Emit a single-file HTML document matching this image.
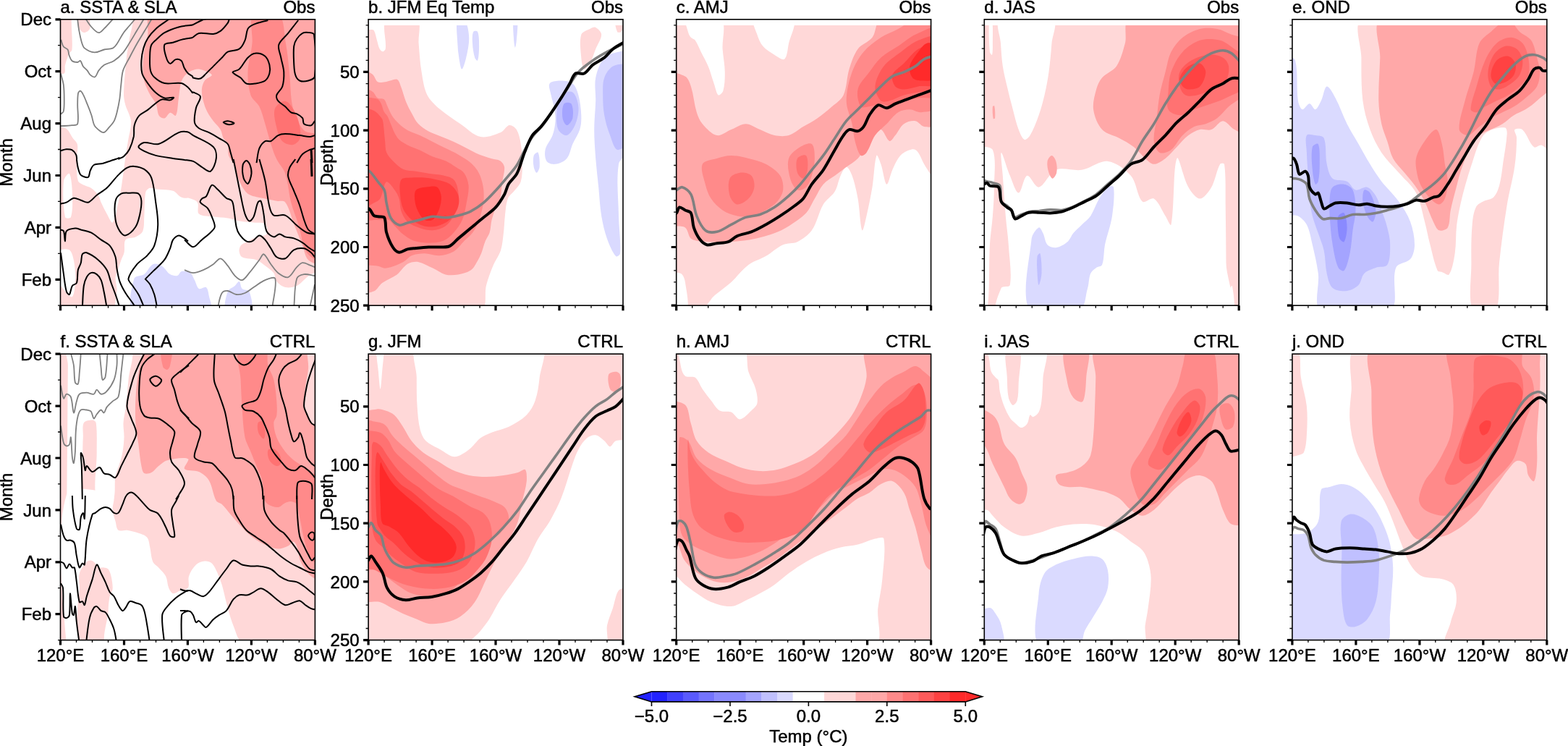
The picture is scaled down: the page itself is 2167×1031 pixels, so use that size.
<!DOCTYPE html>
<html><head><meta charset="utf-8"><style>html,body{margin:0;padding:0;background:#fff;overflow:hidden}svg{display:block}</style></head>
<body><svg width="2167" height="1031" viewBox="0 0 2167 1031">
<rect width="2167" height="1031" fill="#fff"/>
<defs>
<clipPath id="c00"><rect x="83.5" y="26.8" width="351.9" height="395.4"/></clipPath>
<clipPath id="c01"><rect x="509.1" y="26.8" width="351.9" height="395.4"/></clipPath>
<clipPath id="c02"><rect x="934.7" y="26.8" width="351.9" height="395.4"/></clipPath>
<clipPath id="c03"><rect x="1360.3" y="26.8" width="351.9" height="395.4"/></clipPath>
<clipPath id="c04"><rect x="1785.9" y="26.8" width="351.9" height="395.4"/></clipPath>
<clipPath id="c10"><rect x="83.5" y="489.2" width="351.9" height="395.4"/></clipPath>
<clipPath id="c11"><rect x="509.1" y="489.2" width="351.9" height="395.4"/></clipPath>
<clipPath id="c12"><rect x="934.7" y="489.2" width="351.9" height="395.4"/></clipPath>
<clipPath id="c13"><rect x="1360.3" y="489.2" width="351.9" height="395.4"/></clipPath>
<clipPath id="c14"><rect x="1785.9" y="489.2" width="351.9" height="395.4"/></clipPath>
</defs>
<g clip-path="url(#c00)"><rect x="82.5" y="25.8" width="353.9" height="397.4" fill="#ffd8d8"/><path d="M99.5,18.8 C99.8,16.6 106.1,17 107,18.8 C109.3,23.4 107,32.2 109,38 C110,41 113.4,44.7 116,45 C118.4,45.3 122.9,42.7 124,40 C126.4,33.9 121.2,20.8 126.5,18.8 C140.2,13.7 171.1,11.1 181,18.8 C188.3,24.5 179.4,45.6 178,59 C177.4,65.4 175.6,71.6 175,78 C173.3,94.8 171.5,111.8 171,128.6 C170.8,133.8 171.7,139 173,144 C175.1,152 180.4,159.6 181,167.6 C181.7,176.4 178.4,185.6 177,194.6 C175.7,203.1 174.2,211.5 173,220 C172.4,224 172,228 171.5,232 C170.2,241.3 169,250.7 167.5,260 C166.4,266.7 165.2,273.4 163.5,280 C161.2,289.2 159.1,304 155.6,307.5 C153.8,309.2 150,299.7 147.6,295.6 C144.7,290.5 142.2,285.1 139.7,279.7 C138.2,276.4 137.7,272.6 135.7,269.7 C133.1,265.9 129.5,262.4 125.7,259.8 C122.8,257.8 118.9,257.5 115.8,255.8 C112.9,254.2 108.6,252.8 107.8,249.8 C105.3,240.9 106.1,229.9 105.9,220 C105.8,213.3 108.2,206.2 107,200 C106.3,196.2 102.3,193.4 100,190 C97.3,186 95.6,180.8 92,178 C87.5,174.5 76.6,176.2 75.5,171 C71.1,150.8 71.8,121 75.5,101.6 C76.2,97.9 86.1,103.7 88.7,101.6 C91,99.8 89.1,93.8 90,90 C91.2,84.9 92.9,79.8 95,75 C96.1,72.6 99.3,71.1 99.5,68.5 C100.8,52.3 97.3,33.2 99.5,18.8 Z" fill="#ffffff"/><path d="M88,250 C88.4,245.9 94.8,238 96,240 C98.8,244.7 99.7,260 100,270 C100.3,280 100.6,292.1 98,300 C97.3,302.1 90.5,302.3 90,300 C87.1,285.6 86.4,265.9 88,250 Z" fill="#ffffff"/><path d="M75.5,350 C78.1,345.3 90.2,343.2 95,345 C99,346.5 100.9,354.7 102,360 C103.9,369.7 104.4,380.1 104,390 C103.7,396.7 102.7,406.6 100,410 C98.7,411.6 94,407.4 92,405 C85.8,397.4 78.2,389.2 75.5,380 C72.7,370.8 71.6,357 75.5,350 Z" fill="#ffffff"/><path d="M163.5,430.2 C154.1,429.2 162.4,409.4 161.5,399 C161.1,393.7 159.2,388.3 159.6,383.1 C159.9,379 162.2,375.2 163.5,371.2 C164.8,367.2 166.1,363.2 167.5,359.2 C168.7,355.9 170.8,352.7 171.5,349.3 C172.8,343.5 170.6,335.4 173.5,331.4 C175.9,328.1 183.2,329.5 187.4,327.4 C191.1,325.5 195.8,323 197.3,319.4 C199.7,313.7 198.8,306.2 199.3,299.6 C200.1,288.3 199.2,276.3 201.3,265.7 C201.8,263.1 204.8,260.3 207.3,259.8 C210.8,259 215.2,261.3 219.2,261.8 C225.8,262.6 233,261.8 239.1,263.8 C243,265.1 245.5,269.5 249,271.7 C250.8,272.8 252.9,273.4 255,273.7 C256.9,274 259.1,273.1 261,273.7 C265.1,275.1 270.8,276.4 272.9,279.7 C275.4,283.7 271.7,292.7 274.9,295.6 C279,299.3 288.1,298.6 294.8,299.6 C301.4,300.6 308.1,300.5 314.7,301.6 C320.1,302.5 325.2,304.6 330.6,305.5 C337.2,306.6 343.9,306.8 350.5,307.5 C355.8,308.1 363.2,306.7 366.4,309.5 C369.2,312 370.4,320.5 368.4,323.4 C366.4,326.4 359,325.6 354.5,327.4 C349,329.6 343.8,332.6 338.6,335.4 C336.5,336.6 333.9,337.5 332.6,339.4 C331.2,341.5 330.3,344.8 330.6,347.3 C330.9,350.1 332.2,354.1 334.6,355.3 C340.1,358.1 348.3,357 354.5,359.3 C358.9,360.9 362.6,364.3 366.4,367.2 C370.5,370.3 375.4,373.2 378.3,377.2 C380.7,380.5 379.8,386 382.3,389.1 C385.1,392.6 389.9,396.1 394.3,397 C399.2,398.1 405.5,397.1 410.2,395.1 C414.8,393.1 418.1,388.4 422.1,385.1 C424.7,383 427,380.2 430,379.1 C434.1,377.6 442.5,373.7 443.4,377.2 C447,390.8 458.3,427.4 443.4,430.2 C365,445.1 248,439.6 163.5,430.2 Z" fill="#ffffff"/><path d="M185.4,430.2 C174.9,425.7 181.9,397.9 185.4,385.1 C186.6,380.8 195.4,382.1 199.3,379.1 C204,375.5 206.5,367.6 211.3,365.2 C214.5,363.6 219.9,365.3 223.2,367.2 C227.8,369.9 230.6,376.2 235.1,379.1 C237.9,380.8 242.2,381.8 245.1,381.1 C247.5,380.5 248.6,375.6 251,375.1 C254.5,374.3 259.9,375.1 263,377.2 C265.9,379.1 267.1,383.7 268.9,387.1 C271,391 271.9,397.1 274.9,399 C277.2,400.4 282.7,395.5 284.8,397 C287.4,398.9 288.1,404.9 288.8,409 C290.1,415.9 296.6,429 290.8,430.2 C262.1,436.1 210,440.7 185.4,430.2 Z" fill="#dadaff"/><path d="M312.7,430.2 C308,426.2 312,411 314.7,403 C316,399.3 321.4,397.9 324.6,395.1 C326.7,393.2 329.1,388.5 330.6,389.1 C332.5,389.8 332.3,396.7 334.6,399 C336.9,401.3 343.4,400.1 344.5,403 C347.4,410.5 351.2,426.2 346.5,430.2 C340.6,435.2 318.6,435.2 312.7,430.2 Z" fill="#dadaff"/><path d="M209,18.8 C199.8,20 205.9,39 204.1,49.1 C202.3,58.8 199.3,68.4 198.3,78.2 C197.3,87.8 196.8,97.9 198.3,107.3 C199.4,114.7 202.9,121.8 206.1,128.6 C208.7,134.1 213.4,138.7 215.8,144.2 C217.9,149 217.2,155.5 219.7,159.7 C221.1,161.9 225.1,164.1 227.4,163.5 C230.3,162.8 232.3,156.5 235.2,155.8 C237.5,155.2 241.9,161.4 242.9,159.7 C245.7,155 245.6,144.2 246.8,136.4 C247.9,129.3 248.2,121.9 250,115 C250.9,111.4 252.6,107.7 255,105 C257.6,101.9 261.3,99.3 265,97.6 C268,96.2 271.7,94.9 274.9,95.6 C281,96.9 291.2,100.3 292.8,103.5 C293.8,105.6 285.1,108.1 282.8,111.5 C280.5,114.8 279.2,119.3 278.9,123.4 C278.5,128.6 279.6,134.2 280.9,139.4 C282.2,144.9 284.3,150.3 286.8,155.3 C288.9,159.5 291.9,163.4 294.8,167.2 C297.9,171.3 302.2,174.7 304.7,179.1 C306.8,182.7 306.8,187.4 308.7,191.1 C310.2,194 313.8,196 314.7,199 C316.2,203.9 314.5,210 316,215 C317.2,219 321,222.1 322.6,226 C325.8,233.7 327,242.3 330.6,249.8 C333.7,256.2 337.1,263.6 342.5,267.7 C347.7,271.6 355.7,272 362.4,273.7 C369,275.3 375.7,276.4 382.3,277.7 C386.3,278.4 392.1,276.8 394.3,279.7 C400.1,287.4 402.2,299.6 406.2,309.5 C410.2,319.5 414.1,329.4 418.1,339.4 C420.7,346 421.5,354.9 426.1,359.2 C429.9,362.8 443.1,368.8 443.4,363.2 C448.9,255.3 489.9,87.1 443.4,18.8 C411.8,-27.7 279.5,9.9 209,18.8 Z" fill="#ffa8a8"/><path d="M350,18.8 C355.6,12.5 378.2,12.6 385,18.8 C393.2,26.3 392.4,46.1 395,60 C397.4,73.2 398.5,86.6 400,100 C401.8,116.6 401,134 405,150 C407.7,160.7 412.7,172.4 420,180 C425.5,185.8 442.4,182.2 443.4,190 C450.2,241.9 449.1,312.1 443.4,359.2 C442.7,365.2 427.7,355 424.1,349.3 C417.3,338.4 416.4,322.7 412.2,309.5 C409.1,299.5 404.8,289.8 402.2,279.7 C398.8,266.6 398.5,252.6 394.3,239.9 C391.9,232.7 385.7,226.9 382.3,220 C379,213.3 376.7,206.1 374.4,199 C371.4,189.8 369.3,180.4 366.4,171.2 C363.9,163.2 362.1,154.7 358.4,147.3 C355.5,141.5 348.5,137.5 346.5,131.4 C343.2,121.6 342.2,110.2 342.5,99.6 C342.9,86.3 347.3,73.1 348.5,59.8 C349.8,46.2 343.4,26.2 350,18.8 Z" fill="#ff8a8a"/><path d="M380,150 C381.8,145.1 390.8,138.6 395,140 C400.8,141.9 407,152.5 410,160 C413.7,169.1 416.1,180.9 415,190 C414.5,194.2 408.9,199.2 405,200 C400.6,200.9 393.2,198.5 390,195 C385.6,190.2 383.5,181.9 382,175 C380.2,166.9 377.5,156.8 380,150 Z" fill="#ff7272"/><path d="M233.2,26.8 C227.4,31 221.1,34.6 215.8,39.4 C211.4,43.4 207.3,48 204.2,53 C201.5,57.1 199.7,61.8 198.3,66.6 C196.7,72.2 195.7,78.2 195.4,84 C195.1,89.8 194.9,96 196.4,101.5 C197.8,106.4 201.1,110.8 204.2,115.1 C207.6,119.9 211.4,124.8 215.8,128.6 C219.1,131.5 223.3,134.4 227.4,135.4 C231.3,136.4 238.3,134.2 240,134.8 C240.9,135.2 237,138 235.2,138.3 C231.6,138.9 227.2,136.6 223.5,137.4 C220.7,137.9 218.2,140.4 215.8,142.2 C211.8,145.2 208.2,148.9 204.2,151.9 C200.4,154.7 195.5,156.3 192.5,159.7 C189.3,163.4 187,168.5 185.7,173.2 C184.4,178.2 185.8,183.7 184.8,188.8 C183.5,194.7 181.6,200.8 178.9,206.2 C177.1,209.9 174.2,213.2 171.2,215.9 C169,217.8 166,218.6 163.4,220" fill="none" stroke="#000" stroke-width="2.0"/><path d="M266.2,34.5 C259.8,35.5 253.1,35.7 246.8,37.5 C240.2,39.3 233.4,41.8 227.4,45.2 C223.1,47.7 219.4,51.5 215.8,54.9 C213.3,57.3 210.2,59.6 209,62.7 C207.2,67.4 207.2,73 207.1,78.2 C206.9,84.6 206.6,91.5 208,97.6 C208.9,101.2 211.1,104.9 213.9,107.3 C217.6,110.7 222.5,114 227.4,115.1 C234.8,116.6 243.3,113.7 250.7,115.1 C254.2,115.7 257.3,118.5 260,120.9 C262.5,123 264.2,126 266.2,128.6" fill="none" stroke="#000" stroke-width="2.0"/><path d="M266.2,52 C261.1,53 255.8,53.6 250.7,54.9 C246.7,55.9 243,57.7 239.1,58.8 C235.2,59.9 228.8,59 227.4,61.7 C225.6,65.5 227.8,73 229.4,78.2 C230.4,81.7 232.8,87.2 235.2,87.9 C237.3,88.5 240.1,82.8 242.9,82.1 C245.3,81.5 249,82.3 250.7,84 C252.9,86.2 253,90.7 254.6,93.7 C256.1,96.5 257.8,99.3 260,101.5 C261.7,103.2 264.2,104.1 266.2,105.4" fill="none" stroke="#000" stroke-width="2.0"/><path d="M191.4,203 C191.4,201 196.2,197.4 199.3,197 C205.5,196.1 213.1,200.8 219.2,199 C229,196.1 237.4,187.1 247.1,183.1 C250.7,181.6 255.3,181.5 259,182.3 C261.9,182.9 264.3,185.5 267,187.1 C276.2,192.4 287.8,196 294.8,203 C298.4,206.6 299.4,213.8 298.8,218.9 C298.1,225 294.8,234.4 290.8,236.8 C288.1,238.4 282.7,233.1 278.9,230.8 C274.8,228.4 271.3,224.7 267,222.9 C263.3,221.3 259,221.4 255,220.9 C249.7,220.1 244.4,219.7 239.1,218.9 C231.1,217.7 223,216.9 215.2,214.9 C209.8,213.5 204.4,211.5 199.3,208.9 C196.4,207.5 191.4,205 191.4,203 Z" fill="none" stroke="#000" stroke-width="2.0"/><path d="M83.9,208.2 C86.5,207.5 89,206.4 91.6,206.2 C94.2,206.1 97.3,206 99.4,207.2 C101.8,208.6 103.9,211.4 105.2,214 C106.1,215.7 105.9,218 106.2,220" fill="none" stroke="#000" stroke-width="2.0"/><path d="M84.3,54.9 C85.4,58.2 85.9,61.9 87.8,64.6 C89,66.4 92.4,66.7 93.6,68.5 C95,70.6 94.6,73.8 95.5,76.3 C96.5,78.9 97.4,82.3 99.4,84 C101.3,85.6 104.6,86 107.2,86 C108.5,86 110.2,83.4 111,84 C112.8,85.3 113.3,89.5 114.9,91.8 C116.5,94 119,95.5 120.7,97.6 C122.2,99.4 122.9,102 124.6,103.4 C126.4,104.9 129.8,107.1 131.4,106.3 C133.6,105.2 134.3,100.2 136.3,97.6 C138.5,94.7 141,91.8 144,89.8 C148.1,87.2 153.5,86.7 157.6,84 C162.2,81 166.4,77 170,72.8 C173.6,68.6 176.3,63.5 179.3,58.8 C182.5,53.7 185.5,48.5 188.6,43.3 C191.7,38.1 194.9,33 197.9,27.8 C198.3,27.2 198.5,26.5 198.7,25.8" fill="none" stroke="#808080" stroke-width="1.8"/><path d="M107.2,26.8 C107.8,31.6 108.2,36.5 109.1,41.3 C110.2,47.2 111.2,53.1 113,58.8 C113.8,61.5 114.7,64.9 116.9,66.6 C120.5,69.4 125.8,72 130.4,72.4 C134.9,72.7 139.4,69.6 144,68.5 C147.8,67.6 152.2,68.1 155.7,66.6 C158,65.5 159.9,63 161.5,60.7 C164.7,56.2 166.9,51 170,46.4 C171.8,43.6 174.1,41.2 176.2,38.6 C179.3,35 182.6,31.5 185.5,27.8 C186,27.2 186,26.5 186.3,25.8" fill="none" stroke="#808080" stroke-width="1.8"/><path d="M118.8,26.8 C121.4,30.3 123.6,34.3 126.6,37.5 C129.4,40.4 133,44.9 136.3,45.2 C138.8,45.5 141.7,41.6 144,39.4 C148.1,35.5 151.8,31 155.7,26.8" fill="none" stroke="#808080" stroke-width="1.8"/><path d="M209.6,25.8 C209.3,26.5 209.2,27.2 208.8,27.8 C205.8,33 202.6,38.1 199.5,43.3 C196.4,48.5 193.2,53.5 190.2,58.8 C186.4,65.4 182.8,72.2 179.3,79 C176.1,85.1 172.1,91.1 170,97.6 C168.1,103.7 168.1,110.5 167.3,117 C166.5,123.4 166.3,130 165.4,136.4 C164.4,142.9 163.1,149.4 161.5,155.8 C160.5,159.8 159.5,163.9 157.6,167.4 C155.6,171 152.6,174 149.8,177.1 C148,179.2 146.2,182.2 144,182.9 C142.4,183.5 139.8,182.2 138.2,181 C135.3,178.9 132.1,176.4 130.4,173.2 C128.3,169.2 128,164.1 126.6,159.7 C124.8,154.4 122.8,149.3 120.7,144.2 C118.9,139.6 117.2,134.9 114.9,130.6 C114,128.8 112.4,126.1 111,125.7 C110.1,125.5 108.4,127.3 108.1,128.6 C107.1,133.5 107.3,139 107.2,144.2 C107,153.2 109.2,163.8 107.2,171.3 C106.6,173.5 102,172.9 99.4,173.2 C94.3,173.9 89.1,173.9 83.9,174.2" fill="none" stroke="#808080" stroke-width="1.8"/><path d="M83.9,101.5 C85.2,106.6 87,111.7 87.8,117 C88.6,123.4 88.7,129.9 88.7,136.4 C88.7,142.2 89,148.4 87.8,153.9 C87.4,155.5 85.2,156.4 83.9,157.7" fill="none" stroke="#808080" stroke-width="1.8"/><path d="M84,281.7 C86.6,281 89.5,280.8 91.9,279.7 C95.4,278.1 98.4,274.2 101.9,273.7 C105,273.2 108.5,275.7 111.8,276.7 C115.1,277.7 118.8,280.6 121.8,279.7 C126.1,278.3 129.6,272.9 133.7,269.7 C138.2,266.2 143.5,263.6 147.6,259.8 C153.4,254.4 157.9,247.5 163.5,241.9 C167.2,238.2 171.1,234.3 175.5,231.9 C178.3,230.4 182.1,229.7 185.4,229.9 C190.1,230.3 195.5,231.4 199.3,233.9 C203.4,236.7 207.6,241.1 209.3,245.9 C212.9,256.4 213.7,268.3 215.2,279.7 C216.7,290.2 218.6,300.9 218.2,311.5 C217.9,320.8 216.4,330.7 213.3,339.3 C211.4,344.6 207.1,349.1 203.3,353.3 C199.2,357.7 193.2,360.5 189.4,365.2 C184.6,371.1 178.8,378.4 177.5,385.1 C176.8,388.4 181.3,391.8 183.4,395 C186,399.1 189.1,402.7 191.4,407 C194.5,412.8 196.7,419 199.3,425.1" fill="none" stroke="#000" stroke-width="2.0"/><path d="M84,317.5 C85.3,318.1 87.5,318.2 88,319.4 C89.5,323.5 89.3,333.4 89.9,333.4 C90.6,333.4 89.5,322.6 91.9,319.4 C94.1,316.6 99.9,315.9 103.9,315.5 C106.5,315.2 109.2,316.7 111.8,317.5 C116.5,318.7 121.5,319.3 125.7,321.4 C130.8,323.9 135,328.1 139.7,331.4 C143.6,334.1 148.6,335.8 151.6,339.3 C155.3,343.7 157.8,349.7 159.6,355.2 C161.1,360.3 160.6,365.9 161.5,371.2 C162.6,377.2 163.5,383.3 165.5,389.1 C167.5,394.6 170.4,399.9 173.5,405 C176.4,409.8 180.2,414.2 183.4,418.9 C184.8,420.9 186.1,423 187.4,425.1" fill="none" stroke="#000" stroke-width="2.0"/><path d="M84,349.3 C85.3,359.2 86.5,369.2 88,379.1 C89.1,387.1 89.8,395.4 91.9,403 C92.4,404.7 95.1,407.8 95.9,407 C97.7,405.1 97.8,398.4 99.9,395 C101.1,393.1 105.1,393.1 105.9,391 C107.8,385.8 106.6,379 107.8,373.1 C108.6,369.7 110.9,366.6 111.8,363.2 C112.9,359.3 112.1,354.3 113.8,351.3 C114.7,349.7 117.9,348.6 119.8,349.3 C125.2,351.3 131,355.2 135.7,359.2 C140.3,363.2 144.7,367.9 147.6,373.1 C150.6,378.5 151.5,385.1 153.6,391 C155.5,396.4 157.7,401.6 159.6,407 C161.7,412.9 163.5,419 165.5,425.1" fill="none" stroke="#000" stroke-width="2.0"/><path d="M113.8,425.1 C114.5,415 114.4,404.9 115.8,395 C116.4,390.9 117.8,386.7 119.8,383.1 C121.1,380.7 123.4,377.8 125.7,377.1 C128,376.5 131.6,377.6 133.7,379.1 C136.2,380.9 138.4,384.1 139.7,387.1 C141.7,392 142.5,397.6 143.6,403 C145.2,410.3 146.3,417.7 147.6,425.1" fill="none" stroke="#000" stroke-width="2.0"/><path d="M159.6,277.7 C160.4,273.7 164.1,269.6 167.5,267.7 C170.7,266 175.5,266.7 179.4,266.7 C183.4,266.7 188.6,265.8 191.4,267.7 C193.9,269.5 195.1,274.2 195.4,277.7 C195.8,283.5 194.7,289.7 193.4,295.6 C192,301.7 190.8,308.4 187.4,313.5 C184.1,318.4 178.2,324.1 173.5,325.4 C170.9,326.1 167.2,322.1 165.5,319.4 C162.6,314.8 160.3,309.1 159.6,303.5 C158.4,295.1 157.8,285.7 159.6,277.7 Z" fill="none" stroke="#000" stroke-width="2.0"/><path d="M105.9,220 C106.5,224 106.8,228.1 107.8,231.9 C108.8,235.4 109.5,239.7 111.8,241.9 C114.1,244 119.5,245.9 121.8,244.9 C123.8,243.9 123.4,238.7 124.7,235.9 C126.1,233.1 127.3,229.4 129.7,228 C132.9,226.1 137.8,226.9 141.7,226 C145.7,225 149.6,223.3 153.6,222 C155.6,221.3 157.6,220.7 159.6,220 C161.5,219.3 163.5,218.7 165.5,218" fill="none" stroke="#000" stroke-width="2.0"/><path d="M201.3,385.1 C204.6,381.8 208,378.4 211.3,375.1 C216.6,369.8 222.7,365.1 227.2,359.2 C230.7,354.5 232.8,348.7 235.1,343.3 C236.8,339.5 236.9,334.7 239.1,331.4 C240.9,328.7 244.3,325.8 247.1,325.4 C249.6,325.1 252.5,327.8 255,329.4 C256.8,330.5 258.3,332 260,333.4" fill="none" stroke="#000" stroke-width="2.0"/><path d="M200.3,385.1 C202.6,387.7 205.5,390 207.3,393 C209.8,397.3 211.8,402.2 213.3,407 C215.1,412.8 215.9,419 217.2,425.1" fill="none" stroke="#000" stroke-width="2.0"/><path d="M322.6,220 C324,226.6 325.3,233.3 326.6,239.9 C328.6,249.8 330.5,259.8 332.6,269.7 C334.4,278.4 335.8,287.3 338.5,295.6 C339.8,299.2 342.2,304.8 344.5,305.5 C346.2,306.1 349.3,302.1 350.5,299.6 C353.3,293.4 353.7,285.7 356.5,279.7 C357,278.4 359.9,276.7 360.4,277.7 C362.6,282 363.3,289.6 364.4,295.6 C365.9,303.5 365.3,312.5 368.4,319.5 C370,323.1 374.8,326.6 378.3,327.4 C380.8,328 383.6,323.4 386.3,323.4 C388.9,323.4 391.4,326.6 394.2,327.4 C398.1,328.6 402.4,328.1 406.2,329.4 C410.4,330.8 414.4,333 418.1,335.4 C421.7,337.6 424.6,340.9 428.1,343.3 C430.2,344.9 432.7,346 435,347.3" fill="none" stroke="#000" stroke-width="2.0"/><path d="M255,331.4 C259,334.7 263,341.3 266.9,341.3 C270.9,341.3 274.9,334.7 278.9,331.4 C282.8,328.1 287.2,325.1 290.8,321.5 C293.1,319.1 296.5,316.5 296.8,313.5 C297.2,309.2 294.5,304.1 292.8,299.6 C291.2,295.4 289.5,291 286.8,287.6 C284.2,284.4 278.7,282.7 276.9,279.7 C276.1,278.4 277.7,275.9 278.9,274.7 C280.3,273.2 283.6,273.4 284.8,271.7 C288.2,267.1 289.4,257.9 292.8,255.8 C294.7,254.6 298.3,259.6 300.8,261.8 C304.9,265.5 308.3,270.2 312.7,273.7 C315,275.5 319.2,275.4 320.6,277.7 C322.9,281.4 322.8,286.9 323.6,291.6 C324.8,298.9 325.1,306.4 326.6,313.5 C327.4,317 328.6,320.6 330.6,323.4 C333.2,327.2 336.7,331.3 340.5,333.4 C342.7,334.6 346.2,334.4 348.5,333.4 C352.2,331.8 355.1,325.8 358.4,325.4 C361.1,325.1 364.2,329 366.4,331.4 C369.5,334.9 371.7,339.4 374.4,343.3 C377,347.3 378.7,352.8 382.3,355.3 C385.3,357.4 390.9,358.6 394.2,357.3 C398.9,355.3 401.5,347.9 406.2,345.3 C410.1,343.2 415.7,342.6 420.1,343.3 C423.7,343.9 427.1,346.9 430.1,349.3 C432,350.9 433.4,353.3 435,355.3" fill="none" stroke="#000" stroke-width="2.0"/><path d="M358.4,220 C361.1,229.9 364.3,239.8 366.4,249.8 C368.9,261.7 369.5,274 372.4,285.6 C373.4,289.9 375,295.8 378.3,297.6 C382.3,299.7 389.7,295.6 394.2,297.6 C400.3,300.2 404.7,307.1 410.2,311.5 C414.6,315.1 419.1,319 424.1,321.5 C427.4,323 431.4,322.8 435,323.4" fill="none" stroke="#000" stroke-width="2.0"/><path d="M408.2,220 C405.5,224 402,227.6 400.2,231.9 C398.7,235.6 397.5,240 398.2,243.9 C399.5,250.7 403.5,257.1 406.2,263.8 C408.8,270.4 411.8,276.9 414.1,283.7 C416.4,290.2 417.8,297 420.1,303.5 C421.8,308.3 423.2,313.6 426.1,317.5 C428.1,320.2 432,321.5 435,323.4" fill="none" stroke="#000" stroke-width="2.0"/><path d="M335.6,228 C336,225.6 338.9,222 340.5,222 C342.2,222 344.6,225.6 345.5,228 C346.9,231.6 347.9,236 347.5,239.9 C347,244.6 344.7,252.6 342.5,253.8 C341.1,254.6 337.4,248.9 336.6,245.9 C335.1,240.3 334.6,233.5 335.6,228 Z" fill="none" stroke="#000" stroke-width="2.0"/><path d="M430.1,220 L431,243.9" fill="none" stroke="#000" stroke-width="3"/><path d="M255,373.2 C259,374.5 262.9,377.2 266.9,377.2 C271.5,377.2 276.5,375.1 280.9,373.2 C285.7,371.1 290.4,368.2 294.8,365.2 C298.3,362.9 301.6,356.9 304.7,357.3 C308.2,357.6 311.7,363.6 314.7,367.2 C318.3,371.6 320.7,377.2 324.6,381.1 C327.3,383.8 331.6,387.7 334.6,387.1 C338.2,386.4 341.5,380.7 344.5,377.2 C349.4,371.4 353.8,365.2 358.4,359.2 C360.5,356.6 362.5,350.6 364.4,351.3 C367.8,352.5 370.9,360.7 374.4,365.2 C377.5,369.3 380.3,374.1 384.3,377.2 C388.2,380.1 394.3,384.3 398.2,383.1 C402.9,381.7 405.9,373.5 410.2,369.2 C412.5,366.9 415.2,363.5 418.1,363.2 C421.8,362.9 426.1,365.8 430.1,367.2 C431.7,367.8 433.4,368.5 435,369.2" fill="none" stroke="#808080" stroke-width="1.8"/><path d="M300.8,425.1 C302.7,418.4 303.4,410.5 306.7,405 C308.1,402.8 312,401.8 314.7,402 C318.7,402.4 322.5,406.5 326.6,407 C330.5,407.5 334.9,406.5 338.5,405 C342.9,403.2 346.5,399.6 350.5,397 C355.7,393.7 360.7,389.4 366.4,387.1 C370.7,385.4 379.5,381.8 380.3,385.1 C382.8,394.5 377.7,411.8 376.3,425.1" fill="none" stroke="#808080" stroke-width="1.8"/><path d="M406.2,425.1 C407.5,411.8 406.6,397 410.2,385.1 C411.2,381.7 416.5,379.7 420.1,379.1 C424.8,378.4 430.1,380.5 435,381.1" fill="none" stroke="#808080" stroke-width="1.8"/><path d="M428.1,425.1 L435,393.1" fill="none" stroke="#808080" stroke-width="1.8"/><path d="M266.1,34.5 C270.4,32.3 274.5,29.9 278.9,28 C280.8,27.1 282.8,26.6 284.8,26" fill="none" stroke="#000" stroke-width="2.0"/><path d="M266.1,52 C269.1,50 271.6,46.5 274.9,45.9 C281.1,44.7 288.3,47.5 294.8,46.9 C298.3,46.5 301.9,45 304.7,42.9 C308.6,40 311.8,35.8 314.7,31.9 C315.7,30.5 316,28.6 316.7,27" fill="none" stroke="#000" stroke-width="2.0"/><path d="M266.1,105.3 C266.4,106.1 266.3,107.3 266.9,107.5 C269.8,108.4 274,109.5 276.9,108.5 C279.9,107.5 282.3,104 284.8,101.6 C288.2,98.3 291.5,94.9 294.8,91.6 C298.8,87.6 302.7,83.7 306.7,79.7 C309.4,77 311.4,73.3 314.7,71.7 C319.4,69.4 326.3,70.6 330.6,67.7 C334.3,65.3 336.7,60.1 338.5,55.8 C340.7,50.9 340.1,44.4 342.5,39.9 C344,37.1 347.5,35.2 350.5,33.9 C356.8,31.2 363.7,29.9 370.4,28" fill="none" stroke="#000" stroke-width="2.0"/><path d="M266.1,128.6 C266.4,128.2 266.5,127.2 266.9,127.4 C270.1,128.8 276.3,130.4 276.9,133.4 C277.7,137.7 272.1,143.8 270.9,149.3 C269.5,155.8 268,163 268.9,169.2 C269.4,172.3 272.3,175.3 274.9,177.2 C278.9,180 284.3,180.9 288.8,183.1 C293.6,185.5 298.2,188.3 302.7,191.1 C306.8,193.6 311.9,195.5 314.7,199 C317.2,202.1 317.4,207 318.7,211 C320.1,215.6 321.3,220.4 322.6,225.1" fill="none" stroke="#000" stroke-width="2.0"/><path d="M321.6,99.6 C323,97.9 328.3,97.8 330.6,95.6 C335.3,91.1 337.9,84.3 342.5,79.7 C345.2,77 348.9,74 352.5,73.7 C356.9,73.3 362.9,74.9 366.4,77.7 C369.6,80.2 371.3,85.4 372.4,89.6 C373.3,93.4 373.4,97.9 372.4,101.6 C371.4,105.2 369.3,109.4 366.4,111.5 C362.7,114.1 357.2,114.8 352.5,115.5 C348.6,116.1 344,116.8 340.5,115.5 C337.3,114.2 335.5,109.9 332.6,107.5 C330.2,105.6 327.1,104.4 324.6,102.6 C323.5,101.7 321,100.3 321.6,99.6 Z" fill="none" stroke="#000" stroke-width="2.0"/><path d="M308.7,169.2 C308.4,168.5 312.7,167.1 314.7,167.2 C317.7,167.4 323.3,169.3 323.6,170.2 C323.9,170.9 319,172.3 316.7,172.2 C314,172 309.1,170.1 308.7,169.2 Z" fill="none" stroke="#000" stroke-width="2.0"/><path d="M412.2,28 C407.5,33.9 402.9,39.9 398.2,45.9 C394,51.2 387.1,55.8 385.3,61.8 C383.7,67.1 387.2,73.7 388.3,79.7 C389.5,86.3 391.9,92.9 392.3,99.6 C392.6,106.2 392.2,113.3 390.3,119.5 C388.9,123.9 383.6,127.2 382.3,131.4 C381.6,133.8 382.7,137.3 384.3,139.4 C386.7,142.6 391.1,144.5 394.2,147.3 C397,149.8 399.1,153.4 402.2,155.3 C404.4,156.7 407.8,156.1 410.2,157.3 C413.1,158.7 416.3,160.7 418.1,163.2 C419.6,165.3 418.3,169.7 420.1,171.2 C422.3,173 427.2,173.9 430.1,173.2 C432.2,172.6 433.4,169.2 435,167.2" fill="none" stroke="#000" stroke-width="2.0"/><path d="M406.2,63.8 C406.6,60.3 408.2,56.7 410.2,53.8 C412.2,50.8 415,47.6 418.1,45.9 C420.3,44.6 423.5,44.5 426.1,44.9 C428.8,45.2 433.7,45.3 434,47.8 C436.6,65.5 437.3,87.7 435,105.5 C434.6,108.9 429.4,110.6 426.1,111.5 C422.4,112.6 417.4,113 414.1,111.5 C411.4,110.3 409.2,106.6 408.2,103.5 C406.5,98.6 406.5,93 406.2,87.6 C405.8,79.7 405.3,71.5 406.2,63.8 Z" fill="none" stroke="#000" stroke-width="2.0"/><path d="M354.5,225.1 C355.8,218.4 356,211.2 358.4,205 C360,201.2 363.1,197.1 366.4,195.1 C368.4,193.8 372.1,196.1 374.4,195.1 C378,193.4 380.6,188.9 384.3,187.1 C387.2,185.6 390.9,185.1 394.2,185.1 C400.8,185.1 407.5,186.3 414.1,187.1 C418.8,187.6 423.5,189.1 428.1,189.1 C430.4,189.1 432.7,187.8 435,187.1" fill="none" stroke="#000" stroke-width="2.0"/><path d="M410.2,225.1 C412.8,221 414.8,216.3 418.1,213 C420.8,210.3 424.6,208.6 428.1,207 C430.2,206 432.7,205.7 435,205" fill="none" stroke="#000" stroke-width="2.0"/><path d="M430.1,207 L431,225.1" fill="none" stroke="#000" stroke-width="3"/></g>
<g clip-path="url(#c01)"><g clip-path="url(#db)"><clipPath id="db"><rect x="509.1" y="35.1" width="351.9" height="387.1"/></clipPath><path d="M501.1,42.3 C501.1,42.4 501,41.9 501.1,41.9 C505.1,41.5 509.3,41 513.4,41.1 C514.6,41.1 516.4,41.2 516.9,42.3 C518.9,46 519.6,51 520.9,55.4 C522.1,59.4 522.7,63.7 524.5,67.3 C525.3,69 527.4,71.3 528.9,71.3 C530.2,71.3 532.6,69.1 532.8,67.3 C534.4,54.4 526.9,33.6 534,27.1 C541.5,20.2 568.2,20.9 576.6,27.1 C583.1,31.8 577.7,48.9 578.6,59.8 C579.7,73.1 580.4,86.4 582.6,99.6 C584.4,110.3 585.8,121.9 590.5,131.4 C594.4,139.1 601.7,145.4 608.4,151.3 C617,158.7 626.8,164.8 636.3,171.2 C645.4,177.3 654.1,186.9 664.1,189.1 C672.7,190.9 683.4,186.5 692,183.1 C696.6,181.2 699.7,173.9 703.9,173.1 C707,172.6 711.9,176 713.8,179.1 C717.2,184.6 718.7,192.2 719.8,199 C721.3,208.1 721.8,217.6 721.8,226.8 C721.8,234.8 721.9,243.2 719.8,250.7 C718.6,255.2 714.7,258.8 711.8,262.6 C708.7,266.8 703.7,269.9 701.9,274.6 C699.1,281.8 698.9,290.4 697.9,298.4 C696.9,306.4 696.9,314.4 695.9,322.3 C694.9,330.3 694.4,338.6 692,346.2 C689.7,353.2 684.9,359.2 682,366.1 C678.2,375.1 674.7,384.4 672.1,393.9 C668.7,405.8 674.7,428 664.1,430.2 C617.7,440.1 516.7,468.9 501.1,430.2 C462.4,334.5 501.1,151.7 501.1,27.1 C501.1,22.4 501.1,37.5 501.1,42.3 Z" fill="#ffd8d8"/><path d="M803.3,47.8 C804.6,43.7 811,42 815.3,39.9 C817.7,38.7 821.1,36.9 823.2,37.9 C826.4,39.5 831.2,44.1 831.2,47.8 C831.2,54.1 825.9,61.1 823.2,67.7 C820.6,74.4 818.7,81.5 815.3,87.6 C813.4,90.8 808.9,96.7 807.3,95.6 C804.9,94 803.8,85.1 803.3,79.7 C802.5,69.2 800.6,57 803.3,47.8 Z" fill="#ffd8d8"/><path d="M851.1,27.1 C853.8,24.2 867.9,24.5 869,27.1 C870.3,30 862.4,39.4 858.2,43.9 C857.1,45 853.6,45.2 853.1,43.9 C851.2,39.6 848.5,29.8 851.1,27.1 Z" fill="#ffd8d8"/><path d="M501.1,94.2 C501.1,94 501,94.5 501.1,94.6 C505.7,97.5 511.2,99.5 515.2,103.1 C518.2,105.8 518.9,111.4 522,113.3 C524.5,114.8 528.8,113.6 532.2,113.3 C534.5,113.1 536.7,112 539,111.6 C542.3,110.9 546.7,108.5 549.1,109.9 C551.8,111.4 552.9,116.5 554.2,120.1 C556.8,126.7 558.3,133.8 561,140.4 C563.4,146.3 566.4,151.9 569.5,157.4 C572.1,162.1 574.4,167.2 578,171 C582,175.2 587.2,178.6 592.3,181.5 C597.8,184.5 603.9,186.3 609.8,188.8 C615.6,191.2 621.5,193.4 627.2,196 C633.1,198.7 638.9,201.9 644.7,204.8 C650.5,207.7 656.1,211 662.1,213.5 C667.8,215.8 673.7,217.5 679.6,219.3 C683.4,220.5 688.1,220.2 691.2,222.2 C694,224 696.7,227.7 697.1,231 C697.7,237.4 695.1,244.5 694.2,251.3 C693.1,259.1 693.1,267.1 691.2,274.6 C690.2,278.8 687,282.2 685.4,286.2 C683.1,291.9 681.1,297.8 679.6,303.7 C678.2,309.4 678.4,315.6 676.7,321.2 C675.5,325.3 672.5,328.8 670.9,332.8 C668.6,338.5 667.3,344.6 665.1,350.3 C663.4,354.3 661.5,358.2 659.2,361.9 C656.7,366 654.4,371 650.5,373.5 C645.6,376.8 639,378.4 633,379.4 C627.4,380.3 621.1,380.7 615.6,379.4 C609.4,377.8 604,373.4 598.1,370.6 C591.4,367.5 584.7,363.1 577.8,361.9 C573.1,361.1 567.3,362.4 563.2,364.8 C557.6,368.2 554.1,375.3 548.7,379.4 C542.4,384 534.6,386.4 528.3,391 C523.9,394.2 521.3,400.6 516.6,402.6 C512.2,404.5 501.3,407.6 501.1,402.6 C496.2,304.8 501.1,196.7 501.1,94.2 Z" fill="#ffa8a8"/><path d="M501.1,118.9 C501.1,118.5 500.8,119.9 501.1,120.1 C505.5,122.5 511.1,123.9 515.2,126.9 C518,128.9 519.1,133.5 522,135.4 C524.2,136.9 528.5,135.4 530.5,137.1 C533,139.3 533.9,143.8 535.6,147.2 C537.8,151.8 539.6,156.6 542.3,160.8 C544.9,164.7 548.2,168.2 551.6,171.3 C555.1,174.6 559,177.7 563.2,180 C568.7,183 574.9,184.7 580.7,187.3 C586.6,190 592.3,193.1 598.1,196 C603.9,198.9 609.8,201.9 615.6,204.8 C621.4,207.7 627.4,210.2 633,213.5 C639.1,217 645.4,220.5 650.5,225.1 C655.1,229.2 659.4,234.2 662.1,239.7 C665.2,245.9 667,253.1 668,260.1 C668.9,266.7 668.9,273.7 668,280.4 C666.9,288.3 664.8,296.2 662.1,303.7 C660,309.8 657.1,315.9 653.4,321.2 C650.3,325.6 645.7,328.9 641.8,332.8 C636.9,337.7 633,344 627.2,347.4 C621.3,350.8 613.7,352.7 606.9,353.2 C600.2,353.6 593.3,350.3 586.5,350.3 C580.6,350.3 574.3,351 569,353.2 C564.6,354.9 561.7,359.8 557.4,361.9 C550,365.6 542,369.3 534.1,370.6 C530.3,371.3 526.3,368.7 522.5,367.7 C515.3,365.8 501.7,368.8 501.1,361.9 C494.6,285.9 501.1,199.1 501.1,118.9 Z" fill="#ff8a8a"/><path d="M501.1,132.6 C501.1,132.2 500.8,133.6 501.1,133.7 C505.5,134.5 510.5,134.6 515.2,135.4 C517.5,135.7 520.2,135.8 522,137.1 C524.1,138.6 525.8,141.4 527.1,143.9 C528.6,147 528.9,150.9 530.5,154 C531.7,156.5 534.2,158.4 535.6,160.8 C537.6,164.6 538.9,168.8 540.6,172.7 C542.3,176.7 543.7,180.8 545.7,184.6 C547.4,187.6 549.1,190.9 551.6,193.1 C554.9,196.1 559.1,198.4 563.2,200.4 C568.8,203.2 574.9,205 580.7,207.7 C586.6,210.4 592.1,213.9 598.1,216.4 C603.8,218.8 610,219.7 615.6,222.2 C620.7,224.5 625.4,227.8 630.1,231 C634.2,233.6 639.2,235.8 641.8,239.7 C645,244.6 647.2,251.2 647.6,257.1 C648.1,264.8 646.1,272.7 644.7,280.4 C643.2,288.3 642,296.5 638.9,303.7 C636.1,310 631.8,316 627.2,321.2 C623.1,325.7 618.2,330.5 612.7,332.8 C606.6,335.3 599.1,335.7 592.3,335.7 C585.5,335.7 578.3,334.9 571.9,332.8 C566.7,331 561.8,327.5 557.4,324.1 C553.1,320.7 549.6,316.3 545.7,312.4 C542.8,309.5 540.6,305 537,303.7 C532.8,302.1 527.3,304.1 522.5,303.7 C515.3,303.1 501.9,307.3 501.1,300.8 C494.8,250.2 501.1,187.9 501.1,132.6 Z" fill="#ff7272"/><path d="M501.1,146.6 C501.1,146.3 500.9,147.1 501.1,147.2 C506.7,149.6 513.2,151 518.6,154 C521.3,155.6 523.3,158.4 525.4,160.8 C526.7,162.4 528.2,164 528.8,165.9 C529.9,169.7 530,173.8 530.5,177.8 C531.1,183.9 531.5,190 532.2,196 C532.7,200.9 532.3,206.2 534.1,210.6 C535.9,214.9 539.4,218.8 542.8,222.2 C547.2,226.6 551.9,231.4 557.4,233.9 C562.6,236.2 569,235.8 574.8,236.8 C580.7,237.7 586.5,238.8 592.3,239.7 C599.1,240.7 606.1,240.9 612.7,242.6 C617.7,243.8 623.8,245 627.2,248.4 C630.6,251.8 632.1,257.9 633,263 C634.1,268.6 634,274.8 633,280.4 C632,286.4 630.1,292.6 627.2,297.9 C624.3,303.2 620.5,309 615.6,312.4 C610.8,315.8 604.1,317.8 598.1,318.3 C592.4,318.7 586.2,317.2 580.7,315.3 C574.6,313.3 567.9,310.8 563.2,306.6 C559.1,303 556.4,297.3 554.5,292.1 C552.5,286.6 553.2,280.2 551.6,274.6 C550.3,270.5 548.3,266.4 545.7,263 C542.5,258.6 536.8,249.8 534.1,251.3 C530,253.7 529.5,267.8 525.4,274.6 C523.6,277.5 519.8,278.9 516.6,280.4 C511.7,282.8 501.7,291 501.1,286.2 C496.5,246.4 501.1,192.7 501.1,146.6 Z" fill="#ff5a5a"/><path d="M554.5,248.4 C556.7,245.1 564.1,245.9 569,245.5 C574.8,245 580.7,245 586.5,245.5 C592.3,246 598.2,247 603.9,248.4 C609.9,249.9 616.6,250.9 621.4,254.2 C626.3,257.6 631,263.3 633,268.8 C634.9,273.9 634.8,281 633,286.2 C630.9,292.6 626.4,299.2 621.4,303.7 C616.7,307.9 610.1,310.9 603.9,312.4 C598.4,313.8 592,313.8 586.5,312.4 C580.3,310.9 574,307.7 569,303.7 C564.3,299.9 559.9,294.6 557.4,289.2 C554.6,283 553.5,275.6 553,268.8 C552.5,262.1 551.4,252.9 554.5,248.4 Z" fill="#ff4242"/><path d="M574.8,263 C577.6,259.7 584.4,259.3 589.4,258.6 C594.1,257.9 600.5,256.4 603.9,258.6 C607.3,260.8 609.3,267.1 609.8,271.7 C610.3,277.3 608.8,283.7 606.9,289.2 C605,294.4 602.1,300.8 598.1,303.7 C595.4,305.7 589.5,305.4 586.5,303.7 C582.7,301.5 579.9,296.3 577.8,292.1 C575.5,287.6 573.9,282.5 573.4,277.5 C572.9,272.8 572.2,266.1 574.8,263 Z" fill="#ff2a2a"/><path d="M759.6,115.5 C761.9,112.1 770.2,111.5 775.5,111.5 C780.8,111.5 787.6,112.3 791.4,115.5 C795.5,118.9 797.8,125.7 799.4,131.4 C801.8,140.3 802.9,149.9 803.3,159.2 C803.6,165.8 803.2,172.8 801.3,179.1 C799.2,186.1 794.4,192.2 791.4,199 C788.5,205.5 787.8,213.8 783.4,218.9 C779.8,223.1 773,226.1 767.5,226.8 C763.7,227.4 757.6,225.8 755.6,222.9 C753,219.1 752.5,212 753.6,207 C755.1,200 761.1,194 763.6,187.1 C765.8,180.7 767.2,173.9 767.5,167.2 C767.9,160.6 766.6,153.8 765.5,147.3 C764.6,141.9 762.6,136.7 761.6,131.4 C760.6,126.1 757.3,118.7 759.6,115.5 Z" fill="#dadaff"/><path d="M775.5,131.4 C778.4,127.7 787.9,125.1 791.4,127.4 C795.9,130.4 798.7,140.4 799.4,147.3 C800.1,155 798.3,163.9 795.4,171.2 C793,177.1 788.1,185.5 783.4,187.1 C780.1,188.2 773.2,183.1 771.5,179.1 C768.6,172.5 768.9,163.1 769.5,155.2 C770.2,147.2 771.1,136.9 775.5,131.4 Z" fill="#c0c0ff"/><path d="M779.5,143.3 C780.8,141.1 788.1,141.1 789.4,143.3 C792.1,147.7 792.6,157.1 791.4,163.2 C790.6,167.1 785.9,173.1 783.4,173.1 C781.2,173.1 778,166.8 777.5,163.2 C776.6,156.9 776.8,147.7 779.5,143.3 Z" fill="#a4a4ff"/><path d="M823.2,107.5 C825.2,97.8 828.9,86.7 835.2,79.7 C839.5,74.7 848.2,73.3 855,71.7 C859.5,70.7 868.6,67.5 869,71.7 C873.2,112.6 872.9,163.1 869,207 C868.3,214.8 856.2,219.1 855,226.8 C851.6,249.6 854.7,274.6 855,298.4 C855.3,315.7 858.2,333.8 857,350.2 C856.9,352.4 852.3,355.5 851.1,354.1 C846.4,348.9 842.1,338.6 839.1,330.3 C835.5,320 833,309.2 831.2,298.4 C829,285.3 828.5,271.9 827.2,258.7 C825.9,245.4 824.2,232.2 823.2,218.9 C822.2,205.7 821.2,192.4 821.2,179.1 C821.2,165.8 822.8,152.6 823.2,139.3 C823.5,128.7 821.2,117.7 823.2,107.5 Z" fill="#dadaff"/><path d="M835.2,107.5 C837.3,101.5 841.8,94.7 847.1,91.6 C853,88.1 861.7,88.9 869,87.6 C869,87.6 869,87.6 869,87.6 C869,123.4 873.5,161.5 869,195 C868.2,201.2 857.1,208.2 853.1,207 C848.5,205.6 845.7,194 843.1,187.1 C839.7,178.1 836.8,168.7 835.2,159.2 C833.5,150.1 833.2,140.7 833.2,131.4 C833.2,123.4 832.6,114.8 835.2,107.5 Z" fill="#c0c0ff"/><path d="M737.7,214.9 C738.3,212.8 743,209.5 743.7,210.9 C745.6,214.8 746.1,224.4 745.7,230.8 C745.4,233.7 743,238.8 741.7,238.8 C740.3,238.8 738.2,233.7 737.7,230.8 C736.8,225.7 736.3,219.5 737.7,214.9 Z" fill="#dadaff"/><path d="M632.3,27.1 C633.1,24.6 640.7,24.8 642.2,27.1 C646,33 647.9,43.5 648.2,51.8 C648.5,61 646.3,70.6 644.2,79.7 C643,85.2 639.9,95.6 638.3,95.6 C636.6,95.6 635.2,85 634.3,79.7 C633.2,73.1 632.5,66.4 632.3,59.8 C631.9,48.9 629.7,35.5 632.3,27.1 Z" fill="#dadaff"/><path d="M654.2,43.9 C654.8,42.4 659.5,42.3 660.1,43.9 C662.2,49 662.1,57.1 662.1,63.8 C662.1,70.4 661.7,79.5 660.1,83.6 C659.7,84.8 656.7,81.4 656.2,79.7 C654.3,73.4 653.3,66.4 653,59.8 C652.7,54.5 652.4,47.7 654.2,43.9 Z" fill="#dadaff"/><path d="M709.9,27.1 C710.2,25.7 714.8,25.6 715,27.1 C716.1,35.2 714.6,46.3 713.8,55.8 C713.6,59.2 712.4,66.3 711.8,65.7 C711.1,65 710.1,56.5 709.9,51.8 C709.4,43.6 708.4,33.9 709.9,27.1 Z" fill="#dadaff"/><path d="M505,235.3 C506.9,235.8 509.4,235.5 510.8,236.8 C515.2,240.8 518.6,246.4 522.5,251.3 C525.4,255.1 529.4,258.6 531.2,263 C533.3,268.3 532.8,274.7 534.1,280.4 C535.7,287.3 536.6,294.9 539.9,300.8 C542.4,305.1 547.2,309.6 551.6,311 C555,312 559.3,309 563.2,308.1 C569,306.6 574.8,305.2 580.7,303.7 C586.5,302.2 592.2,299.8 598.1,299.3 C603.9,298.9 609.8,301 615.6,300.8 C621.4,300.5 627.3,299.3 633,297.9 C639,296.4 645.1,294.8 650.5,292.1 C656.7,289 662.6,284.9 668,280.4 C674.3,275.2 679.8,269 685.4,263 C691.5,256.4 697.2,249.5 702.9,242.6 C706.9,237.8 711.2,233.3 714.5,228 C718.6,221.6 721.4,214.4 725,207.7 C728.4,201.4 731.5,194.8 735.7,189.1 C740.4,182.6 746.8,177.5 751.6,171.2 C757.4,163.6 762.2,155.2 767.5,147.3 C772.8,139.3 778.1,131.4 783.4,123.4 C788.7,115.5 793,106.6 799.4,99.6 C805,93.3 812.3,88.5 819.2,83.6 C825.6,79.2 832.3,75.4 839.1,71.7 C846.9,67.5 855,63.8 863,59.8" fill="none" stroke="#808080" stroke-width="3.6"/><path d="M505,286.2 C506.9,287.2 509.3,287.7 510.8,289.2 C513.2,291.5 514.2,295.7 516.6,297.9 C518.1,299.1 520.5,298.9 522.5,299.3 C525.4,299.9 530,298.6 531.2,300.8 C533.9,305.9 532.2,314.6 534.1,321.2 C536.1,328.2 539,335.4 542.8,341.5 C544.8,344.7 548.3,348.3 551.6,348.8 C555.1,349.3 559.2,345.4 563.2,344.4 C567,343.5 571,343.4 574.8,343 C580.7,342.4 586.5,341.8 592.3,341.5 C598.1,341.3 604,341.8 609.8,341.5 C613.7,341.3 618.1,341.8 621.4,340.1 C625.8,337.9 629.1,333.2 633,329.9 C638.8,325 644.7,320.2 650.5,315.3 C656.3,310.5 662.1,305.6 668,300.8 C673.8,295.9 680.4,291.8 685.4,286.2 C690.1,281.1 693.7,274.9 697.1,268.8 C699.5,264.2 700.2,258.7 702.9,254.2 C706,249 711.7,245.2 714.5,239.7 C719.1,230.6 721.2,220.1 725,210.6 C728.2,202.6 731.1,194.2 735.7,187.1 C738.7,182.4 744,179.4 747.6,175.1 C751.9,170.1 755.8,164.6 759.6,159.2 C765.1,151.4 770.4,143.4 775.5,135.4 C779.6,128.8 783.5,122.1 787.4,115.5 C790.1,110.9 791.6,104.2 795.4,101.5 C798.2,99.6 804,103.2 807.3,101.5 C812,99.2 814.8,93.1 819.2,89.6 C824.1,85.8 830.3,83.5 835.2,79.7 C839.5,76.2 842.7,71.2 847.1,67.7 C852,63.9 857.7,61.1 863,57.8" fill="none" stroke="#000" stroke-width="4.0"/></g></g>
<g clip-path="url(#c02)"><g clip-path="url(#dc)"><clipPath id="dc"><rect x="934.7" y="35.1" width="351.9" height="387.1"/></clipPath><path d="M926.7,27.1 C985.2,-37 1236.1,-37 1294.6,27.1 C1358.7,97.4 1358.7,359.9 1294.6,430.2 C1236.1,494.3 985.2,494.3 926.7,430.2 C862.6,359.9 862.6,97.4 926.7,27.1 Z" fill="#ffd8d8"/><path d="M948.9,27.1 C960.2,23 987.7,19.8 996.6,27.1 C1004.3,33.3 997.7,54.2 998.6,67.7 C999.4,78.4 1001.7,88.9 1001.8,99.6 C1001.9,108.2 1001.7,117.5 999.4,125.4 C998.6,128.1 994.1,132.5 992.7,131.4 C989.9,129.2 988.6,120.8 986.7,115.5 C983.9,107.6 981.9,99.3 978.7,91.6 C975.9,84.8 972.1,78.3 968.8,71.7 C966.1,66.4 964.1,60.5 960.8,55.8 C959.5,53.9 956.3,53.6 954.9,51.8 C953,49.6 951.6,46.7 950.9,43.9 C949.6,38.5 944.9,28.6 948.9,27.1 Z" fill="#ffffff"/><path d="M1042.4,27.1 C1054.3,22.1 1086.2,20.4 1096.1,27.1 C1102.2,31.3 1092.5,49 1090.1,59.8 C1088.5,67.2 1088.1,78.5 1084.1,81.7 C1081.5,83.8 1074.5,78.3 1070.2,75.7 C1064.6,72.3 1058.5,68.7 1054.3,63.8 C1050.6,59.4 1048.2,53.4 1046.4,47.8 C1044.2,41.2 1037.7,29.1 1042.4,27.1 Z" fill="#ffffff"/><path d="M974.8,430.2 C969.1,429.9 979.4,418.8 982.7,413.8 C984.7,410.7 987.8,408.3 990.7,405.8 C997.1,400.3 1004.3,395.6 1010.6,389.9 C1018.9,382.4 1025.5,372.7 1034.4,366.1 C1041.4,360.8 1050.6,358.6 1058.3,354.1 C1066.5,349.3 1073.6,342.1 1082.2,338.2 C1088.2,335.5 1096.2,337.2 1102,334.2 C1109.4,330.5 1117.2,325.1 1121.9,318.3 C1129.2,307.9 1131.3,293.6 1137.8,282.5 C1141.9,275.7 1149.7,271.4 1153.8,264.6 C1157.7,258.1 1158.4,249.7 1161.7,242.8 C1163.7,238.5 1167,230.8 1169.7,230.8 C1172.3,230.8 1176,238.3 1177.6,242.8 C1181.3,252.9 1183.6,263.8 1185.6,274.6 C1188.2,289 1188.8,312.9 1191.5,318.3 C1192.8,320.9 1195.9,305.2 1197.5,298.4 C1200.6,285.3 1203.2,272 1205.5,258.7 C1207.9,244.2 1208.4,223.1 1211.4,214.9 C1212.4,212.4 1215.9,222.7 1217.4,226.8 C1220.6,235.9 1222.3,253.2 1225.4,254.7 C1227.6,255.8 1230.4,241.3 1233.3,234.8 C1235.7,229.4 1238,223.8 1241.3,218.9 C1243.3,215.8 1246,212.5 1249.2,210.9 C1253.9,208.6 1261.3,204.8 1265.1,207 C1270.6,210.1 1273.2,220.1 1277.1,226.8 C1283.1,237.4 1291.8,247.3 1294.6,258.7 C1297.7,271.1 1294.6,285.2 1294.6,298.4 C1294.6,342.4 1325.7,417.4 1294.6,430.2 C1219.1,461.3 1073.1,435.4 974.8,430.2 Z" fill="#ffffff"/><path d="M926.7,380 C927.8,376.1 937.4,376.3 940.9,378 C944.2,379.6 946.3,385.6 946.9,389.9 C948.9,403 953.2,421.5 948.9,430.2 C946.5,435 929,435.3 926.7,430.2 C921.6,418.6 923,393.5 926.7,380 Z" fill="#ffffff"/><path d="M926.7,103.5 C927.3,97.4 941.7,102.6 946.9,105.5 C951.1,107.9 953.3,114.4 954.9,119.4 C958.6,131 959.3,143.6 962.8,155.2 C964.6,160.9 967,166.8 970.8,171.2 C976.2,177.4 983.5,185.6 990.7,187.1 C996.7,188.3 1003.9,181.8 1010.6,179.1 C1017.2,176.5 1023.8,171.2 1030.4,171.2 C1037.1,171.2 1043.7,176.5 1050.3,179.1 C1057,181.8 1063.3,185.7 1070.2,187.1 C1076.6,188.3 1084,188.9 1090.1,187.1 C1097.2,184.9 1103.4,179.1 1110,175.1 C1116.6,171.2 1123.6,167.6 1129.9,163.2 C1136.8,158.3 1143.4,152.9 1149.8,147.3 C1155.4,142.3 1162.7,137.9 1165.7,131.4 C1170.6,120.7 1170,107.2 1173.6,95.6 C1176.6,86 1179.8,75.7 1185.6,67.7 C1190.4,61.1 1200.4,58.3 1205.5,51.8 C1211,44.8 1209.6,29.3 1217.4,27.1 C1239.3,21 1285.6,10.3 1294.6,27.1 C1311.4,58.4 1299.8,127.3 1294.6,171.2 C1294,176.6 1282.5,175.9 1277.1,175.1 C1272.7,174.5 1269.5,167.8 1265.1,167.2 C1260.2,166.5 1253.4,168.2 1249.2,171.2 C1244.1,174.8 1241.5,182 1237.3,187.1 C1234.9,189.9 1231.7,196 1229.3,195 C1225.1,193.3 1222,180.6 1217.4,179.1 C1214.1,178 1208.5,183.5 1205.5,187.1 C1200.5,192.8 1197.6,200.4 1193.5,207 C1191,211 1188.9,215.6 1185.6,218.9 C1181,223.5 1175,226.8 1169.7,230.8 C1164.4,234.8 1159.1,238.8 1153.8,242.8 C1148.4,246.7 1142.1,249.8 1137.8,254.7 C1132.8,260.4 1129.9,267.9 1125.9,274.6 C1121.9,281.2 1119.2,289 1114,294.5 C1107.3,301.5 1098.5,307 1090.1,312.4 C1083.9,316.3 1077.1,319.6 1070.2,322.3 C1063.8,324.9 1057,326.6 1050.3,328.3 C1043.8,329.9 1037.1,331.4 1030.4,332.3 C1022.3,333.3 1014,333.9 1005.8,334.2 C996.8,334.6 987.7,335 978.7,334.2 C971,333.6 961.6,334 955.7,330.3 C951,327.4 951.4,317.7 946.9,314.4 C941.7,310.5 927.3,315.3 926.7,308.8 C920.6,245 920.6,165.2 926.7,103.5 Z" fill="#ffa8a8"/><path d="M970.8,226.8 C973.1,221.7 983.9,220.9 990.7,218.9 C997.1,217 1003.9,214.9 1010.6,214.9 C1018.5,214.9 1026.6,216.9 1034.4,218.9 C1042.5,220.9 1051,222.9 1058.3,226.8 C1065.6,230.8 1073.7,236.1 1078.2,242.8 C1081.7,248 1082.9,256.3 1082.2,262.6 C1081.5,268.2 1078,274.2 1074.2,278.6 C1070,283.5 1064,287.3 1058.3,290.5 C1052.1,293.9 1045.3,297.1 1038.4,298.4 C1032,299.7 1024.9,299.7 1018.5,298.4 C1011.6,297.1 1004.4,294.4 998.6,290.5 C992.5,286.4 986.8,280.7 982.7,274.6 C978.8,268.8 976.5,261.6 974.8,254.7 C972.5,245.7 967.8,233.6 970.8,226.8 Z" fill="#ff8a8a"/><path d="M1008.6,246.7 C1010.4,242.5 1017.6,239.4 1022.5,238.8 C1027.5,238.1 1035.1,239.4 1038.4,242.8 C1041.7,246.1 1043,253.6 1042.4,258.7 C1041.7,264.2 1038.4,270.6 1034.4,274.6 C1030.4,278.6 1023.1,283.2 1018.5,282.5 C1014.5,281.9 1009.9,275.3 1008.6,270.6 C1006.6,263.4 1005.8,253.1 1008.6,246.7 Z" fill="#ff7272"/><path d="M1090.1,218.9 C1092.2,212.4 1099.9,206.8 1106,203 C1110.5,200.2 1119,196.6 1121.9,199 C1125.6,201.9 1125.9,212.2 1125.9,218.9 C1125.9,226.8 1124.2,235.1 1121.9,242.8 C1120.2,248.4 1117.9,254.8 1114,258.7 C1111.2,261.4 1105,264.2 1102,262.6 C1097.7,260.3 1093.7,252.6 1092.1,246.7 C1089.7,238 1087.5,227 1090.1,218.9 Z" fill="#ff8a8a"/><path d="M1102,218.9 C1103.6,215.8 1112.2,212.9 1114,214.9 C1116.8,218.2 1116.8,228.4 1116,234.8 C1115.4,239 1112.5,246 1110,246.7 C1107.9,247.3 1103,242.1 1102,238.8 C1100.3,232.8 1099.6,223.8 1102,218.9 Z" fill="#ff7272"/><path d="M1169.7,139.3 C1169.7,126.1 1173.2,112.1 1177.6,99.6 C1181.1,89.6 1186.8,79.8 1193.5,71.7 C1200.1,63.9 1208.8,57.5 1217.4,51.8 C1224.7,46.9 1233.4,44 1241.3,39.9 C1249.3,35.7 1256.6,29.1 1265.1,27.1 C1274.4,24.9 1292.7,19.2 1294.6,27.1 C1302.5,59.3 1300.6,111.4 1294.6,147.3 C1293.5,154.1 1280.4,154.5 1273.1,155.2 C1267.9,155.8 1262.5,151.3 1257.2,151.3 C1251.9,151.3 1245.7,152.4 1241.3,155.2 C1235.1,159.1 1230.7,165.8 1225.4,171.2 C1220,176.5 1213.7,181 1209.4,187.1 C1204.4,194.3 1202.5,204 1197.5,210.9 C1195.9,213.3 1191.1,216.5 1189.6,214.9 C1185.8,211.2 1183.5,201.9 1181.6,195 C1179.5,187.3 1179.3,179 1177.6,171.2 C1175.3,160.5 1169.7,150 1169.7,139.3 Z" fill="#ff8a8a"/><path d="M1185.6,123.4 C1187.7,114.8 1195.9,107.3 1201.5,99.6 C1206.5,92.7 1211.2,85.3 1217.4,79.7 C1224.4,73.3 1233.3,69.1 1241.3,63.8 C1249.2,58.5 1256.5,51.7 1265.1,47.8 C1274.3,43.7 1292.1,32.9 1294.6,39.9 C1302,60.8 1301.2,106.6 1294.6,131.4 C1292.7,138.4 1277.6,133.9 1269.1,135.4 C1262.4,136.5 1255.6,137.2 1249.2,139.3 C1243.6,141.2 1238.8,146.6 1233.3,147.3 C1228.2,147.9 1222.7,143.3 1217.4,143.3 C1212.1,143.3 1206.9,146.5 1201.5,147.3 C1197.6,147.8 1191.3,149.9 1189.6,147.3 C1186,142 1183.8,130.7 1185.6,123.4 Z" fill="#ff7272"/><path d="M1209.4,119.4 C1210.2,110.1 1215.5,99.5 1221.4,91.6 C1227.4,83.5 1237,77.9 1245.2,71.7 C1252.9,66 1260.4,59.3 1269.1,55.8 C1276.9,52.7 1292.3,45.9 1294.6,51.8 C1300.8,68.4 1300.8,104.9 1294.6,123.4 C1292.3,130.1 1277.6,125.9 1269.1,127.4 C1262.4,128.6 1255.7,129.4 1249.2,131.4 C1242.4,133.4 1236.1,137.6 1229.3,139.3 C1225.5,140.3 1219.8,141.7 1217.4,139.3 C1213.1,135.1 1208.9,126 1209.4,119.4 Z" fill="#ff5a5a"/><path d="M1233.3,103.5 C1235.6,97.4 1243.9,92.9 1249.2,87.6 C1255.8,81 1261.3,72.5 1269.1,67.7 C1276.5,63.2 1286.1,62.4 1294.6,59.8 C1294.6,59.8 1294.6,59.8 1294.6,59.8 C1294.6,78.3 1300.4,101.9 1294.6,115.5 C1291.9,121.8 1277.6,118 1269.1,119.4 C1262.4,120.6 1255.8,123.4 1249.2,123.4 C1245.2,123.4 1239.6,122.3 1237.3,119.4 C1234.3,115.7 1231.6,108 1233.3,103.5 Z" fill="#ff4242"/><path d="M1257.2,91.6 C1258.7,84.6 1264.5,77.9 1269.1,71.7 C1272.5,67.2 1276.4,61.2 1281,59.8 C1284.9,58.6 1293.5,59.9 1294.6,63.8 C1298,75.8 1299.4,96.9 1294.6,107.5 C1292.2,112.8 1280.2,111.5 1273.1,111.5 C1269,111.5 1263.5,110.4 1261.2,107.5 C1258.1,103.8 1256.1,96.5 1257.2,91.6 Z" fill="#ff2a2a"/><path d="M933,263.4 C933.7,263.2 934.3,263 935,262.6 C937.6,261.4 940.5,257.9 942.9,258.7 C947.1,259.9 952.6,264.2 954.9,268.6 C959.3,277.4 959,289 962.8,298.4 C965.7,305.6 969.3,314 974.8,318.3 C978.5,321.3 985.7,321.4 990.7,320.3 C997.6,318.8 1003.9,313.7 1010.6,310.4 C1017.2,307.1 1023.5,302.9 1030.4,300.4 C1036.8,298.2 1044,298.7 1050.3,296.5 C1057.3,294 1064,290.5 1070.2,286.5 C1077.3,281.9 1083.8,276.2 1090.1,270.6 C1095.7,265.6 1101,260.3 1106,254.7 C1111.7,248.3 1116.6,241.4 1121.9,234.8 C1127.2,228.2 1132.9,221.8 1137.8,214.9 C1143.5,207.2 1148.4,199 1153.8,191 C1159.1,183.1 1163.7,174.6 1169.7,167.2 C1174.3,161.3 1180.3,156.6 1185.6,151.3 C1190.9,146 1196.2,140.7 1201.5,135.4 C1206.8,130.1 1211.9,124.6 1217.4,119.4 C1222.5,114.6 1227.4,109.2 1233.3,105.5 C1238,102.6 1244,101.8 1249.2,99.6 C1254.6,97.2 1260.2,94.8 1265.1,91.6 C1269.5,88.8 1272.7,84.2 1277.1,81.7 C1280.6,79.6 1285,79 1289,77.7" fill="none" stroke="#808080" stroke-width="3.6"/><path d="M933,295.3 C933.7,295 934.6,295 935,294.5 C936.6,292.1 937,287.2 939,286.5 C940.9,285.8 944.3,289.2 946.9,290.5 C949.6,291.8 953.7,292 954.9,294.5 C957.6,300 956.7,308 958.8,314.4 C960.7,319.9 963.3,325.6 966.8,330.3 C969.3,333.6 973,337.3 976.7,338.2 C980.9,339.3 986,336.8 990.7,336.2 C996,335.5 1001.7,336 1006.6,334.2 C1011,332.7 1014.2,328.2 1018.5,326.3 C1024.8,323.5 1032,322.9 1038.4,320.3 C1045.3,317.6 1051.8,313.9 1058.3,310.4 C1065.1,306.7 1071.7,302.7 1078.2,298.4 C1085,294 1091.6,289.4 1098.1,284.5 C1102.2,281.4 1106.8,278.6 1110,274.6 C1114.8,268.6 1117.5,261 1121.9,254.7 C1126.8,247.7 1133.1,241.8 1137.8,234.8 C1143.8,225.9 1148.4,216.2 1153.8,207 C1157.6,200.3 1161.2,193.3 1165.7,187.1 C1167.9,184 1170.4,180.1 1173.6,179.1 C1177.1,178.1 1181.9,181.8 1185.6,181.1 C1188.6,180.5 1191.6,177.7 1193.5,175.1 C1196.9,170.5 1198.2,164.1 1201.5,159.2 C1204.9,154.2 1208.7,147.3 1213.4,145.3 C1216.7,143.9 1221.5,149.6 1225.4,149.3 C1229.4,148.9 1233.2,145.1 1237.3,143.3 C1242.5,141.1 1247.9,139.3 1253.2,137.3 C1258.5,135.4 1263.8,133.3 1269.1,131.4 C1275.7,129 1282.4,126.6 1289,124.2" fill="none" stroke="#000" stroke-width="4.0"/></g></g>
<g clip-path="url(#c03)"><g clip-path="url(#dd)"><clipPath id="dd"><rect x="1360.3" y="35.1" width="351.9" height="387.1"/></clipPath><path d="M1352.3,27.1 C1410.8,-37 1661.7,-37 1720.2,27.1 C1784.3,97.4 1784.3,359.9 1720.2,430.2 C1661.7,494.3 1410.8,494.3 1352.3,430.2 C1288.2,359.9 1288.2,97.4 1352.3,27.1 Z" fill="#ffd8d8"/><path d="M1381.9,27.1 C1398.6,19.6 1438.9,19.6 1455.4,27.1 C1462.8,30.5 1454.3,48.9 1453.5,59.8 C1452.4,73.1 1451.3,86.4 1449.5,99.6 C1448,110.2 1446,120.9 1443.5,131.4 C1441.3,140.8 1438.8,150.1 1435.6,159.2 C1432.2,168.7 1428.6,178.6 1423.6,187.1 C1422,189.8 1417.7,194 1415.7,193 C1412.4,191.4 1409.6,184.1 1407.7,179.1 C1404.3,170.1 1402.2,160.6 1399.8,151.3 C1396.9,140.7 1394.3,130.1 1391.8,119.4 C1389.6,110.2 1387.2,101 1385.8,91.6 C1384.3,81.1 1383.7,70.4 1383,59.8 C1382.4,48.9 1374.4,30.5 1381.9,27.1 Z" fill="#ffffff"/><path d="M1367.1,27.1 C1367.2,25.9 1370.9,25.9 1371.1,27.1 C1372.5,36.8 1371.9,48.9 1371.9,59.8 C1371.9,65.1 1372.1,72.7 1371.1,75.7 C1370.8,76.7 1368.1,73.4 1367.9,71.7 C1366.7,57.2 1366.2,40.8 1367.1,27.1 Z" fill="#ffffff"/><path d="M1379.9,430.2 C1370.2,429.2 1380,406.6 1383.8,397.9 C1385.3,394.5 1395.2,397.6 1395.8,393.9 C1398.5,377.7 1394.9,356.7 1393.8,338.2 C1393,324.9 1390.9,311.7 1389.8,298.4 C1388.3,279.9 1387.1,261.3 1385.8,242.8 C1385.1,232.1 1382.2,210.9 1383.8,210.9 C1385.6,210.9 1391.3,232.4 1395.8,242.8 C1399.3,250.9 1403.7,266.6 1407.7,266.6 C1411.7,266.6 1414.6,244.2 1419.6,242.8 C1423.9,241.5 1430.3,259.7 1435.6,258.7 C1443.5,257.1 1449.8,238.7 1459.4,234.8 C1469.7,230.7 1483.6,236.7 1495.2,234.8 C1507.5,232.8 1519.7,221.5 1531,222.9 C1542.3,224.2 1555.1,233.7 1562.8,242.8 C1571,252.2 1571.3,271.1 1578.8,278.6 C1581.9,281.7 1590.8,272.2 1594.7,274.6 C1601.4,278.8 1605.3,290.5 1610.6,298.4 C1613.2,302.4 1617.8,314 1618.5,310.4 C1623.1,287.4 1621.1,230.6 1626.5,218.9 C1629,213.4 1635.4,246.5 1642.4,258.7 C1646,265.1 1653,274.6 1658.3,274.6 C1663.6,274.6 1670.5,265 1674.2,258.7 C1679.8,249.1 1681.1,235.7 1686.2,226.8 C1687,225.3 1691.9,225.4 1692.1,227.2 C1694.4,244.3 1693.4,264.6 1693.7,283.3 C1694.2,310 1694.3,336.6 1694.5,363.3 C1694.7,385.6 1713.3,426.3 1694.9,430.2 C1608.4,448.6 1473.8,440 1379.9,430.2 Z" fill="#ffffff"/><path d="M1697.7,430.2 C1696.3,421.6 1698.7,408.4 1700.3,398 C1700.5,396.8 1702.8,394.3 1703,395.3 C1704.6,405 1707.1,420.7 1705.6,430.2 C1705.3,432.4 1698,432.3 1697.7,430.2 Z" fill="#ffffff"/><path d="M1352.3,207 C1352.8,200.9 1369.9,202.2 1371.9,207 C1377.1,219.5 1373.9,241.4 1373.9,258.7 C1373.9,271.9 1372.9,285.2 1371.9,298.4 C1370.9,311.7 1368.7,324.9 1367.9,338.2 C1366.1,368.8 1368.6,403 1364,430.2 C1363.4,433.6 1352.5,433.9 1352.3,430.2 C1348.6,359.5 1346.3,275.4 1352.3,207 Z" fill="#ffffff"/><path d="M1560.9,27.1 C1551.3,29 1557.8,49.2 1554.9,59.8 C1551.9,70.6 1549,82.5 1543,91.6 C1538.4,98.4 1528.5,101.3 1523.1,107.5 C1519.2,111.9 1516.7,117.8 1515.1,123.4 C1512.7,132.4 1509.9,142.3 1511.1,151.3 C1512.5,160.9 1516.7,172.1 1523.1,179.1 C1528.7,185.3 1539.1,186.8 1546.9,191 C1553.7,194.7 1560.8,198.3 1566.8,203 C1572.7,207.5 1577.1,214 1582.7,218.9 C1586.3,222 1590.5,226.8 1594.7,226.8 C1599.8,226.8 1605.9,222.4 1610.6,218.9 C1616.5,214.4 1621.2,208.3 1626.5,203 C1631.8,197.7 1636.5,191.5 1642.4,187.1 C1647.1,183.6 1652.7,180.5 1658.3,179.1 C1663.3,177.9 1669.5,180.9 1674.2,179.1 C1680.1,176.9 1684.8,167.2 1690.1,167.2 C1695.4,167.2 1700.3,176.1 1706,179.1 C1710.3,181.4 1719.8,187.5 1720.2,183.1 C1724.5,136.8 1746.5,52.8 1720.2,27.1 C1693.4,0.8 1606.5,18.1 1560.9,27.1 Z" fill="#ffa8a8"/><path d="M1447.5,222.9 C1448,219.8 1451.5,214.9 1453.5,214.9 C1455.4,214.9 1458.6,219.8 1459.4,222.9 C1460.8,227.8 1461.2,233.8 1460.2,238.8 C1459.6,241.8 1456.5,246.7 1454.6,246.7 C1452.9,246.7 1450.4,241.7 1449.5,238.8 C1448,233.8 1446.7,227.8 1447.5,222.9 Z" fill="#ffa8a8"/><path d="M1371.9,147.3 C1372,146.5 1374.2,145.8 1374.3,146.5 C1375.2,151.1 1375.6,158.1 1375.1,163.2 C1375,164 1372.8,164.7 1372.7,164 C1371.8,159.4 1371.4,152.4 1371.9,147.3 Z" fill="#ffa8a8"/><path d="M1610.6,99.6 C1613.1,90.2 1614.3,80.2 1618.5,71.7 C1622.3,64.3 1628,57 1634.4,51.8 C1641.2,46.4 1649.9,42 1658.3,39.9 C1665.8,38 1674.5,38.5 1682.2,39.9 C1689.1,41.1 1695.5,45.1 1702.1,47.8 C1708.2,50.4 1718.9,50.1 1720.2,55.8 C1724.9,76.6 1725.4,105.9 1720.2,127.4 C1718,136.3 1705.3,140.5 1698.1,147.3 C1692.6,152.4 1688.1,158.8 1682.2,163.2 C1677.5,166.7 1671.8,169.1 1666.3,171.2 C1661.2,173.1 1655.1,172.7 1650.4,175.1 C1644.5,178 1639.1,182.4 1634.4,187.1 C1628.5,193 1625,202.1 1618.5,207 C1614.4,210.1 1606.4,212.8 1602.6,210.9 C1598.5,208.9 1595.1,200.7 1594.7,195 C1593.8,184.8 1597.3,173.8 1598.6,163.2 C1600,152.6 1600.7,141.9 1602.6,131.4 C1604.6,120.6 1607.8,110.1 1610.6,99.6 Z" fill="#ff8a8a"/><path d="M1618.5,99.6 C1622.1,89.7 1627.4,79.4 1634.4,71.7 C1640.7,64.8 1649.6,58.5 1658.3,55.8 C1666.8,53.2 1677.5,53.6 1686.2,55.8 C1693.4,57.6 1699.7,63.3 1706,67.7 C1711.1,71.3 1718.7,74.2 1720.2,79.7 C1723.4,91.4 1725.1,108.9 1720.2,119.4 C1716.4,127.5 1703.1,130.7 1694.1,135.4 C1687.8,138.6 1680.9,140.9 1674.2,143.3 C1666.3,146.2 1658.2,148.4 1650.4,151.3 C1643.6,153.7 1637,159.2 1630.5,159.2 C1625,159.2 1616.8,155.8 1614.6,151.3 C1611.5,145.2 1613.9,135.3 1614.6,127.4 C1615.3,118.1 1615.4,108.2 1618.5,99.6 Z" fill="#ff7272"/><path d="M1630.5,99.6 C1633.3,93.2 1640.1,87.4 1646.4,83.6 C1653.4,79.4 1662.2,76.4 1670.2,75.7 C1676.8,75.1 1684.7,76.6 1690.1,79.7 C1694,81.9 1697.5,87.2 1698.1,91.6 C1698.9,97.8 1697.8,106.5 1694.1,111.5 C1689.9,117.1 1681.1,120 1674.2,123.4 C1667.9,126.6 1661.2,129.9 1654.3,131.4 C1649.2,132.5 1642.6,133.5 1638.4,131.4 C1634.6,129.5 1631.6,123.9 1630.5,119.4 C1628.9,113.3 1628,105.2 1630.5,99.6 Z" fill="#ff5a5a"/><path d="M1630.5,107.5 C1632.1,101.8 1637.3,95.2 1642.4,91.6 C1646.6,88.6 1654.1,86.2 1658.3,87.6 C1662,88.9 1666.3,95.3 1666.3,99.6 C1666.3,105.9 1662.8,114.9 1658.3,119.4 C1654.9,122.9 1647.6,123.4 1642.4,123.4 C1639.6,123.4 1636.1,121.6 1634.4,119.4 C1632.1,116.3 1629.4,111.1 1630.5,107.5 Z" fill="#ff4242"/><path d="M1423.6,430.2 C1410.6,410.3 1422.3,362.8 1425.6,330.3 C1426.2,324.2 1432.1,316.1 1435.6,314.4 C1437.4,313.4 1440.1,319.4 1441.5,322.3 C1444,327.3 1444.1,334.4 1447.5,338.2 C1450,341 1455.6,342.7 1459.4,342.2 C1464.9,341.4 1470.9,337.9 1475.3,334.2 C1478.9,331.3 1480.2,326 1483.3,322.3 C1486.9,318 1491.2,314.4 1495.2,310.4 C1499.2,306.4 1504.1,303.1 1507.2,298.4 C1512,291.1 1514.5,282.2 1519.1,274.6 C1522.5,268.9 1526.3,262.5 1531,258.7 C1532.9,257.1 1538.6,256.5 1539,258.7 C1540.6,269.7 1538.9,285.4 1537,298.4 C1535,311.9 1529.8,324.8 1527,338.2 C1525.2,347.4 1526.1,358 1523.1,366.1 C1522.1,368.6 1517.5,368.3 1515.1,370 C1512.1,372.3 1508.6,374.7 1507.2,378 C1504.6,384 1505.1,391.4 1503.2,397.9 C1499.8,408.8 1500.2,426.6 1491.2,430.2 C1473.7,437.3 1432.4,443.6 1423.6,430.2 Z" fill="#dadaff"/><path d="M1433.6,354.1 C1433.8,352.4 1437.2,348.8 1437.5,350.2 C1439.2,356.8 1439.9,368.8 1439.5,378 C1439.3,383.4 1436.6,393.9 1435.6,393.9 C1434.6,393.9 1433.8,383.3 1433.6,378 C1433.2,370.1 1432.5,361.6 1433.6,354.1 Z" fill="#c0c0ff"/><path d="M1358,248.7 C1360,249.4 1361.9,250.1 1364,250.7 C1366.6,251.5 1369.3,251.8 1371.9,252.7 C1375.3,253.8 1380.6,253.8 1381.9,256.7 C1384.5,262.5 1381.6,272.2 1383.8,278.6 C1384.9,281.4 1389.3,282.4 1391.8,284.5 C1393.9,286.3 1396.3,288.1 1397.8,290.5 C1399.6,293.5 1399.4,299.4 1401.7,300.4 C1404.1,301.4 1408.3,297.7 1411.7,296.5 C1415.6,295 1419.5,293.3 1423.6,292.5 C1427.5,291.7 1431.6,292.1 1435.6,291.7 C1440.9,291.1 1446.1,289.9 1451.5,289.7 C1456.8,289.5 1462.2,291.1 1467.4,290.5 C1472.8,289.8 1478.2,287.8 1483.3,285.7 C1488.8,283.5 1494,280.6 1499.2,277.8 C1504.6,274.9 1510.2,272.2 1515.1,268.6 C1520.8,264.5 1525.7,259.3 1531,254.7 C1536.3,250 1542,245.7 1546.9,240.8 C1552.6,235.1 1558.3,229.4 1562.8,222.9 C1568.9,214.1 1573.2,204.1 1578.8,195 C1583.8,186.9 1589.7,179.3 1594.7,171.2 C1600.3,162.1 1605,152.4 1610.6,143.3 C1615.6,135.2 1620.9,127.2 1626.5,119.4 C1631.5,112.6 1636.8,105.9 1642.4,99.6 C1647.4,94 1652.5,88.3 1658.3,83.6 C1663.1,79.7 1668.6,76.2 1674.2,73.7 C1679.2,71.5 1684.9,69.7 1690.1,69.7 C1694.2,69.7 1698.7,71.4 1702.1,73.7 C1706.6,76.7 1710,81.7 1714,85.6" fill="none" stroke="#808080" stroke-width="3.6"/><path d="M1358,254.7 C1358.7,254.7 1359.4,254.9 1360,254.7 C1361.4,254.2 1362.8,252.4 1364,252.7 C1365.4,253.1 1366.2,256 1367.9,256.7 C1371.6,258 1377.9,255.9 1379.9,258.7 C1383.2,263.2 1381.3,272.6 1383.8,278.6 C1385.3,281.9 1389,284.1 1391.8,286.5 C1393.6,288.1 1396.4,288.6 1397.8,290.5 C1400.2,293.9 1400.3,300.9 1402.9,302.4 C1404.9,303.5 1408.8,299.8 1411.7,298.4 C1415,296.9 1418.1,294.4 1421.6,293.7 C1426.1,292.8 1430.9,293.5 1435.6,293.7 C1440.9,293.8 1446.2,294.7 1451.5,294.5 C1456.8,294.3 1462.2,293.8 1467.4,292.5 C1472.8,291.1 1478.1,288.8 1483.3,286.5 C1488.7,284.1 1493.9,281.2 1499.2,278.6 C1504.5,275.9 1510.3,273.9 1515.1,270.6 C1520.9,266.6 1525.7,261.3 1531,256.7 C1536.3,252 1541.8,247.6 1546.9,242.8 C1552.4,237.6 1556.8,231 1562.8,226.8 C1567.4,223.7 1574.4,224.2 1578.8,220.9 C1585,216.2 1589.2,208.8 1594.7,203 C1599.8,197.5 1605.4,192.5 1610.6,187.1 C1616,181.3 1620.9,174.8 1626.5,169.2 C1631.5,164.2 1637.3,160.1 1642.4,155.2 C1647.9,150.1 1653,144.6 1658.3,139.3 C1663.6,134 1668.3,127.9 1674.2,123.4 C1678.9,119.9 1684.9,118.3 1690.1,115.5 C1694.2,113.3 1697.8,109.6 1702.1,108.3 C1705.7,107.2 1710,108.3 1714,108.3" fill="none" stroke="#000" stroke-width="4.0"/></g></g>
<g clip-path="url(#c04)"><g clip-path="url(#de)"><clipPath id="de"><rect x="1785.9" y="35.1" width="351.9" height="387.1"/></clipPath><path d="M1883.4,27.1 C1956.8,12.5 2094.7,-9.3 2145.8,27.1 C2182.2,53 2145.8,151.9 2145.8,214.1 C2145.8,214.2 2145.8,214 2145.8,214 C2140.8,209.5 2136.2,203 2130.7,200.7 C2127.6,199.4 2122.4,205.3 2120,203.3 C2113.5,198.2 2110.5,185.2 2104,179.3 C2101.6,177.1 2094.6,177.6 2093.3,179.3 C2092,181.1 2096,186.4 2096,190 C2096,203.3 2095.2,216.8 2093.3,230 C2090.8,247.9 2085.5,265.4 2082.7,283.3 C2078.4,309.9 2074.9,336.6 2072,363.3 C2069.6,385.5 2074.9,414.9 2066.7,430.2 C2062.9,437.2 2039.5,437.2 2036,430.2 C2028.4,414.9 2033.6,385.6 2033.4,363.3 C2033.2,345.5 2033.1,327.6 2034.7,310 C2035.4,301.8 2036.5,292.9 2040,286 C2041.9,282.2 2046.8,280.1 2050.7,278 C2054.8,275.7 2060.8,275.8 2064,272.7 C2068,268.7 2070.4,262.4 2072,256.7 C2074.9,246.4 2075.8,235.4 2077.3,224.7 C2079.3,211.4 2081.9,197.9 2082.7,184.7 C2082.8,181.9 2082.2,177.2 2080,176.6 C2075.1,175.4 2066.9,177 2061.4,179.3 C2056.3,181.4 2050.8,185.2 2048,190 C2041.9,200.4 2038.6,212.9 2034.7,224.7 C2029.7,239.6 2025.2,254.7 2021.3,270 C2018,283.2 2015.1,296.5 2013.3,310 C2011.6,323.2 2012.7,336.8 2010.7,350 C2009.1,360 2007.1,372.8 2002.7,379.3 C2001.2,381.5 1996.1,377.1 1992.8,376 C1990.8,375.3 1987.5,375.9 1986.7,374 C1981.8,362.7 1979.3,349.1 1976,336.6 C1973.4,326.6 1971.7,316.4 1969,306.4 C1965.3,293 1963.4,278.6 1957,266.6 C1951.4,256 1941.1,248.1 1933.2,238.8 C1925.2,229.5 1916,221 1909.3,210.9 C1902.8,201.1 1897.4,190.2 1893.4,179.1 C1888.8,166.3 1885.1,152.8 1883.4,139.3 C1881.1,119.7 1881.4,99.6 1881.4,79.7 C1881.4,62.1 1868.7,30 1883.4,27.1 Z" fill="#ffd8d8"/><path d="M1909.3,27.1 C1974.3,12.8 2088.4,5.7 2145.8,27.1 C2167.2,35.1 2151.1,88.1 2145.8,115.5 C2143.9,125.5 2131.8,131.9 2124.1,139.3 C2119.3,143.9 2113.8,147.8 2108.2,151.3 C2103.2,154.4 2097.3,156.1 2092.3,159.2 C2086.7,162.7 2082,167.7 2076.4,171.2 C2071.3,174.3 2065.7,176.5 2060.4,179.1 C2055.1,181.8 2048.9,183.3 2044.5,187.1 C2039.6,191.3 2035.7,197.2 2032.6,203 C2027.8,211.8 2024.1,221.3 2020.7,230.8 C2017.4,239.9 2015.2,249.3 2012.7,258.7 C2009.9,269.2 2007,279.8 2004.8,290.5 C2003.1,298.4 2004.3,308.2 2000.8,314.4 C1999,317.5 1991.9,319.6 1988.8,318.3 C1985.3,316.9 1983,310.7 1980.9,306.4 C1976.4,297.4 1973.5,287.6 1969,278.6 C1965.5,271.7 1961.4,265 1957,258.7 C1952.2,251.7 1946.4,245.4 1941.1,238.8 C1935.8,232.1 1929.2,226.2 1925.2,218.9 C1921.2,211.6 1919.9,203 1917.2,195 C1914.6,187.1 1911,179.3 1909.3,171.2 C1907.1,160.8 1905.5,150 1905.3,139.3 C1904.9,119.5 1906.6,99.6 1907.3,79.7 C1907.9,62.1 1894.8,30.3 1909.3,27.1 Z" fill="#ffa8a8"/><path d="M1957,218.9 C1958.8,210.5 1963.9,202.2 1969,195 C1973.2,189 1980.8,178.4 1984.9,179.1 C1988.7,179.8 1991.1,192.1 1992.8,199 C1995.1,208 1995.4,217.6 1996.8,226.8 C1998,234.8 2000.8,242.8 2000.8,250.7 C2000.8,258.7 1999.5,267.3 1996.8,274.6 C1995.5,277.9 1991.8,282.5 1988.8,282.5 C1985.1,282.5 1980.2,277.9 1976.9,274.6 C1972.3,270 1968.2,264.4 1965,258.7 C1962.2,253.8 1960.1,248.3 1959,242.8 C1957.5,235 1955.5,226.4 1957,218.9 Z" fill="#ff8a8a"/><path d="M2016.7,179.1 C2015.7,167.4 2021.4,152.4 2024.6,139.3 C2028,125.9 2033.2,113 2036.6,99.6 C2039.9,86.5 2039.4,71.7 2044.5,59.8 C2047.4,53.2 2054.7,48.6 2060.4,43.9 C2067.9,37.7 2076.9,27.1 2084.3,27.1 C2090.2,27.1 2094.5,38.7 2100.2,43.9 C2105.1,48.3 2112.6,50.5 2116.1,55.8 C2120.6,62.5 2121.9,71.6 2124.1,79.7 C2125.9,86.2 2128.1,92.9 2128.1,99.6 C2128.1,106.2 2127.2,113.8 2124.1,119.4 C2120.6,125.7 2113.8,130.4 2108.2,135.4 C2103.2,139.7 2097.9,143.8 2092.3,147.3 C2087.3,150.4 2081.7,152.6 2076.4,155.2 C2071,157.9 2065.4,160.1 2060.4,163.2 C2054.8,166.7 2049.8,171.2 2044.5,175.1 C2039.2,179.1 2034,186.3 2028.6,187.1 C2024.7,187.6 2017,183.3 2016.7,179.1 Z" fill="#ff8a8a"/><path d="M2032.6,151.3 C2032.6,141.9 2037.5,129.9 2040.6,119.4 C2044.1,107.4 2047.2,94.9 2052.5,83.6 C2056.5,75.1 2061.6,65.8 2068.4,59.8 C2073.5,55.2 2081.8,51.8 2088.3,51.8 C2093.7,51.8 2100.6,55.6 2104.2,59.8 C2108.5,64.8 2110.9,72.8 2112.2,79.7 C2113.5,87.4 2114.3,96.3 2112.2,103.5 C2110.3,109.6 2104.9,114.8 2100.2,119.4 C2095.6,124.1 2089.9,127.9 2084.3,131.4 C2079.3,134.5 2073.7,136.7 2068.4,139.3 C2063.1,142 2057.6,144.4 2052.5,147.3 C2048.3,149.7 2044.6,154.4 2040.6,155.2 C2038,155.8 2032.6,153.8 2032.6,151.3 Z" fill="#ff7272"/><path d="M2056.5,99.6 C2057.2,91.5 2060,82.4 2064.4,75.7 C2067.9,70.4 2074.5,65.2 2080.3,63.8 C2085.1,62.6 2092.4,64.6 2096.2,67.7 C2100.4,71.2 2103.6,78.1 2104.2,83.6 C2104.9,90 2103.1,97.7 2100.2,103.5 C2097.8,108.3 2092.8,112.2 2088.3,115.5 C2083.5,118.9 2077.8,122.6 2072.4,123.4 C2068.5,124 2062.5,122.5 2060.4,119.4 C2057.2,114.5 2055.9,106.1 2056.5,99.6 Z" fill="#ff5a5a"/><path d="M2060.4,103.5 C2060.8,97 2064,88.4 2068.4,83.6 C2071.9,79.8 2079.6,77 2084.3,77.7 C2088.2,78.3 2093,83.6 2094.3,87.6 C2095.7,92.2 2094.6,99.2 2092.3,103.5 C2090,107.8 2084.9,111.4 2080.3,113.5 C2076.2,115.4 2069.8,117.2 2066.4,115.5 C2063.2,113.9 2060.2,107.6 2060.4,103.5 Z" fill="#ff4242"/><path d="M1777.9,79.7 C1778.1,75.7 1789,80 1790,83.6 C1794.3,99.8 1791.3,121.1 1793.9,139.3 C1794.6,143.7 1797.2,150.6 1799.9,151.3 C1802.5,151.9 1806.7,143.3 1809.8,143.3 C1812.6,143.3 1815.5,151.8 1817.8,151.3 C1820.8,150.5 1823.6,143.6 1825.8,139.3 C1828.9,133 1830.3,120.1 1833.7,119.4 C1836.9,118.8 1842.5,129.5 1845.6,135.4 C1851.8,146.8 1855.7,159.5 1861.6,171.2 C1866.3,180.7 1872.2,189.7 1877.5,199 C1882.8,208.3 1887.8,217.7 1893.4,226.8 C1898.4,235 1903.5,243.1 1909.3,250.7 C1916.7,260.4 1926.1,268.6 1933.2,278.6 C1939.3,287.2 1945.4,296.5 1949.1,306.4 C1952.7,316.4 1955,327.7 1955,338.2 C1955,345 1953.1,353.1 1949.1,358.1 C1944.5,363.7 1931.7,363.4 1929.2,370 C1922.5,387.4 1934.6,422.4 1921.2,430.2 C1900.1,442.5 1847.2,441.4 1825.8,430.2 C1814,424 1824,395.3 1821.8,378 C1820,364.6 1816.9,351.4 1813.8,338.2 C1811.6,328.8 1810.1,318.8 1805.9,310.4 C1803.4,305.5 1798.6,301.1 1793.9,298.4 C1789.3,295.8 1778.3,299.7 1777.9,294.5 C1772.9,226.7 1774.1,146 1777.9,79.7 Z" fill="#dadaff"/><path d="M1805.9,187.1 C1807.2,184.4 1813.9,186.4 1817.8,187.1 C1821.9,187.7 1828.4,187.6 1829.7,191 C1833.7,200.9 1831.2,215.2 1833.7,226.8 C1835.2,233.8 1836.9,242.6 1841.7,246.7 C1846.2,250.6 1855.8,247.8 1861.6,250.7 C1866.4,253.1 1868.8,261.3 1873.5,262.6 C1878.1,263.9 1884.8,257.4 1889.4,258.7 C1894.1,260 1898.4,265.9 1901.3,270.6 C1905,276.5 1906.8,283.8 1909.3,290.5 C1912.2,298.4 1915.2,306.2 1917.2,314.4 C1919.2,322.2 1921.2,330.2 1921.2,338.2 C1921.2,347.5 1921.4,359.4 1917.2,366.1 C1914.8,370 1906.4,368.1 1901.3,370 C1895.8,372.1 1889.4,374 1885.4,378 C1881.4,382 1881.4,389.9 1877.5,393.9 C1873.5,397.9 1867.1,401.2 1861.6,401.9 C1855.2,402.6 1846.2,401.8 1841.7,397.9 C1836.9,393.8 1835.3,384.9 1833.7,378 C1831.3,367.7 1832,356.6 1829.7,346.2 C1828,338 1824.4,330.3 1821.8,322.3 C1819.1,314.4 1815.8,306.6 1813.8,298.4 C1811.9,290.6 1810.7,282.6 1809.8,274.6 C1808.7,264 1808.5,253.4 1807.9,242.8 C1807.2,232.1 1806.2,221.5 1805.9,210.9 C1805.6,203 1803.2,192.4 1805.9,187.1 Z" fill="#c0c0ff"/><path d="M1813.8,203 C1814.4,200.4 1821,197.1 1821.8,199 C1824.3,205 1823.8,217.6 1823.8,226.8 C1823.8,234.8 1823.4,243.2 1821.8,250.7 C1821.4,252.5 1818.4,255.8 1817.8,254.7 C1815.7,250.5 1814.3,241.5 1813.8,234.8 C1813,224.3 1811.7,212.3 1813.8,203 Z" fill="#a4a4ff"/><path d="M1841.7,258.7 C1845,255.3 1852.6,254 1857.6,254.7 C1861.9,255.3 1867.7,258.6 1869.5,262.6 C1873,270.5 1873.5,281.2 1873.5,290.5 C1873.5,299.8 1870.7,309 1869.5,318.3 C1868.1,328.9 1867.8,339.7 1865.5,350.2 C1863.8,358.3 1861.5,369.1 1857.6,374 C1856.2,375.7 1850.8,372.6 1849.6,370 C1845.4,360.7 1843.5,349 1841.7,338.2 C1839.5,325.1 1838.5,311.7 1837.7,298.4 C1837.2,290.5 1836.9,282.4 1837.7,274.6 C1838.2,269.2 1838.4,262 1841.7,258.7 Z" fill="#a4a4ff"/><path d="M1885.4,262.6 C1886.6,261.2 1892,264.2 1893.4,266.6 C1897.3,273.5 1900.5,282.5 1901.3,290.5 C1901.9,295.7 1899.7,304.8 1897.4,306.4 C1895.7,307.5 1891,301.7 1889.4,298.4 C1886.4,292.4 1884.2,285.3 1883.4,278.6 C1882.9,273.4 1883.3,265.2 1885.4,262.6 Z" fill="#a4a4ff"/><path d="M1849.6,298.4 C1850.7,296.1 1856.4,292.8 1857.6,294.5 C1860.3,298.1 1861.6,307.7 1861.6,314.4 C1861.6,321 1860,330.3 1857.6,334.2 C1856.7,335.6 1852.5,332.3 1851.6,330.3 C1849.6,325.7 1849.2,319.7 1848.8,314.4 C1848.5,309.1 1847.7,302.7 1849.6,298.4 Z" fill="#8a8aff"/><path d="M1784,246.7 C1786,246.7 1788,246.5 1790,246.7 C1792.6,247.1 1795.5,247.5 1797.9,248.7 C1800.8,250.2 1804.6,251.9 1805.9,254.7 C1808.5,260.5 1807.7,268.2 1809.8,274.6 C1811.7,280.2 1814.6,285.5 1817.8,290.5 C1820.6,294.8 1823.7,300.2 1827.7,302.4 C1830.3,303.9 1834.4,301.7 1837.7,301.6 C1843,301.5 1848.4,302.5 1853.6,301.6 C1859,300.7 1864.1,297.3 1869.5,296.5 C1874.7,295.6 1880.1,296.8 1885.4,296.5 C1890.7,296.1 1896.1,295.4 1901.3,294.5 C1906.7,293.5 1912,291.9 1917.2,290.5 C1922.6,289 1928,287.7 1933.2,285.7 C1938.6,283.7 1944.1,281.5 1949.1,278.6 C1954.7,275.2 1959.7,270.6 1965,266.6 C1970.3,262.6 1975.9,259 1980.9,254.7 C1986.5,249.8 1992.1,244.6 1996.8,238.8 C2002.7,231.3 2007.7,223 2012.7,214.9 C2018.3,205.8 2023.6,196.5 2028.6,187.1 C2034.2,176.6 2039,165.7 2044.5,155.2 C2049.6,145.8 2054.5,136.3 2060.4,127.4 C2065.1,120.4 2070.9,114 2076.4,107.5 C2081.5,101.4 2086.5,95 2092.3,89.6 C2097.1,85.1 2102.4,80.6 2108.2,77.7 C2111.7,75.9 2116.2,75.4 2120.1,75.7 C2124.2,76 2128.3,77.8 2132,79.7 C2135,81.1 2137.3,83.6 2140,85.6" fill="none" stroke="#808080" stroke-width="3.6"/><path d="M1784,218.9 C1785.3,218.9 1787.1,218.1 1788,218.9 C1789.8,220.7 1790.9,224.1 1791.9,226.8 C1793.6,231.4 1793.5,238.7 1795.9,240.8 C1797.4,242 1801.7,236.4 1803.9,236.8 C1805.7,237.1 1807.2,240.5 1807.9,242.8 C1809.2,247.8 1808,253.9 1809.8,258.7 C1811.3,262.5 1814.9,266.6 1817.8,268.6 C1818.8,269.3 1821.1,265.8 1821.8,266.6 C1823.7,269.1 1824.3,274.6 1825.8,278.6 C1827,281.9 1827.6,287.4 1829.7,288.5 C1831.5,289.4 1835,285.8 1837.7,284.5 C1840.3,283.2 1842.8,281 1845.6,280.5 C1850.7,279.7 1856.3,280.1 1861.6,280.5 C1866.9,281 1872.1,283.1 1877.5,283.3 C1881.4,283.5 1885.5,281.5 1889.4,281.7 C1893.4,281.9 1897.3,283.9 1901.3,284.5 C1906.6,285.3 1911.9,285.7 1917.2,285.7 C1922.5,285.7 1927.9,285.3 1933.2,284.5 C1937.2,283.9 1941.2,283 1945.1,281.7 C1949.2,280.4 1952.9,277.3 1957,276.6 C1960.8,275.9 1965.1,278.4 1969,277.8 C1973.1,277.1 1976.8,274 1980.9,272.6 C1983.4,271.7 1986.9,272.3 1988.8,270.6 C1993.5,266.4 1997.1,260.2 2000.8,254.7 C2005.1,248.3 2008.7,241.4 2012.7,234.8 C2016.7,228.2 2020.7,221.5 2024.6,214.9 C2028.6,208.3 2032.2,201.3 2036.6,195 C2041.4,188.1 2047.5,182 2052.5,175.1 C2058.1,167.4 2062.3,158.5 2068.4,151.3 C2072.9,145.9 2078.8,141.8 2084.3,137.3 C2089.4,133.2 2095.6,130.1 2100.2,125.4 C2104.9,120.8 2108.5,115 2112.2,109.5 C2115.1,105.1 2116.6,99.1 2120.1,95.6 C2121.9,93.8 2125.7,93.2 2128.1,93.6 C2129.7,93.9 2130.4,97 2132,97.6 C2134.4,98.3 2137.3,97.6 2140,97.6" fill="none" stroke="#000" stroke-width="4.0"/></g></g>
<g clip-path="url(#c10)"><rect x="82.5" y="488.2" width="353.9" height="397.4" fill="#ffd8d8"/><path d="M93.9,481.2 C116.2,475 161,471.6 179.4,481.2 C188.8,486.1 178.5,510.3 177.5,524.8 C176.5,538.1 175,551.3 173.5,564.6 C172.7,571.2 170.8,577.8 170.5,584.4 C170.2,591 171.7,597.7 171.5,604.3 C171.3,611 170.6,617.7 169.5,624.2 C168.6,629.6 167.1,634.9 165.5,640.1 C163.7,646.2 160.7,651.9 159.6,658 C157.4,669.1 160.8,685 155.6,691.8 C152.2,696.3 135.5,697.4 133.7,691.8 C128.2,674.8 133.9,646.8 133.7,624.2 C133.6,611 134.4,597 132.7,584.4 C132.4,582.4 129.6,580.5 127.7,580.5 C124,580.5 117.5,581.4 115.8,584.4 C113.2,589.3 115.2,597.7 114.8,604.3 C113.2,633.5 116.1,667.5 109.8,691.8 C108.6,696.7 97.6,692.4 92.3,691.8 C91.7,691.8 92.3,690.5 92.3,689.9 C92.5,674.6 92.6,659.4 92.7,644.1 C92.9,630.8 93,617.6 93.1,604.3 C93.3,584.4 93.4,564.6 93.5,544.7 C93.6,531.4 93.8,518.1 93.9,504.9 C94,497 87.7,482.9 93.9,481.2 Z" fill="#ffffff"/><path d="M91.9,684 C96.9,667.8 139.6,678.8 155.6,684 C160.8,685.7 154.8,698 155.6,704.9 C156.2,710.3 158.1,715.5 159.6,720.8 C160.7,724.8 160.8,730.7 163.5,732.7 C166.1,734.7 171.6,732.2 175.5,732.7 C180.8,733.5 186.3,734.9 191.4,736.7 C195.5,738.2 200.8,739.5 203.3,742.7 C206.1,746.1 206.2,751.9 207.3,756.6 C208.8,763.2 208.7,770.5 211.3,776.5 C212.7,779.8 216.7,781.7 219.2,784.4 C222.7,788.3 226.9,791.9 229.2,796.4 C231.5,801.1 231.1,807.3 233.1,812.3 C234.4,815.3 236.6,819.6 239.1,820.2 C241.9,820.9 245.7,817.5 249.1,816.3 C252.7,814.9 258.3,815.1 260,812.3 C262.3,808.5 259.3,801.3 261,796.4 C262.9,790.7 266.6,784.6 270.9,780.5 C273.9,777.6 278.8,775.9 282.8,775.5 C286.1,775.2 290.5,776.3 292.8,778.5 C296.4,781.9 298.5,787.6 300.8,792.4 C303.1,797.5 305.1,802.9 306.7,808.3 C309.1,816.2 310.6,824.3 312.7,832.2 C314.6,839.5 316.4,846.9 318.7,854.1 C321,861.5 324.3,868.6 326.6,876 C328.3,881.4 335.7,892.1 330.6,892.6 C276.7,897.7 197.2,905.3 149.6,892.6 C136.9,889.2 149.1,860.2 149.6,844.1 C149.8,837.5 150.3,830.7 151.6,824.2 C152.3,820.8 155.3,817.7 155.6,814.3 C156,808.5 154.8,802.2 153.6,796.4 C152.8,792.9 151.7,788.9 149.6,786.4 C148.4,785 145.7,784.7 143.6,784.4 C141.1,784.1 137.8,785.5 135.7,784.4 C133.8,783.5 133.4,780.1 131.7,778.5 C130.1,776.8 127.9,774.9 125.7,774.5 C123.9,774.2 121.1,775 119.8,776.5 C115.8,781 111.4,786.6 109.8,792.4 C108.1,798.5 110.2,805.7 109.8,812.3 C109.5,818.9 108.4,825.5 107.8,832.2 C107.1,841.4 105.9,850.7 105.9,860 C105.9,870.9 111,885.3 107.8,892.6 C106.3,896.2 92.3,897.5 91.9,892.6 C87,828 75.7,737.3 91.9,684 Z" fill="#ffffff"/><path d="M199.3,481.2 C196.8,492.3 193.3,503.5 191.4,514.8 C189.3,526.6 188.1,538.7 187.4,550.6 C186.8,561.9 186.7,573.2 187.4,584.4 C188,594.4 190.1,604.3 191.4,614.3 C192.7,624.2 193.4,634.3 195.4,644.1 C196.1,647.6 196.9,652.5 199.3,654.1 C201.6,655.5 206.4,654.5 209.3,653.1 C213.1,651.2 215.7,646.8 219.2,644.1 C223,641.2 226.6,637.3 231.2,636.2 C240.2,633.9 254.7,631.5 260,634.2 C262.7,635.5 252.9,645.6 255,648.1 C257.9,651.6 269,649.3 274.9,652.1 C280.2,654.6 285.8,659 288.8,664 C293.7,672.2 294.2,683.6 298.8,691.9 C300.2,694.5 304.5,694.8 306.7,696.9 C311.1,701.1 314.7,706.2 318.7,710.9 C322.6,715.5 326.4,720.3 330.6,724.8 C335.1,729.6 339.5,734.5 344.5,738.7 C348.8,742.4 353.6,745.7 358.4,748.7 C362.2,751 366.2,753 370.4,754.6 C374.9,756.3 379.7,758.6 384.3,758.6 C388.9,758.6 393.9,756.6 398.2,754.6 C401.2,753.3 404.2,747.8 406.2,748.7 C408.8,749.8 410.8,756.4 412.2,760.6 C413.4,764.4 412.9,768.7 414.1,772.5 C415.5,776.7 417.7,780.8 420.1,784.5 C423,788.7 426,793.6 430.1,796.4 C433.7,798.9 443.2,804.8 443.4,800.4 C447.7,699.7 489.5,541.5 443.4,481.2 C408.1,435.1 280.2,481.2 199,481.2 C198.9,481.2 199.4,481.1 199.3,481.2 Z" fill="#ffa8a8"/><path d="M426.1,481.2 C428.3,477.6 442.6,476.2 443.4,481.2 C448.4,512 447.3,558 443.4,588.4 C442.9,592.4 433.3,587.2 430.1,584.5 C426.9,581.9 425.8,576.6 424.1,572.5 C422.5,568.7 420.3,564.7 420.1,560.6 C419.7,552.1 421.1,543.3 422.1,534.7 C423.1,526.1 425.4,517.5 426.1,508.9 C426.8,499.7 422.5,486.9 426.1,481.2 Z" fill="#ffd8d8"/><path d="M330.6,481.2 C324.4,489.2 331.9,510.3 332.6,524.8 C333.2,538 333.6,551.3 334.6,564.6 C335.6,577.9 336,591.4 338.5,604.4 C339.9,611.3 343.9,617.6 346.5,624.2 C349.2,630.9 351.8,637.5 354.5,644.1 C357.1,650.8 360.8,657.1 362.4,664 C364.4,672.5 363.4,681.8 365.4,690.1 C366.1,692.8 368.1,695.6 370.4,696.9 C374.4,699.2 379.9,701.3 384.3,700.9 C387.8,700.6 390.8,696.5 394.2,694.9 C396.7,693.8 399.7,692.6 402.2,693 C405,693.3 408.9,694.6 410.2,696.9 C412.8,701.8 412.9,708.9 414.1,714.8 C416.2,724.8 417.7,734.8 420.1,744.7 C421.7,751.4 423.9,758 426.1,764.6 C427.2,768 427.5,772.8 430.1,774.5 C433.3,776.7 442.9,780.5 443.4,776.5 C447.4,741.7 447.4,694.6 443.4,658.1 C442.9,653.8 434,656.3 430.1,654.1 C425.6,651.6 422.3,647.2 418.1,644.1 C414.3,641.3 409.8,639.2 406.2,636.2 C401.9,632.6 397.6,628.7 394.2,624.2 C389.6,618.1 385.1,611.4 382.3,604.4 C379.8,598.2 378.3,591 378.3,584.5 C378.3,581 381.8,578 382.3,574.5 C383.2,568.1 382.8,561.2 382.3,554.6 C381.5,544.6 380.7,534.5 378.3,524.8 C376.7,517.9 372.3,511.7 370.4,504.9 C368.3,497.2 371.7,484.4 366.4,481.2 C358.5,476.5 335.7,474.7 330.6,481.2 Z" fill="#ff8a8a"/><path d="M223.2,481.2 C224.6,478.2 235.7,478.3 237.1,481.2 C239.6,486.2 236.7,497.3 235.1,504.9 C234.7,507.2 232.8,510.5 231.2,510.9 C229.5,511.2 225.8,509 225.2,506.9 C223.1,499.1 220.6,486.8 223.2,481.2 Z" fill="#ff8a8a"/><path d="M356.5,584.5 C357,582.8 361.4,581.3 362.4,582.5 C364.7,585.2 366,591.7 366.4,596.4 C366.7,599.7 365.9,606 364.4,606.3 C362.9,606.7 358.6,601.5 357.4,598.4 C355.9,594.2 355.3,588.1 356.5,584.5 Z" fill="#ff7272"/><path d="M370.4,622.3 C371.1,620.3 376.1,619.4 378.3,620.3 C381.4,621.4 384.7,625 386.3,628.2 C388,631.7 389.1,636.8 388.3,640.2 C387.8,642.1 384.2,644.6 382.3,644.1 C378.9,643.3 374.3,639.6 372.4,636.2 C370.3,632.4 369.1,625.6 370.4,622.3 Z" fill="#ff7272"/><path d="M199.3,489 C196.7,494.3 193.8,499.5 191.4,504.9 C188.5,511.4 185.4,517.9 183.4,524.8 C180.1,536.5 175.9,548.8 175.5,560.6 C175.2,566.7 179.4,572.5 181.4,578.5 C183.7,585.1 188,591.7 188.4,598.4 C188.7,603 185.4,607.8 183.4,612.3 C181.1,617.7 178.1,622.9 175.5,628.2 C172.8,633.5 170.2,638.8 167.5,644.1 C164.9,649.4 163.1,657.4 159.6,660 C157.8,661.3 154.4,657.1 151.6,656 C149.1,655.1 145.7,655.6 143.6,654.1 C141.1,652.2 140.1,646.4 137.7,646.1 C134.8,645.7 130.8,652.4 127.7,652.1 C124.8,651.7 121.9,644.5 119.8,644.1 C118.6,643.9 118.2,651.1 117.8,650.1 C116.6,647.1 116.3,638 114.8,632.2 C114.3,630 112,625.1 111.8,626.2 C111.3,629.1 112.6,638.1 112.8,644.1 C113.3,659.4 113.5,674.7 113.8,690.1" fill="none" stroke="#000" stroke-width="2.0"/><path d="M215.2,488 C211.3,491 206.7,493.4 203.3,496.9 C200.1,500.3 196.6,504.4 195.4,508.9 C193,517 192.7,526.1 192.4,534.7 C192,543.3 191.9,552.2 193.4,560.6 C194.2,565.5 196.4,570.9 199.3,574.5 C201,576.5 204.5,576.9 207.3,577.5 C211.2,578.3 215.6,577.1 219.2,578.5 C223.6,580.1 227.5,583.4 231.2,586.4 C234.8,589.4 239.7,592.5 241.1,596.4 C242.3,599.7 240,604.4 239.1,608.3 C238,613.7 235.5,618.9 235.1,624.2 C234.8,628.8 235.2,634 237.1,638.1 C239.2,642.7 244.4,645.7 247.1,650.1 C250.4,655.6 255,662.1 255,668 C255,673.3 249.9,678.7 247.1,683.9 C245.9,686 244.4,688 243.1,690.1" fill="none" stroke="#000" stroke-width="2.0"/><path d="M207.3,524.8 C207.3,522.7 212.7,519.6 215.2,519.8 C218,520 223.2,523.6 223.2,525.8 C223.2,528.2 217.8,533.9 215.2,533.7 C212.5,533.6 207.3,527.4 207.3,524.8 Z" fill="none" stroke="#000" stroke-width="2.0"/><path d="M261,504.9 C256.3,508.2 251.4,511.2 247.1,514.8 C243.5,517.8 238.1,520.9 237.1,524.8 C236.1,528.8 239.9,534 241.1,538.7 C242.5,544 243.4,549.4 245.1,554.6 C246.7,559.4 248.3,564.4 251,568.5 C253.6,572.4 257.7,575.2 261,578.5" fill="none" stroke="#000" stroke-width="2.0"/><path d="M97.9,488 C99.2,493.6 101,499.2 101.9,504.9 C103,512.8 102.2,521.5 103.9,528.8 C104.2,530.1 107.4,531.8 107.8,530.7 C109.4,527.1 109.3,520.2 109.8,514.8 C110.7,505.9 111.2,496.9 111.8,488" fill="none" stroke="#808080" stroke-width="1.8"/><path d="M137.7,488 C138.3,494.9 138.9,501.9 139.7,508.9 C140.2,514.2 140.2,521.8 141.7,524.8 C142.2,525.8 145.3,522.6 145.6,520.8 C147.6,510.3 147.6,498.9 148.6,488" fill="none" stroke="#808080" stroke-width="1.8"/><path d="M84,532.7 C85.3,538.7 86,547.8 88,550.6 C88.7,551.8 90.3,545 91.9,544.7 C93.6,544.3 97.1,546.5 97.9,548.6 C100.4,555.2 100.4,569.4 101.9,570.5 C103,571.4 104.3,559.8 105.9,554.6 C106.9,551.2 107.4,546.7 109.8,544.7 C112.1,542.7 116.5,542.7 119.8,542.7 C123.1,542.7 127,545.4 129.7,544.7 C131.6,544.1 132.2,538.7 133.7,538.7 C135.5,538.7 137.4,544.3 139.7,544.7 C142,545 145.7,542.8 147.6,540.7 C151.7,536.2 155.3,530.5 157.6,524.8 C160,518.6 160.8,511.6 161.5,504.9 C162.1,499.3 161.5,493.6 161.5,488" fill="none" stroke="#808080" stroke-width="1.8"/><path d="M170.5,488 C169.5,496.9 168.5,505.9 167.5,514.8 C166.2,526.1 166.6,538.4 163.5,548.6 C162.6,551.6 158.1,552.4 155.6,554.6 C152.8,557.1 149.8,559.6 147.6,562.6 C145.9,564.9 145.3,569.7 143.6,570.5 C142.6,571 141,566.3 139.7,566.5 C137.7,566.9 135.5,570.4 133.7,572.5 C132.2,574.3 130.8,579 129.7,578.5 C128.1,577.7 127.8,571 125.7,568.5 C124.5,567.1 121.8,566.8 119.8,566.5 C117.2,566.2 113.7,565.3 111.8,566.5 C109.7,567.9 108.6,571.7 107.8,574.5 C106.2,580.9 105.4,587.7 104.9,594.4 C104.1,604.3 104.5,614.3 103.9,624.2 C103.5,629.5 102.8,638.4 101.9,640.1 C101.4,641 100.2,634.9 99.9,632.2 C98.9,623 98.9,608.7 97.9,604.3 C97.5,602.7 97.3,611.5 95.9,614.3 C95.3,615.5 93.1,616.6 91.9,616.3 C90.5,615.9 88.5,614 88,612.3 C85.8,604.8 85.3,596.4 84,588.4" fill="none" stroke="#808080" stroke-width="1.8"/><path d="M84,724.8 C85.3,730.1 86.1,735.6 88,740.7 C88.8,742.9 90.1,745.6 91.9,746.7 C93.4,747.6 96.1,746 97.9,746.7 C99.8,747.3 102.2,748.7 102.9,750.6 C104.8,756 104.6,762.6 105.9,768.5 C107,773.9 108,782.1 109.8,784.4 C110.6,785.5 112.3,779.4 113.8,778.5 C114.6,778 116.6,781.5 116.8,780.5 C118.6,770.2 117.9,756.5 119.8,744.7 C121.6,733.3 124.2,721.4 127.7,710.9 C128.2,709.5 130.5,709.7 131.7,708.9 C134.5,707 136.8,704.5 139.7,702.9 C141.5,701.9 143.6,700.9 145.6,700.9 C147.6,700.9 149.9,701.8 151.6,702.9 C153.9,704.4 155.2,707.7 157.6,708.9 C159.2,709.7 162.3,710.1 163.5,708.9 C166.3,706.1 167.6,701 169.5,696.9 C171.3,693 172,688.3 174.5,685 C176,682.9 179.1,680.6 181.4,680.6 C183.8,680.6 186.4,683.2 188.4,685 C192.3,688.6 195.6,693 199.3,696.9 C201.9,699.7 204.2,702.9 207.3,704.9 C210.2,706.8 214.5,706.8 217.2,708.9 C219.8,710.8 221.5,714 223.2,716.8 C225.5,720.6 227.2,724.8 229.2,728.8 C231.2,732.7 232.4,737.7 235.1,740.7 C236.4,742 240.8,743.1 241.1,741.7 C242.1,737.8 239.7,730.4 239.1,724.8 C238.4,718.2 236.3,711.2 237.1,704.9 C237.7,700.6 241.1,696.9 243.1,693 C244.4,690.3 245.7,687.7 247.1,685" fill="none" stroke="#000" stroke-width="2.0"/><path d="M84,776.5 C85.3,777.2 87,777.4 88,778.5 C89.7,780.4 90.5,785.3 91.9,785.4 C93.2,785.6 94.5,779.6 95.9,779.5 C97.2,779.3 98.3,783.3 99.9,784.4 C100.6,785 102.6,783.6 102.9,784.4 C104.6,790.2 104.9,797.7 105.9,804.3 C107.2,813.6 107.5,824.4 109.8,832.2 C110.2,833.3 112.8,830.6 113.8,831.2 C115.2,832 116.2,836.9 116.8,836.2 C118.1,834.6 118.6,828.1 119.8,824.2 C122.2,816.2 125.2,808.3 127.7,800.4 C129.8,793.8 131.3,782.1 133.7,780.5 C135.3,779.4 137.7,788.4 139.7,792.4 C141.7,796.4 143.8,800.3 145.6,804.3 C147.7,808.9 149,814 151.6,818.3 C153,820.6 156,821.9 157.6,824.2 C160,827.9 161.3,832.4 163.5,836.2 C165.2,839 167.4,843.3 169.5,844.1 C170.7,844.6 172.3,841.6 173.5,840.1 C175.7,837.3 176.8,832.5 179.4,831.2 C181.5,830.2 184.8,832.4 187.4,833.2 C190.1,834 193.4,834.4 195.4,836.2 C197.4,838 198.5,841.3 199.3,844.1 C201.2,850.6 202.2,857.3 203.3,864 C204.8,872.7 206,881.4 207.3,890.1" fill="none" stroke="#000" stroke-width="2.0"/><path d="M84,806.3 C85,808.3 86.8,810.1 87,812.3 C88.1,825.3 86.5,839.5 88,852.1 C88.1,853.5 90.8,854.3 91.9,854.1 C93.4,853.7 95.6,851.9 95.9,850.1 C97.3,840.6 96.2,820.6 96.9,820.2 C97.5,819.9 98.4,839.1 99.9,848.1 C100,849 101.6,850.7 101.9,850.1 C103,847.4 103.4,837 103.9,838.1 C104.7,840.3 105,852.7 105.9,860 C107,870 108.5,880 109.8,890.1" fill="none" stroke="#000" stroke-width="2.0"/><path d="M118.8,890.1 C120.4,878.1 121.2,865.8 123.8,854.1 C124.8,849.2 127.2,844.2 129.7,840.1 C130.5,838.9 132.6,837.7 133.7,838.1 C135.9,839 137.4,842.6 139.7,844.1 C141.4,845.2 144.2,844.7 145.6,846.1 C148.2,848.7 149.9,852.6 151.6,856 C153.9,860.5 156.2,865.1 157.6,870 C159.5,876.5 160.2,883.4 161.5,890.1" fill="none" stroke="#000" stroke-width="2.0"/><path d="M227.2,890.1 C226.2,876.7 223.2,862.9 224.2,850.1 C224.5,845.6 228.3,841.7 231.2,838.1 C234.6,833.8 238.8,829.8 243.1,826.2 C246.7,823.2 250.9,820.7 255,818.3 C256.6,817.4 258.3,816.9 260,816.3" fill="none" stroke="#000" stroke-width="2.0"/><path d="M251,890.1 C251,876.7 249.9,862.9 251,850.1 C251.2,848.3 253.5,847.1 255,846.1 C256.5,845.1 258.3,844.8 260,844.1" fill="none" stroke="#000" stroke-width="2.0"/><path d="M99.9,685 C100.2,691.6 100,698.3 100.9,704.9 C102,713.6 103.3,723 105.9,730.7 C106.3,731.9 109.4,732.8 109.8,731.7 C111.4,727.5 110.6,720.3 111.8,714.8 C112.3,712.7 114.1,708.6 114.8,708.9 C115.7,709.2 116.6,718.5 116.8,716.8 C117.6,710.5 117.5,695.6 117.8,685" fill="none" stroke="#000" stroke-width="2.0"/><path d="M249,514.8 C251,512.8 253,510.9 255,508.9 C257.7,506.2 260.3,503.6 263,500.9 C266.3,497.6 269.7,494.4 272.9,491 C273.7,490.1 274.2,489 274.9,488" fill="none" stroke="#000" stroke-width="2.0"/><path d="M296.8,488 C296.4,500.3 294.5,512.8 295.8,524.8 C296.5,531.7 300.5,538 302.7,544.7 C305.4,552.6 308.5,560.5 310.7,568.5 C312.5,575.1 313.4,581.8 314.7,588.4 C316,595.1 317.2,601.7 318.7,608.3 C320.5,616.3 320.9,626.3 324.6,632.2 C326.2,634.6 331.4,632.4 334.6,633.2 C336.7,633.7 338.7,634.9 340.5,636.2 C344,638.6 348,640.8 350.5,644.1 C354,648.8 356.2,654.6 358.4,660.1 C360.2,664.5 361.6,669.2 362.4,674 C363.3,679.3 363.1,684.7 363.4,690.1" fill="none" stroke="#000" stroke-width="2.0"/><path d="M322.6,488 C324,491 324.7,494.4 326.6,496.9 C328.7,499.7 331.6,502.8 334.6,503.9 C336.9,504.8 340.3,504.1 342.5,502.9 C345.6,501.2 348.2,497.9 350.5,494.9 C352.1,492.9 353.1,490.3 354.5,488" fill="none" stroke="#000" stroke-width="2.0"/><path d="M382.3,488 C381,491 379.9,494.1 378.3,496.9 C376,501.1 372.5,504.6 370.4,508.9 C367.9,513.9 366.1,519.4 364.4,524.8 C362.8,530 362.3,535.6 360.4,540.7 C358.9,544.9 357.5,549.9 354.5,552.6 C351.6,555.2 346.4,555.1 342.5,556.6 C339.8,557.7 335.3,558.8 334.6,560.6 C334,562.1 336.6,565.6 338.5,566.6 C341.9,568.2 346.9,566.9 350.5,568.5 C354.2,570.2 357.8,573.3 360.4,576.5 C363.1,579.9 364.6,584.4 366.4,588.4 C368.6,593.6 370.9,598.9 372.4,604.4 C373.6,608.9 372.9,613.9 374.4,618.3 C375.6,621.9 378.1,625.1 380.3,628.2 C383.4,632.4 386.8,636.3 390.3,640.2 C392.8,642.9 395.1,646.4 398.2,648.1 C401.1,649.7 405.2,650.8 408.2,650.1 C411.1,649.5 413.4,644.1 416.1,644.1 C419.3,644.1 423,647.8 426.1,650.1 C428.3,651.8 430.2,654 432,656.1 C433.2,657.3 434,658.7 435,660.1" fill="none" stroke="#000" stroke-width="2.0"/><path d="M418.1,488 C415.5,491 413.3,494.6 410.2,496.9 C406.7,499.6 401.8,500.4 398.2,502.9 C395.2,505 392.1,507.7 390.3,510.9 C387.8,515 385.6,520 385.3,524.8 C384.9,531.3 386.8,538.2 388.3,544.7 C389.8,551.4 392.6,557.9 394.2,564.6 C395.9,571.1 396.8,577.9 398.2,584.5 C399.4,589.8 400.6,595.2 402.2,600.4 C403.3,603.8 404.3,609.6 406.2,610.3 C407.6,610.9 410.6,606.6 412.2,604.4 C413.3,602.7 413.2,599.3 414.1,598.4 C414.6,598 415.8,599.5 416.1,600.4 C417.8,604.8 418.9,609.6 420.1,614.3 C421.6,620.2 421.9,626.6 424.1,632.2 C425.3,635.2 427.8,637.7 430.1,640.2 C431.5,641.7 433.4,642.8 435,644.1" fill="none" stroke="#000" stroke-width="2.0"/><path d="M436,496.9 C434,502.2 431.8,507.5 430.1,512.8 C427.9,519.4 425.5,526 424.1,532.7 C422.2,541.9 420.1,551.4 420.1,560.6 C420.1,564.7 422.5,568.7 424.1,572.5 C425.8,576.6 427.5,581 430.1,584.5 C431.4,586.3 434,587.1 436,588.4" fill="none" stroke="#000" stroke-width="2.0"/><path d="M249,566.6 C251,568.5 253.1,570.4 255,572.5 C258.4,576.4 261.5,580.6 264.9,584.5 C268.7,588.6 275.6,591.6 276.9,596.4 C278.3,601.6 274.2,608.3 272.9,614.3 C271.6,620.3 267.4,627.6 268.9,632.2 C270,635.6 276.7,636.8 280.9,638.2 C284.6,639.4 289.4,638.3 292.8,640.2 C296.7,642.3 299.6,646.7 302.7,650.1 C306.9,654.6 311.2,659 314.7,664 C317.2,667.7 319.4,671.8 320.6,676 C322,680.5 322,685.4 322.6,690.1" fill="none" stroke="#000" stroke-width="2.0"/><path d="M410.2,690.1 C410.5,682.7 409.6,674.6 411.2,668 C411.6,666.3 414.3,665.3 416.1,665 C419.3,664.6 423,665 426.1,666 C428,666.7 430.7,668.1 431,670 C432.3,676.1 431,683.4 431,690.1" fill="none" stroke="#000" stroke-width="2.0"/><path d="M322.6,685 C323,691.6 322.1,698.6 323.6,704.9 C324.8,709.8 327.9,714.4 330.6,718.8 C333.5,723.7 336.6,728.8 340.5,732.7 C344.5,736.7 349.8,739.4 354.5,742.7 C358.4,745.4 362.6,747.8 366.4,750.6 C370.5,753.7 374.4,757.3 378.3,760.6 C382.3,763.9 386.1,767.4 390.3,770.5 C394.1,773.4 398.1,776.1 402.2,778.5 C406,780.7 410.2,782.5 414.1,784.5 C418.1,786.5 421.9,788.9 426.1,790.4 C428.9,791.5 432,791.8 435,792.4" fill="none" stroke="#000" stroke-width="2.0"/><path d="M364.4,685 C364.7,691.6 363.7,698.7 365.4,704.9 C367,710.6 370.7,716 374.4,720.8 C377.7,725.3 382.1,729 386.3,732.7 C388.1,734.3 390.6,735 392.3,736.7 C395.9,740.3 399,744.6 402.2,748.7 C405.7,753.2 409.1,757.8 412.2,762.6 C415,767.1 417.2,772.1 420.1,776.5 C422.5,780 424.9,783.9 428.1,786.5 C429.9,787.9 432.7,787.8 435,788.4" fill="none" stroke="#000" stroke-width="2.0"/><path d="M410.2,685 C410.5,694.9 410.4,704.9 411.2,714.8 C411.8,723.5 412.3,732.3 414.1,740.7 C415.2,745.6 418,750 420.1,754.6 C422,758.7 423.9,762.7 426.1,766.6 C427.6,769.3 429.2,773.7 431,774.5 C432.2,775 433.7,771.9 435,770.5" fill="none" stroke="#000" stroke-width="2.0"/><path d="M426.1,740.7 C425.9,739.1 428.4,736.5 430.1,735.7 C431.1,735.2 433.6,735.7 434,736.7 C434.9,738.7 434.7,742.4 434,744.7 C433.7,745.7 431.9,747.1 431,746.7 C429.2,745.8 426.3,742.7 426.1,740.7 Z" fill="none" stroke="#000" stroke-width="2.0"/><path d="M249,814.3 C251,815 253,816 255,816.3 C257.6,816.7 260.5,815.7 263,816.3 C265.8,817 268.2,819.1 270.9,820.3 C274.2,821.7 277.8,824.6 280.9,824.2 C283.7,823.9 286.6,820.7 288.8,818.3 C293.2,813.4 296.8,807.7 300.8,802.4 C304.7,797.1 308.6,791.7 312.7,786.5 C315.9,782.4 318.7,775.6 322.6,774.5 C326,773.6 330.4,779.1 334.6,780.5 C338.4,781.7 342.5,782.1 346.5,782.5 C350.5,782.8 354.5,781.9 358.4,782.5 C363.8,783.2 369.6,784.1 374.4,786.5 C378.9,788.7 382,793.5 386.3,796.4 C390,798.8 394.1,801 398.2,802.4 C402,803.6 406.4,803 410.2,804.4 C413.7,805.7 416.9,808.1 420.1,810.3 C423.6,812.8 426.7,815.6 430.1,818.3 C431.7,819.6 433.4,820.9 435,822.3" fill="none" stroke="#000" stroke-width="2.0"/><path d="M249,844.1 C251,844.1 253,844 255,844.1 C257.7,844.3 260.7,844 263,845.1 C264.7,846 265.9,848.3 266.9,850.1 C268.6,853.2 269,858.2 270.9,860.1 C271.7,860.8 273.7,857.6 274.9,858.1 C277.1,858.9 278.8,862.2 280.9,864 C282.1,865.1 283.7,867.7 284.8,867 C288.3,865 291.2,859.4 294.8,856.1 C297.2,853.8 300,851.9 302.7,850.1 C306,848 310.2,846.9 312.7,844.1 C316.8,839.6 318.7,833 322.6,828.2 C324.7,825.7 327.6,823.2 330.6,822.3 C334.2,821.2 338.7,823 342.5,822.3 C345.4,821.7 347.8,819.6 350.5,818.3 C353.8,816.6 357.1,813.3 360.4,813.3 C363.7,813.3 367.3,816.2 370.4,818.3 C374.6,821.2 378.2,825.1 382.3,828.2 C386.1,831.1 390,835.2 394.2,836.2 C397.3,836.9 400.9,834.2 404.2,833.2 C407.5,832.2 411.1,829.7 414.1,830.2 C417.1,830.7 419.4,834.3 422.1,836.2 C424.7,838 427.3,839.9 430.1,841.2 C431.6,841.9 433.4,841.8 435,842.2" fill="none" stroke="#000" stroke-width="2.0"/></g>
<g clip-path="url(#c11)"><g clip-path="url(#dg)"><clipPath id="dg"><rect x="509.1" y="489.2" width="351.9" height="395.4"/></clipPath><path d="M501.1,481.2 C559,416.5 811.1,416.5 869,481.2 C933.7,553.6 933.7,820.2 869,892.6 C811.1,957.3 559,957.3 501.1,892.6 C436.4,820.2 436.4,553.6 501.1,481.2 Z" fill="#ffd8d8"/><path d="M576.6,481.2 C622.9,470.3 702.1,470.3 747.6,481.2 C758.5,483.8 747.1,508.3 745.7,521.8 C744.5,532.5 743.2,543.6 739.7,553.6 C737.2,560.8 733.1,568.2 727.8,573.5 C721.2,580.1 712.4,585.2 703.9,589.4 C696.5,593.1 687.8,594.2 680,597.4 C674.5,599.6 668.8,601.8 664.1,605.3 C658.2,609.8 654.2,616.9 648.2,621.2 C642.3,625.5 634.9,631.2 628.3,631.2 C621.7,631.2 614.9,624.8 608.4,621.2 C601.7,617.5 593.8,614.5 588.5,609.3 C584.5,605.3 582,599.1 580.6,593.4 C578,583.1 577.3,572.2 576.6,561.6 C575.7,548.3 575.8,535 575.8,521.8 C575.8,508.3 565.6,483.8 576.6,481.2 Z" fill="#ffffff"/><path d="M520.9,481.2 C521.4,478.9 529.2,478.9 529.7,481.2 C531.5,489.8 528.8,503 528.1,513.8 C527.5,521.8 526.5,537.7 525.7,537.7 C524.8,537.7 523.6,521.8 522.9,513.8 C522,503 519.1,489.8 520.9,481.2 Z" fill="#ffffff"/><path d="M648.2,892.6 C641.2,891.7 658.8,878.8 664.1,871.8 C668.1,866.5 672.5,861.5 676,855.9 C681.8,846.9 686.2,837 692,828.1 C698.1,818.5 705.4,809.6 711.8,800.2 C717.3,792.4 723,784.6 727.8,776.4 C733.6,766.1 737.8,754.8 743.7,744.5 C748.4,736.2 754.8,728.9 759.6,720.7 C765.4,710.4 771.1,699.8 775.5,688.8 C781.7,673.3 785.8,656.9 791.4,641.1 C793.8,634.4 795.9,627.4 799.4,621.2 C802.5,615.5 806.4,609.4 811.3,605.3 C814.4,602.7 819.5,600.7 823.2,601.3 C827.5,602 831.4,606.3 835.2,609.3 C838.1,611.6 840.5,617.2 843.1,617.2 C845.8,617.2 847.7,610.3 851.1,609.3 C856.4,607.7 864.1,608.2 869,609.3 C870.1,609.5 869,611.9 869,613.3 C869,678.2 873.3,745.7 869,808.2 C868.6,813.3 857.9,812 855,816.1 C850.6,822.6 849.7,832 847.1,840 C844.4,848 841,855.7 839.1,863.9 C837,873.3 843.7,891.3 835.2,892.6 C780.1,900.9 698.2,898.7 648.2,892.6 Z" fill="#ffffff"/><path d="M501.1,573.5 C501.6,566.7 514.2,566.8 520.9,565.5 C524.7,564.8 529.1,566.3 532.8,567.5 C537,568.9 541.6,570.6 544.8,573.5 C549.5,577.9 553,583.9 556.7,589.4 C561,595.8 563.9,603.2 568.6,609.3 C573.2,615.2 578.7,620.6 584.6,625.2 C590.6,629.9 597.8,633.2 604.4,637.1 C611.1,641.1 617.3,645.9 624.3,649.1 C631.9,652.5 640,655.3 648.2,657 C656,658.6 664.1,659 672.1,659 C680,659 688,658.1 695.9,657 C702.6,656.1 709.3,654.8 715.8,653 C719.3,652.1 724.2,647.5 725.8,649.1 C728.1,651.4 728.2,659.7 727.8,665 C726.9,674.3 723.8,683.5 721.8,692.8 C719.8,702.1 718.9,711.8 715.8,720.7 C712.9,729 708.4,736.9 703.9,744.5 C699.1,752.8 692.7,760.1 688,768.4 C682.1,778.7 677.4,789.6 672.1,800.2 C666.8,810.8 662.8,822.4 656.2,832 C650.9,839.7 643.8,846.7 636.3,851.9 C630.5,855.9 623.3,858.3 616.4,859.9 C608.7,861.6 600.3,862.6 592.5,861.9 C587,861.3 581.9,858 576.6,855.9 C569.9,853.3 563.2,850.8 556.7,848 C551.3,845.5 546.1,842.6 540.8,840 C535.5,837.3 530.5,833.7 524.9,832 C517.3,829.8 501.8,835.5 501.1,828.1 C493.9,749.3 495,654.2 501.1,573.5 Z" fill="#ffa8a8"/><path d="M841.1,517.8 C842,515 847.9,513.8 851.1,513.8 C853.2,513.8 856.4,515.7 857,517.8 C858.4,522.4 858.3,528.8 857,533.7 C856.3,536.8 853.5,541 851.1,541.7 C848.9,542.3 844.1,540.1 843.1,537.7 C840.8,532.2 839.4,523 841.1,517.8 Z" fill="#ffa8a8"/><path d="M501.1,583.3 C501.7,577.2 514.7,582.3 521.3,583.3 C525.4,583.9 530,585.3 532.9,587.9 C536.9,591.5 538.7,597.6 542.3,601.9 C546.4,606.9 551.4,611.4 556.2,615.9 C561.5,620.7 567.1,625.2 572.5,629.8 C578,634.5 583.4,639.2 588.8,643.8 C594.3,648.5 599.5,653.4 605.1,657.8 C610.4,661.9 615.6,666.3 621.4,669.4 C627.3,672.6 634,674.4 640.3,676.9 C646.9,679.5 653.4,682.3 660.1,684.8 C667.3,687.6 674.9,689.5 681.9,692.7 C687.6,695.3 694.6,697.5 698.2,702 C701.6,706.1 703.9,713.3 702.9,718.3 C701.6,724.9 696.2,731.8 691.3,736.9 C687.3,741.1 680.6,742.4 676.1,746.3 C671.5,750.3 667.3,755.2 664,760.5 C659.3,767.9 656.9,776.8 652.1,784.2 C647.6,791.4 642.3,798.3 636.3,804.2 C630.3,810.2 623.8,816.7 616.3,820.1 C609.2,823.3 600.5,824 592.5,824 C584.6,824 576,822.8 568.6,820.1 C561.5,817.5 555.2,812.5 548.8,808.2 C543.3,804.5 538.3,800.2 532.9,796.3 C529,793.5 525.3,789.9 520.8,788.2 C514.7,785.8 501.7,790.4 501.1,784.2 C495.1,722.1 495,644.1 501.1,583.3 Z" fill="#ff8a8a"/><path d="M501.1,599.6 C501.9,592.8 516.8,595.8 523.6,597.3 C528.1,598.2 532.2,602.8 535.3,606.6 C539.2,611.3 540.8,617.9 544.6,622.9 C548.6,628 553.7,632.4 558.6,636.8 C563.8,641.7 569.4,646.1 574.8,650.8 C580.3,655.5 585.5,660.4 591.1,664.8 C596.4,668.9 601.7,673 607.4,676.4 C613.4,680 620,682.4 626.1,685.7 C634,690.1 641.4,695.3 649.4,699.7 C655.4,703.1 662.8,704.7 668,709 C672.1,712.5 675.7,717.8 677.3,723 C679.6,730.2 680.4,738.7 679.6,746.3 C678.8,754.2 675.9,762.2 672.6,769.5 C670.4,774.6 666.9,779.3 663.3,783.5 C657.6,790.2 651.9,797.4 644.7,802.1 C637.9,806.7 629.5,809.6 621.4,811.5 C612.4,813.5 602.7,814.2 593.5,813.8 C583.3,813.4 573,811.7 563.2,809.1 C555.2,807 547.5,803.4 539.9,799.8 C532.7,796.4 526.2,791.6 519,788.2 C513.2,785.4 501.7,787.2 501.1,781.2 C495.7,724.3 494.4,654.1 501.1,599.6 Z" fill="#ff7272"/><path d="M515.5,611.2 C517,609.5 523.3,613.4 526,615.9 C529.9,619.6 532,625.3 535.3,629.8 C539.8,636.2 544.2,642.6 549.2,648.5 C553.5,653.5 558.2,658.2 563.2,662.4 C568.3,666.7 574.3,670 579.5,674.1 C585.1,678.5 590.2,683.6 595.8,688.1 C601,692.2 606.5,696 612.1,699.7 C618.2,703.8 624.9,707 630.7,711.3 C637.3,716.3 644.6,721.2 649.4,727.6 C653.2,732.8 655.5,739.9 656.3,746.3 C657.1,752.3 656,759.1 654,764.9 C652.1,770.7 649.1,777.1 644.7,781.2 C639.8,785.7 632.7,788.8 626.1,790.5 C617.2,792.7 607.4,792.8 598.1,792.8 C590.4,792.8 582.2,792.7 574.8,790.5 C569,788.8 563.8,784.6 558.6,781.2 C552.9,777.6 547.4,773.8 542.3,769.5 C538.1,766 534.5,761.8 530.6,757.9 C526.7,754 521.5,750.9 519,746.3 C516,740.8 514.8,734 514.3,727.6 C512.9,710.7 513.2,693.5 513.1,676.4 C513.1,660.9 513.3,645.4 513.8,629.8 C514.1,623.6 513,614.1 515.5,611.2 Z" fill="#ff5a5a"/><path d="M521.3,625.2 C522.6,624.2 526.1,631.3 528.3,634.5 C532.3,640.6 535.6,647.2 539.9,653.1 C544.1,658.9 548.7,664.6 553.9,669.4 C558,673.2 563.4,675.4 567.9,678.7 C572.7,682.4 577.2,686.5 581.8,690.4 C587.3,695 592.7,699.7 598.1,704.4 C602.8,708.3 607.3,712.3 612.1,716 C617.4,720.1 623.5,723.2 628.4,727.6 C632.8,731.7 637.7,736.3 640,741.6 C642.4,747.1 643.2,754.2 642.4,760.2 C641.6,765.9 639.4,772.9 635.4,776.5 C630.9,780.6 623.2,782.4 616.8,783.5 C609.2,784.8 601,784.8 593.5,783.5 C587,782.4 580.6,779.6 574.8,776.5 C569,773.4 563.6,769.2 558.6,764.9 C553.5,760.7 549.4,755.3 544.6,750.9 C540.9,747.6 536.4,745.1 532.9,741.6 C530.2,738.9 528,735.6 526,732.3 C524.1,729.4 521.7,726.4 521.3,723 C519.4,707.8 519.4,691.9 519,676.4 C518.6,664.8 518.4,653.1 519,641.5 C519.2,636 519.5,626.6 521.3,625.2 Z" fill="#ff4242"/><path d="M526,639.2 C526.5,637.6 528.9,645.5 530.6,648.5 C534.3,654.8 537.8,661.4 542.3,667.1 C546.3,672.2 551.4,676.6 556.2,681.1 C560.7,685.2 565.5,688.8 570.2,692.7 C574.8,696.6 579.7,700.3 584.2,704.4 C589,708.8 593.3,713.9 598.1,718.3 C601.8,721.7 606.1,724.3 609.8,727.6 C614.6,732.1 619.8,736.4 623.7,741.6 C626.8,745.7 630.3,750.8 630.7,755.6 C631.1,760.1 629.1,766.2 626.1,769.5 C622.9,773.1 617.1,775.5 612.1,776.5 C606.2,777.8 599.4,777.8 593.5,776.5 C588.5,775.5 583.6,772.6 579.5,769.5 C574.3,765.6 569.8,760.6 565.5,755.6 C560.5,749.7 557,742.4 551.6,736.9 C547.7,733 542.4,730.5 537.6,727.6 C534.6,725.9 529.5,725.8 528.3,723 C525.6,716.5 526.4,707.5 526,699.7 C525.3,688.1 524.8,676.4 524.8,664.8 C524.8,656.2 524.6,643 526,639.2 Z" fill="#ff2a2a"/><path d="M507,730.6 C507.7,729.9 508.4,729.4 509,728.6 C510.4,726.7 511.7,722.1 513,722.7 C515,723.5 516.6,729.6 518.9,732.6 C521.2,735.5 525.3,737.3 526.9,740.6 C529.2,745.3 529,751.3 530.9,756.5 C532.3,760.6 534.4,764.7 536.8,768.4 C539.1,772 541.4,776.1 544.8,778.3 C549.3,781.4 555.2,783.6 560.7,784.3 C565.8,785 571.3,782.8 576.6,782.3 C583.2,781.7 589.9,781.6 596.5,781.1 C603.1,780.7 609.8,780.6 616.4,779.5 C623.1,778.4 629.9,776.8 636.3,774.4 C643.2,771.7 650,768.4 656.2,764.4 C663.2,759.8 669.7,754.2 676,748.5 C683,742.2 689.6,735.5 695.9,728.6 C702.9,721 709.6,713 715.8,704.8 C721.5,697.1 726.3,688.7 731.7,680.9 C738.2,671.5 745,662.3 751.6,653 C758.2,643.8 764.9,634.5 771.5,625.2 C778.1,615.9 784.6,606.5 791.4,597.4 C796.5,590.6 801.7,583.8 807.3,577.5 C812.3,571.9 817.4,566.3 823.2,561.6 C828,557.6 834.1,555.2 839.1,551.6 C843.3,548.6 846.9,544.8 851.1,541.7 C854.9,538.8 859,536.4 863,533.7" fill="none" stroke="#808080" stroke-width="3.6"/><path d="M507,776.4 C507.7,775.7 508.4,775.1 509,774.4 C510.4,772.5 511.6,768.1 513,768.4 C514.9,768.8 517.1,773.6 518.9,776.4 C522.4,781.6 526.3,786.6 528.9,792.3 C531.7,798.5 531.8,806.1 534.8,812.2 C537.1,816.7 540.6,821.3 544.8,824.1 C549.2,827 555.3,828.9 560.7,829.3 C565.9,829.6 571.3,827.1 576.6,826.5 C583.2,825.7 589.9,825.9 596.5,824.9 C603.2,823.8 609.9,822.1 616.4,820.1 C621.8,818.5 627.2,816.7 632.3,814.1 C637.9,811.4 643,807.7 648.2,804.2 C653.7,800.4 659.1,796.6 664.1,792.3 C669.7,787.3 675,781.9 680,776.4 C685.7,770 690.6,763.1 695.9,756.5 C701.2,749.8 706.9,743.4 711.8,736.6 C717.5,728.8 722.4,720.7 727.8,712.7 C733.1,704.8 738.4,696.8 743.7,688.8 C749,680.9 754.3,672.9 759.6,665 C764.9,657 770.2,649.1 775.5,641.1 C780.8,633.2 786.1,625.2 791.4,617.2 C796.7,609.3 801.5,601 807.3,593.4 C812.1,587 817.1,580.4 823.2,575.5 C827.7,571.8 833.8,570.2 839.1,567.5 C843.1,565.5 847.5,564.2 851.1,561.6 C855.5,558.2 859,553.6 863,549.6" fill="none" stroke="#000" stroke-width="4.0"/></g></g>
<g clip-path="url(#c12)"><g clip-path="url(#dh)"><clipPath id="dh"><rect x="934.7" y="489.2" width="351.9" height="395.4"/></clipPath><path d="M926.7,481.2 C984.6,416.5 1236.7,416.5 1294.6,481.2 C1359.3,553.6 1359.3,820.2 1294.6,892.6 C1236.7,957.3 984.6,957.3 926.7,892.6 C862,820.2 862,553.6 926.7,481.2 Z" fill="#ffd8d8"/><path d="M940.9,481.2 C963.1,474.8 1004.1,473.4 1026.5,481.2 C1035.3,484.3 1031,503.2 1034.4,513.8 C1037,522 1042.1,529.5 1044.4,537.7 C1046.1,544 1047.6,551.5 1046.4,557.6 C1045.6,561.4 1041.5,564.7 1038.4,567.5 C1033.5,572 1027.7,579.1 1022.5,579.5 C1018.4,579.7 1015.1,571.5 1010.6,569.5 C1005.8,567.5 999,570 994.6,567.5 C989.7,564.7 986.5,558.4 982.7,553.6 C978.6,548.4 974.5,543.1 970.8,537.7 C967.2,532.5 965.4,525.2 960.8,521.8 C957.4,519.2 950.1,522.3 946.9,519.8 C943.5,517 941.7,510.8 940.9,505.9 C939.7,497.9 934.6,483 940.9,481.2 Z" fill="#ffffff"/><path d="M926.7,792.3 C928.1,786.5 940.1,802.9 946.9,808.2 C952.2,812.2 957.3,816.4 962.8,820.1 C969.2,824.4 975.6,829.4 982.7,832 C991.5,835.3 1001.5,838.7 1010.6,838 C1018.8,837.4 1026.6,831.6 1034.4,828.1 C1039.8,825.6 1045.2,823 1050.3,820.1 C1057.1,816.4 1063.9,812.6 1070.2,808.2 C1077.2,803.3 1083.2,797.3 1090.1,792.3 C1097.8,786.6 1105.7,781.2 1114,776.4 C1121.6,771.9 1129.7,767.8 1137.8,764.4 C1145.6,761.2 1153.6,758.5 1161.7,756.5 C1169.5,754.5 1177.8,754.4 1185.6,752.5 C1193.7,750.5 1201.3,746.3 1209.4,744.5 C1213.3,743.7 1220.8,741.3 1221.4,744.5 C1224.1,759.8 1220.9,781.7 1219.4,800.2 C1218.3,813.6 1215.1,826.7 1213.4,840 C1211.2,857.5 1222.6,889.8 1207.5,892.6 C1127,907.4 995.6,917.2 926.7,892.6 C902.1,883.8 921.3,814.7 926.7,792.3 Z" fill="#ffffff"/><path d="M926.7,557.6 C927.5,551.7 942.9,555.6 946.9,559.6 C952.3,564.9 952.1,576.8 954.9,585.4 C957.4,593.4 958.6,602.3 962.8,609.3 C966.6,615.5 972.7,621 978.7,625.2 C985.9,630.2 994.5,633.4 1002.6,637.1 C1010.4,640.7 1018.2,644.7 1026.5,647.1 C1034.2,649.3 1042.3,650.7 1050.3,651.1 C1058.2,651.4 1066.4,650.7 1074.2,649.1 C1082.3,647.4 1090.3,644.3 1098.1,641.1 C1106.3,637.7 1114.5,633.9 1121.9,629.2 C1129.1,624.6 1135.5,618.9 1141.8,613.3 C1148.8,607 1155.4,600.3 1161.7,593.4 C1167.4,587.1 1173.1,580.6 1177.6,573.5 C1182.4,566 1186.4,557.9 1189.6,549.6 C1193,540.7 1196.4,531.3 1197.5,521.8 C1199.1,508.5 1188,485.2 1197.5,481.2 C1220.3,471.7 1286.8,456.6 1294.6,481.2 C1319.2,559 1298.9,691.7 1294.6,788.3 C1294.4,792.7 1283.6,787.6 1281,784.3 C1276.4,778.4 1275.4,768.5 1273.1,760.4 C1270.1,749.9 1268.1,739.1 1265.1,728.6 C1262.8,720.6 1259.8,712.7 1257.2,704.8 C1254.5,696.8 1253.4,687.9 1249.2,680.9 C1245.5,674.6 1239.4,667.3 1233.3,665 C1228.8,663.3 1222.2,666.6 1217.4,669 C1211.6,671.9 1207.1,677.4 1201.5,680.9 C1196.5,684 1190.6,685.7 1185.6,688.8 C1180,692.3 1175,696.8 1169.7,700.8 C1164.4,704.8 1159.1,708.7 1153.8,712.7 C1148.4,716.7 1143.1,720.7 1137.8,724.6 C1132.5,728.6 1127.2,732.6 1121.9,736.6 C1116.6,740.6 1111.3,744.5 1106,748.5 C1100.7,752.5 1095.4,756.5 1090.1,760.4 C1084.8,764.4 1079.7,768.7 1074.2,772.4 C1067.8,776.7 1060.9,780.3 1054.3,784.3 C1047.7,788.3 1041.4,793.1 1034.4,796.2 C1026.8,799.7 1018.7,802.7 1010.6,804.2 C1004.1,805.4 997,805.5 990.7,804.2 C983.8,802.8 977,799.7 970.8,796.2 C965,793 959.5,788.9 954.9,784.3 C950.2,779.7 945.1,774.6 942.9,768.4 C935.7,748 928.4,726.4 926.7,704.8 C923,656.2 920.8,600.1 926.7,557.6 Z" fill="#ffa8a8"/><path d="M939,605.3 C939.3,601.7 948.3,606.3 950.9,609.3 C956.3,615.6 957.4,626.4 962.8,633.2 C968,639.6 975.4,644.8 982.7,649.1 C991.4,654.1 1001.1,657.4 1010.6,661 C1018.4,664 1026.3,667.6 1034.4,669 C1042.2,670.2 1050.4,669.6 1058.3,669 C1066.3,668.3 1074.4,666.9 1082.2,665 C1090.3,662.9 1098.6,660.7 1106,657 C1114.5,652.8 1122.5,647.1 1129.9,641.1 C1137.1,635.2 1143.1,627.8 1149.8,621.2 C1156.4,614.6 1163.8,608.6 1169.7,601.3 C1175.7,594 1180.3,585.4 1185.6,577.5 C1190.9,569.5 1195.9,561.3 1201.5,553.6 C1206.5,546.7 1211.4,539.7 1217.4,533.7 C1222,529.1 1227.7,525.3 1233.3,521.8 C1238.3,518.6 1243.9,516.5 1249.2,513.8 C1254.5,511.2 1260,505.9 1265.1,505.9 C1269.3,505.9 1273.4,510.8 1277.1,513.8 C1283.2,518.8 1289.6,524.1 1294.6,529.7 C1295.4,530.7 1294.6,532.4 1294.6,533.7 C1294.6,606.6 1298.6,694.8 1294.6,752.5 C1294.1,759.7 1284.3,737.1 1281,728.6 C1277.1,718.5 1276.1,707.3 1273.1,696.8 C1270.8,688.7 1269.3,679.9 1265.1,672.9 C1261.4,666.7 1255.1,661.5 1249.2,657 C1244.5,653.5 1238.9,650.5 1233.3,649.1 C1228.3,647.8 1222.4,647.8 1217.4,649.1 C1211.8,650.5 1206.8,654.4 1201.5,657 C1196.2,659.7 1190.9,662.3 1185.6,665 C1180.3,667.6 1175,670.3 1169.7,672.9 C1164.4,675.6 1158.4,677.4 1153.8,680.9 C1147.8,685.3 1143.1,691.5 1137.8,696.8 C1132.5,702.1 1127.6,707.8 1121.9,712.7 C1117,717.1 1111.3,720.7 1106,724.6 C1100.7,728.6 1095.4,732.6 1090.1,736.6 C1084.8,740.6 1079.7,744.8 1074.2,748.5 C1067.8,752.8 1061.2,757 1054.3,760.4 C1047.9,763.6 1041.3,766.5 1034.4,768.4 C1026.7,770.5 1018.5,772.4 1010.6,772.4 C1003.9,772.4 997.1,770.3 990.7,768.4 C983.9,766.4 977.3,763.3 970.8,760.4 C965.4,758 959.6,755.9 954.9,752.5 C950.3,749.3 945.3,745.4 942.9,740.6 C940,734.8 939.2,727.4 939,720.7 C937.8,682.3 935.4,638.8 939,605.3 Z" fill="#ff8a8a"/><path d="M950.8,607.5 C951.2,605.4 952.5,618.6 954.3,623.8 C956,628.7 958.4,633.5 961.3,637.8 C964.6,642.8 968.8,647.3 972.9,651.8 C977.4,656.6 981.7,661.7 986.9,665.7 C992.6,670.2 998.9,674.5 1005.5,677.4 C1011.3,679.9 1017.9,680.8 1024.1,682 C1030.3,683.2 1036.5,683.8 1042.8,684.4 C1048.9,684.9 1055.2,685.5 1061.4,685.5 C1067.6,685.5 1073.9,685.3 1080,684.4 C1086.3,683.4 1092.7,681.9 1098.6,679.7 C1105.1,677.3 1111.2,673.7 1117.3,670.4 C1120.3,668.8 1123.2,667 1125.9,665 C1132.7,659.9 1139.5,654.7 1145.8,649.1 C1152.8,642.8 1159.4,636.1 1165.7,629.2 C1172.6,621.5 1178.9,613.3 1185.6,605.3 C1192.2,597.4 1198.5,589.1 1205.5,581.4 C1211.8,574.5 1218.4,567.8 1225.4,561.6 C1231.7,555.9 1238.5,550.7 1245.2,545.6 C1251.7,540.8 1258.7,532.5 1265.1,531.7 C1269.3,531.2 1275.2,537.2 1277.1,541.7 C1280.5,549.8 1281,560.2 1281,569.5 C1281,577.5 1280.7,586.8 1277.1,593.4 C1274.1,598.8 1266.7,601.6 1261.2,605.3 C1254.7,609.6 1247.6,612.8 1241.3,617.2 C1234.3,622.1 1228,627.8 1221.4,633.2 C1214.7,638.5 1208.4,644.2 1201.5,649.1 C1195.2,653.5 1188.2,657 1181.6,661 C1175,665 1168,668.5 1161.7,672.9 C1154.8,677.8 1147.5,682.6 1141.8,688.8 C1134.2,697.3 1128.5,707.5 1121.9,716.9 C1118.7,721.5 1116.8,727.5 1112.6,730.9 C1107.5,735.2 1100.4,737.7 1094,740.2 C1086.5,743.2 1078.6,745.6 1070.7,747.2 C1063.1,748.7 1055.2,749.2 1047.4,749.5 C1039.7,749.9 1031.8,750.3 1024.1,749.5 C1016.3,748.8 1008.4,747 1000.8,744.9 C994.5,743.1 988,741 982.2,737.9 C976.4,734.8 970.1,731.2 965.9,726.3 C961.6,721.1 958.4,714.2 956.6,707.6 C954.2,698.7 954,689 953.1,679.7 C952,668.1 951.2,656.4 950.8,644.8 C950.4,632.4 950,612.3 950.8,607.5 Z" fill="#ff7272"/><path d="M1000.8,712.3 C1001.1,710 1005.3,707.6 1007.8,707.6 C1011.6,707.6 1016.4,709.7 1019.5,712.3 C1023,715.2 1026.2,719.7 1027.6,723.9 C1028.6,726.7 1028.3,731.5 1026.5,733.2 C1024.1,735.4 1018.1,736.7 1014.8,735.6 C1011.1,734.4 1007.7,729.9 1005.5,726.3 C1003,722.2 1000.4,716.2 1000.8,712.3 Z" fill="#ff5a5a"/><path d="M1209.4,589.4 C1214.4,582.5 1219.1,575.1 1225.4,569.5 C1232.4,563.2 1242.2,560 1249.2,553.6 C1256.8,546.7 1262.8,532.5 1269.1,529.7 C1272,528.5 1276.1,537.1 1277.1,541.7 C1279.4,553 1280,565.8 1279.1,577.5 C1278.6,583 1276.6,589.5 1273.1,593.4 C1269.4,597.4 1262.5,598.7 1257.2,601.3 C1251.9,604 1246.6,606.6 1241.3,609.3 C1233.3,613.3 1225.6,617.9 1217.4,621.2 C1212.3,623.2 1205.7,626.6 1201.5,625.2 C1197.8,624 1192.6,617.2 1193.5,613.3 C1195.3,605.3 1203.8,597.1 1209.4,589.4 Z" fill="#ff5a5a"/><path d="M933,740.6 C934.3,733.9 934.4,725.8 937,720.7 C937.7,719.2 941.4,719.7 942.9,720.7 C945.4,722.3 947.8,725.6 948.9,728.6 C951.7,736.2 953,744.5 954.9,752.5 C957,761.7 957.4,771.8 960.8,780.3 C962.7,785 966.7,789.4 970.8,792.3 C975.3,795.4 981.2,797.5 986.7,798.2 C991.8,798.9 997.4,797.2 1002.6,796.2 C1008,795.2 1013.5,794.3 1018.5,792.3 C1026.7,789 1034.6,784.6 1042.4,780.3 C1050.5,775.9 1058.4,771.3 1066.2,766.4 C1074.3,761.3 1082.6,756.4 1090.1,750.5 C1098.5,743.8 1106.2,736.1 1114,728.6 C1122.1,720.8 1130.2,713 1137.8,704.8 C1146.1,695.8 1153.8,686.2 1161.7,676.9 C1169.7,667.6 1177.6,658.3 1185.6,649.1 C1193.5,639.8 1200.8,629.8 1209.4,621.2 C1216.7,613.9 1225,607.5 1233.3,601.3 C1240.9,595.6 1249.2,590.6 1257.2,585.4 C1262.4,582 1268.1,579.2 1273.1,575.5 C1276.1,573.2 1277.9,569.1 1281,567.5 C1283.2,566.4 1286.3,567.5 1289,567.5" fill="none" stroke="#808080" stroke-width="3.6"/><path d="M933,760.4 C934.3,755.8 934.7,749.3 937,746.5 C938,745.3 941.7,747 942.9,748.5 C945.6,751.7 946.9,756.5 948.9,760.4 C950.2,763.1 952,765.6 952.9,768.4 C956,778.2 956.7,789.1 960.8,798.2 C962.7,802.4 966.9,805.8 970.8,808.2 C975.5,811.1 981.2,813.7 986.7,814.1 C993.2,814.7 1000.2,813.1 1006.6,811.4 C1012.1,809.8 1017.1,806.5 1022.5,804.2 C1029.1,801.4 1036,799.4 1042.4,796.2 C1049.3,792.8 1055.8,788.5 1062.3,784.3 C1069,779.9 1075.6,775.1 1082.2,770.4 C1090.2,764.5 1098.6,759 1106,752.5 C1114.5,745.1 1121.9,736.6 1129.9,728.6 C1137.8,720.7 1145.6,712.5 1153.8,704.8 C1161.5,697.3 1169.3,689.8 1177.6,682.9 C1185.2,676.5 1194,671.5 1201.5,665 C1208.6,658.9 1214.4,651.3 1221.4,645.1 C1226.3,640.7 1231.5,635.6 1237.3,633.2 C1240.8,631.7 1245.5,632.2 1249.2,633.2 C1253.4,634.2 1257.8,636.4 1261.2,639.1 C1264.4,641.7 1267.8,645.1 1269.1,649.1 C1273.1,661.7 1273.3,676 1277.1,688.8 C1278.6,693.9 1281.8,699 1285,702.8 C1285.8,703.7 1287.7,702.8 1289,702.8" fill="none" stroke="#000" stroke-width="4.0"/></g></g>
<g clip-path="url(#c13)"><g clip-path="url(#di)"><clipPath id="di"><rect x="1360.3" y="489.2" width="351.9" height="395.4"/></clipPath><path d="M1352.3,481.2 C1410.2,416.5 1662.3,416.5 1720.2,481.2 C1784.9,553.6 1784.9,820.2 1720.2,892.6 C1662.3,957.3 1410.2,957.3 1352.3,892.6 C1287.6,820.2 1287.6,553.6 1352.3,481.2 Z" fill="#ffd8d8"/><path d="M1367.9,481.2 C1387.7,475.8 1427.6,472.4 1443.5,481.2 C1452.1,485.9 1442.3,508.3 1441.5,521.8 C1440.9,532.4 1440.8,543.1 1439.5,553.6 C1438.9,559 1438,564.9 1435.6,569.5 C1434,572.4 1430.3,575.4 1427.6,576.3 C1426.3,576.7 1424.4,572.6 1423.6,573.5 C1421.7,575.7 1421.9,582.1 1419.6,585.4 C1417.9,588 1414.3,591 1411.7,591 C1409,591 1406.2,587.5 1403.7,585.4 C1400.9,583 1397.8,580.5 1395.8,577.5 C1392.5,572.6 1390,567.1 1387.8,561.6 C1385.3,555.1 1383.4,548.4 1381.9,541.7 C1380.7,536.5 1381.3,530.7 1379.9,525.8 C1379.3,524 1377.1,523.2 1375.9,521.8 C1373.8,519.2 1371.1,516.8 1369.9,513.8 C1368.5,510.2 1368.2,505.9 1367.9,501.9 C1367.5,495 1362.5,482.7 1367.9,481.2 Z" fill="#ffffff"/><path d="M1391,481.2 C1392.8,477 1407.8,476.8 1409.3,481.2 C1413.3,493 1408.5,513.6 1407.7,529.7 C1407.3,537.7 1407.7,546.2 1405.7,553.6 C1405,556.3 1401.4,560.5 1399.8,560 C1397.5,559.2 1394.6,553.4 1393.8,549.6 C1391.9,540.7 1392.2,531.1 1391.8,521.8 C1391.2,508.3 1387,490.5 1391,481.2 Z" fill="#ffd8d8"/><path d="M1352.3,708.7 C1352.5,704.8 1360.5,704.1 1364,704.8 C1367.1,705.4 1369.3,710.1 1371.9,712.7 C1377.2,718 1381.8,724.4 1387.8,728.6 C1395,733.7 1403.3,739.2 1411.7,740.6 C1419.3,741.8 1427.8,738.5 1435.6,736.6 C1443.7,734.5 1451.3,730.6 1459.4,728.6 C1467.2,726.7 1475.3,725.3 1483.3,724.6 C1491.2,724 1499.3,723.9 1507.2,724.6 C1513.9,725.3 1520.6,726.7 1527,728.6 C1533.9,730.7 1540.7,733.1 1546.9,736.6 C1552.7,739.8 1557.5,744.5 1562.8,748.5 C1568.1,752.5 1574.6,755.5 1578.8,760.4 C1582.5,764.8 1585,770.7 1586.7,776.4 C1589,784 1590.7,792.2 1590.7,800.2 C1590.7,813.4 1588.4,826.8 1586.7,840 C1585.7,848 1583.9,855.9 1582.7,863.9 C1581.3,873.4 1587.5,891.5 1578.8,892.6 C1510.7,901.1 1394,926.4 1352.3,892.6 C1318.5,865.1 1348.7,767.4 1352.3,708.7 Z" fill="#ffffff"/><path d="M1515.1,481.2 C1572.4,469.9 1688.7,444.4 1720.2,481.2 C1757,524.2 1725.8,645.4 1720.2,720.7 C1719.8,726.5 1706.5,727 1702.1,724.6 C1696.5,721.7 1693.3,711.7 1690.1,704.8 C1686.7,697.2 1685.3,688.7 1682.2,680.9 C1680,675.4 1678.2,669 1674.2,665 C1670.2,661 1663.8,657.7 1658.3,657 C1653.2,656.4 1647.2,658.6 1642.4,661 C1636.6,663.9 1631.5,668.6 1626.5,672.9 C1620.9,677.9 1615.9,683.5 1610.6,688.8 C1605.3,694.1 1600.6,700.3 1594.7,704.8 C1590,708.3 1584.1,712.7 1578.8,712.7 C1573.4,712.7 1567.5,708.3 1562.8,704.8 C1556.9,700.3 1552.9,693.3 1546.9,688.8 C1542.2,685.3 1536.5,683 1531,680.9 C1525.9,679 1520.4,678.1 1515.1,676.9 C1508.5,675.4 1501.9,673.6 1495.2,672.9 C1488.7,672.3 1481.8,673.7 1475.3,672.9 C1471.2,672.4 1466.1,671.6 1463.4,669 C1460.7,666.3 1457.7,659.3 1459.4,657 C1461.7,654 1470.1,654.5 1475.3,653 C1479.4,651.9 1483.5,650.9 1487.3,649.1 C1491.5,646.9 1495.9,644.4 1499.2,641.1 C1502.5,637.8 1505.8,633.7 1507.2,629.2 C1509.8,620.4 1510.3,610.7 1511.1,601.3 C1512.3,588.1 1512.6,574.8 1513.1,561.6 C1513.7,548.3 1514,535 1514.3,521.8 C1514.6,508.3 1503.8,483.4 1515.1,481.2 Z" fill="#ffa8a8"/><path d="M1471.4,481.2 C1475,474.8 1498.8,475.3 1503.2,481.2 C1508.8,488.8 1502,508.3 1501.2,521.8 C1500.7,529.7 1500.6,537.9 1499.2,545.6 C1498.6,549.1 1497.6,555 1495.2,555.6 C1492.3,556.3 1485.8,552.9 1483.3,549.6 C1479.2,544.3 1476.5,536.7 1475.3,529.7 C1472.6,513.9 1465.7,491 1471.4,481.2 Z" fill="#ffa8a8"/><path d="M1352.3,565.5 C1354.7,562.1 1366.4,569.5 1371.9,573.5 C1375.6,576.2 1378.1,581 1379.9,585.4 C1383.4,594.3 1383.6,604.8 1387.8,613.3 C1391.5,620.7 1399.4,626 1403.7,633.2 C1407.4,639.2 1409,646.4 1411.7,653 C1414.3,659.7 1419,666.1 1419.6,672.9 C1420.3,679.4 1418.4,687.3 1415.7,692.8 C1414.5,695.2 1410.2,697.3 1407.7,696.8 C1403.6,696 1398.7,692.4 1395.8,688.8 C1392.1,684.4 1390.5,678.2 1387.8,672.9 C1385.2,667.6 1382.5,662.3 1379.9,657 C1377.2,651.7 1374.3,646.5 1371.9,641.1 C1369,634.6 1367.1,627.6 1364,621.2 C1360.6,614.3 1353.8,608.6 1352.3,601.3 C1349.9,590 1348.2,571.4 1352.3,565.5 Z" fill="#ffa8a8"/><path d="M1562.8,649.1 C1565.1,639.2 1573.4,630.5 1578.8,621.2 C1584.1,611.9 1589.6,602.8 1594.7,593.4 C1600.2,582.9 1605,572 1610.6,561.6 C1615.6,552.1 1622.3,543.5 1626.5,533.7 C1630.3,524.9 1631.6,515.1 1634.4,505.9 C1636.9,497.6 1636.4,484.9 1642.4,481.2 C1649.7,476.7 1668.5,475.3 1674.2,481.2 C1681.7,488.8 1680.8,508.1 1682.2,521.8 C1683.5,534.9 1683.6,548.5 1682.2,561.6 C1681,572.3 1677.2,582.9 1674.2,593.4 C1671.9,601.4 1669.4,609.5 1666.3,617.2 C1664.1,622.7 1661.8,628.5 1658.3,633.2 C1653.9,639.1 1647.7,643.8 1642.4,649.1 C1637.1,654.4 1631.8,659.7 1626.5,665 C1621.2,670.3 1615.9,675.6 1610.6,680.9 C1605.3,686.2 1600.9,693.7 1594.7,696.8 C1590.3,699 1582.2,699.8 1578.8,696.8 C1572.9,691.8 1569.6,681.3 1566.8,672.9 C1564.3,665.4 1561.1,656.5 1562.8,649.1 Z" fill="#ff8a8a"/><path d="M1686.2,561.6 C1687.4,558.5 1695,556.3 1698.1,557.6 C1701.6,559 1705.2,565.1 1706,569.5 C1707.2,575.7 1706.6,584.2 1704.1,589.4 C1702.7,592.2 1696.5,594.6 1694.1,593.4 C1691.2,591.9 1689.2,585.7 1688.1,581.4 C1686.5,575.1 1684.1,566.4 1686.2,561.6 Z" fill="#ff8a8a"/><path d="M1586.7,641.1 C1585.9,633.6 1594.7,622.5 1598.6,613.3 C1602.6,604 1606.1,594.4 1610.6,585.4 C1615.3,575.9 1620.3,566.1 1626.5,557.6 C1630.9,551.6 1636.3,545.5 1642.4,541.7 C1646.9,538.9 1654.1,536.3 1658.3,537.7 C1662,538.9 1665.8,545.1 1666.3,549.6 C1667.1,558.4 1665,568.6 1662.3,577.5 C1659.7,585.9 1655.1,593.9 1650.4,601.3 C1645.8,608.5 1640.1,614.9 1634.4,621.2 C1629.5,626.8 1624.2,632.2 1618.5,637.1 C1613.6,641.5 1608.2,648.4 1602.6,649.1 C1597.6,649.7 1587.2,645.5 1586.7,641.1 Z" fill="#ff7272"/><path d="M1606.6,621.2 C1607.6,612.5 1613.8,602.2 1618.5,593.4 C1623,585 1628.5,576.9 1634.4,569.5 C1639.1,563.7 1645,555.4 1650.4,553.6 C1653,552.7 1657.8,558.2 1658.3,561.6 C1659.2,567.5 1656.8,575.3 1654.3,581.4 C1651.5,588.5 1647.1,595.3 1642.4,601.3 C1637.8,607.2 1631.8,611.9 1626.5,617.2 C1622.5,621.2 1618.5,628.4 1614.6,629.2 C1611.9,629.7 1606.2,624.5 1606.6,621.2 Z" fill="#ff5a5a"/><path d="M1626.5,597.4 C1627.5,590.9 1631,583.6 1634.4,577.5 C1636.3,574.3 1640.5,568.9 1642.4,569.5 C1644.5,570.2 1646.9,577.6 1646.4,581.4 C1645.6,586.9 1641.8,592.7 1638.4,597.4 C1636.5,600 1632.8,603.3 1630.5,603.3 C1628.8,603.3 1626.2,599.5 1626.5,597.4 Z" fill="#ff4242"/><path d="M1435.6,892.6 C1425.1,878.9 1433.7,844 1435.6,820.1 C1436.3,810.6 1438.8,800.1 1443.5,792.3 C1446.7,786.9 1453.6,783.3 1459.4,780.3 C1466.8,776.6 1475.2,774.4 1483.3,772.4 C1491.1,770.4 1499.3,768.4 1507.2,768.4 C1512.5,768.4 1519.2,769.2 1523.1,772.4 C1527.2,775.8 1529.9,782.6 1531,788.3 C1532.5,795.9 1532.4,804.5 1531,812.2 C1529.8,819 1526.2,825.7 1523.1,832 C1519.6,838.9 1515.1,845.3 1511.1,851.9 C1507.2,858.6 1502.6,864.9 1499.2,871.8 C1496,878.5 1497.3,890.6 1491.2,892.6 C1476.1,897.5 1443.6,903.1 1435.6,892.6 Z" fill="#dadaff"/><path d="M1352.3,892.6 C1345.9,884.1 1348.6,860.5 1352.3,848 C1353.8,843 1363.1,840 1367.9,840 C1371,840 1373.8,844.9 1375.9,848 C1379.1,852.8 1382.6,858.2 1383.8,863.9 C1385.9,873.1 1390.7,888.2 1385.8,892.6 C1380.2,897.8 1357.1,899 1352.3,892.6 Z" fill="#dadaff"/><path d="M1358,736.6 C1359.3,731.3 1359.7,723.4 1362,720.7 C1363,719.5 1366,723.3 1367.9,724.6 C1370.6,726.6 1374.3,727.9 1375.9,730.6 C1378.9,735.8 1379.9,742.5 1381.9,748.5 C1383.8,754.5 1384.4,761.5 1387.8,766.4 C1390.4,770.1 1395.5,772.2 1399.8,774.4 C1403.5,776.2 1407.7,778.3 1411.7,778.3 C1416.9,778.3 1422.3,775.9 1427.6,774.4 C1431.6,773.2 1435.6,771.8 1439.5,770.4 C1444.9,768.5 1450.2,766.5 1455.4,764.4 C1462.1,761.8 1468.7,759.1 1475.3,756.5 C1482,753.8 1488.7,751.4 1495.2,748.5 C1502,745.5 1508.5,741.9 1515.1,738.6 C1520.4,735.9 1526,733.7 1531,730.6 C1536.6,727.1 1541.8,722.9 1546.9,718.7 C1552.4,714.2 1557.7,709.6 1562.8,704.8 C1568.3,699.6 1573.8,694.4 1578.8,688.8 C1584.4,682.5 1589.4,675.6 1594.7,669 C1600,662.3 1605.3,655.7 1610.6,649.1 C1615.9,642.4 1621.2,635.8 1626.5,629.2 C1631.8,622.5 1637.1,615.9 1642.4,609.3 C1647.7,602.7 1653,596 1658.3,589.4 C1663.6,582.8 1668.6,575.9 1674.2,569.5 C1677.9,565.3 1682,561.4 1686.2,557.6 C1690,554.1 1693.7,549.8 1698.1,547.6 C1700.3,546.5 1703.7,546.7 1706,547.6 C1709,548.7 1711.3,551.6 1714,553.6" fill="none" stroke="#808080" stroke-width="3.6"/><path d="M1358,744.5 C1359.3,739.2 1359.5,732.5 1362,728.6 C1362.9,727.2 1366.3,727.7 1367.9,728.6 C1371,730.4 1374,733.4 1375.9,736.6 C1378.7,741.4 1379.8,747.2 1381.9,752.5 C1383.7,757.2 1384.8,762.7 1387.8,766.4 C1390.7,770 1395.5,772.2 1399.8,774.4 C1403.5,776.2 1407.6,778.2 1411.7,778.3 C1416.9,778.6 1422.6,777.3 1427.6,775.6 C1431.9,774 1435.3,770.1 1439.5,768.4 C1444.6,766.4 1450.3,766.1 1455.4,764.4 C1462.2,762.2 1468.7,759.1 1475.3,756.5 C1482,753.8 1488.6,751.3 1495.2,748.5 C1501.9,745.7 1508.6,742.9 1515.1,739.8 C1521.8,736.5 1528.4,732.9 1535,729.4 C1541.7,725.9 1548.3,722.4 1554.9,718.7 C1561.6,714.8 1568.6,711.4 1574.8,706.7 C1581.9,701.4 1588.5,695.3 1594.7,688.8 C1601.8,681.4 1607.9,672.9 1614.6,665 C1621.2,657 1627.8,649.1 1634.4,641.1 C1641.1,633.2 1647.4,624.9 1654.3,617.2 C1659.3,611.7 1664.6,606.1 1670.2,601.3 C1673.2,598.9 1677,595.4 1680.2,595.4 C1682.9,595.4 1686.2,598.8 1688.1,601.3 C1690.8,604.8 1692,609.4 1694.1,613.3 C1696,616.7 1697.4,621 1700.1,623.2 C1701.4,624.3 1704.1,623.5 1706,623.2 C1708.7,622.8 1711.3,621.9 1714,621.2" fill="none" stroke="#000" stroke-width="4.0"/></g></g>
<g clip-path="url(#c14)"><g clip-path="url(#dj)"><clipPath id="dj"><rect x="1785.9" y="489.2" width="351.9" height="395.4"/></clipPath><path d="M1875.5,481.2 C1858.4,484.9 1869.5,521.5 1867.5,541.7 C1866.2,554.9 1864.5,568.3 1865.5,581.4 C1866.5,594.8 1869.2,608.5 1873.5,621.2 C1877.2,632.4 1883.8,642.6 1889.4,653 C1893.1,659.8 1897.4,666.3 1901.3,672.9 C1905.3,679.6 1909.8,685.9 1913.3,692.8 C1917.8,701.8 1921.4,711.3 1925.2,720.7 C1929.4,731.2 1932.9,742 1937.1,752.5 C1940.9,761.9 1943.7,772 1949.1,780.3 C1953,786.5 1958.5,793.3 1965,796.2 C1973.1,799.9 1983.9,797.8 1992.8,800.2 C1998.5,801.8 2005.9,803.7 2008.7,808.2 C2012.6,814.3 2013.3,824.2 2012.7,832 C2012,841.4 2006.9,850.5 2004.8,859.9 C2002.3,870.7 1990.1,890.6 1998.8,892.6 C2037.1,901.5 2132.9,928.7 2145.8,892.6 C2181.9,791.6 2200.2,564 2145.8,481.2 C2110.1,426.8 1951.2,464.8 1875.5,481.2 Z" fill="#ffd8d8"/><path d="M1777.9,481.2 C1778.4,476.4 1792.1,477.4 1793.9,481.2 C1798.7,490.9 1795.9,508.4 1797.9,521.8 C1799.9,535.1 1804.5,548.2 1805.9,561.6 C1807.2,574.7 1806.7,588.1 1805.9,601.3 C1805.4,609.4 1804.8,618.4 1801.9,625.2 C1800.8,627.7 1796.7,628.2 1793.9,629.2 C1788.7,630.9 1783.2,631.8 1777.9,633.2 C1777.9,633.2 1777.9,633.2 1777.9,633.2 C1777.9,582.5 1773.1,527 1777.9,481.2 Z" fill="#ffd8d8"/><path d="M1897.4,481.2 C1957.5,465.3 2054.8,473.8 2124.1,481.2 C2131.7,482 2127.5,497.6 2128.1,505.9 C2128.8,517.7 2128.6,529.7 2128.1,541.7 C2127.2,561.6 2124.9,581.4 2124.1,601.3 C2123.6,614.6 2124.9,627.9 2124.1,641.1 C2123.6,649.1 2122.8,661.4 2120.1,665 C2118.8,666.7 2113.8,660.3 2112.2,657 C2109.8,652.3 2111.2,644.9 2108.2,641.1 C2105.9,638.2 2099.6,636 2096.2,637.1 C2091.7,638.7 2088,644.8 2084.3,649.1 C2080,654.1 2076.4,659.7 2072.4,665 C2068.4,670.3 2064.2,675.5 2060.4,680.9 C2055,688.7 2050.5,697.3 2044.5,704.8 C2039.9,710.6 2034.2,715.7 2028.6,720.7 C2023.6,725 2018.3,729.1 2012.7,732.6 C2007.7,735.7 2002.4,738.9 1996.8,740.6 C1989.2,742.8 1980.9,743.7 1972.9,744.5 C1967.7,745.1 1961.1,746.9 1957,744.5 C1951.9,741.6 1948.5,734.3 1945.1,728.6 C1940.5,721 1937.1,712.7 1933.2,704.8 C1927.8,694.1 1922,683.8 1917.2,672.9 C1912.7,662.6 1908.3,652 1905.3,641.1 C1901.7,628.1 1898.7,614.7 1897.4,601.3 C1895.4,581.6 1895.4,561.6 1895.4,541.7 C1895.4,521.5 1881.3,485.4 1897.4,481.2 Z" fill="#ffa8a8"/><path d="M1961,688.8 C1961.9,680.9 1965.3,672.4 1969,665 C1971.9,659.1 1977.2,654.6 1980.9,649.1 C1985.2,642.6 1989.4,636.1 1992.8,629.2 C1997.3,620.2 2002.5,611 2004.8,601.3 C2007.8,588.5 2008.7,574.8 2008.7,561.6 C2008.7,548.3 2005.7,535.1 2004.8,521.8 C2003.8,508.3 1993.4,485.2 2002.8,481.2 C2025.2,471.7 2073.3,474.7 2100.2,481.2 C2107.1,482.9 2101.2,498.3 2104.2,505.9 C2106.5,511.9 2113.5,515.9 2116.1,521.8 C2118.8,527.8 2120.1,535 2120.1,541.7 C2120.1,548.3 2118.1,555.1 2116.1,561.6 C2114.1,568.4 2110.4,574.7 2108.2,581.4 C2105.1,590.6 2103.1,600.1 2100.2,609.3 C2097.8,617.3 2096,625.7 2092.3,633.2 C2089.3,639 2084.7,644.1 2080.3,649.1 C2074.1,656.1 2067.1,662.3 2060.4,669 C2053.8,675.6 2047.5,682.6 2040.6,688.8 C2034.3,694.5 2028,700.8 2020.7,704.8 C2013.4,708.7 2004.9,712 1996.8,712.7 C1990.3,713.3 1983.1,711.1 1976.9,708.7 C1972.5,707.1 1967.8,704.3 1965,700.8 C1962.5,697.7 1960.6,692.8 1961,688.8 Z" fill="#ff8a8a"/><path d="M1996.8,661 C1998.8,651.8 2005,642.5 2008.7,633.2 C2012.9,622.6 2016.7,611.9 2020.7,601.3 C2024.6,590.7 2029.9,580.4 2032.6,569.5 C2035.2,559.2 2035.8,548.3 2036.6,537.7 C2037.1,529.8 2035.9,521.7 2036.6,513.8 C2037.2,507.1 2035.6,496.2 2040.6,493.9 C2050.2,489.5 2068,491.3 2080.3,493.9 C2086.5,495.3 2092.4,500.8 2096.2,505.9 C2100.4,511.4 2102.9,518.9 2104.2,525.8 C2105.6,533.4 2105.6,541.9 2104.2,549.6 C2102.9,556.5 2099.2,563 2096.2,569.5 C2092.6,577.6 2088.6,585.6 2084.3,593.4 C2080.6,600.2 2076.7,606.8 2072.4,613.3 C2068.7,618.8 2064.8,624.2 2060.4,629.2 C2055.5,634.8 2050.2,640.2 2044.5,645.1 C2039.6,649.4 2033.9,653 2028.6,657 C2023.3,661 2018.5,666.5 2012.7,669 C2009.2,670.4 2003.8,670.5 2000.8,669 C1998.5,667.8 1996.2,663.7 1996.8,661 Z" fill="#ff7272"/><path d="M2016.7,633.2 C2015.8,625.9 2018.7,617.1 2020.7,609.3 C2022.7,601.2 2025.6,593.2 2028.6,585.4 C2032.2,576 2035.5,566.2 2040.6,557.6 C2044.8,550.3 2050,542.7 2056.5,537.7 C2061.9,533.4 2069.5,531.1 2076.4,529.7 C2082.7,528.5 2090.8,527.4 2096.2,529.7 C2100.1,531.4 2103.6,537.3 2104.2,541.7 C2105,547.9 2102.7,555.4 2100.2,561.6 C2097.4,568.6 2092.7,575.1 2088.3,581.4 C2083.4,588.4 2077.7,594.7 2072.4,601.3 C2067.1,608 2062.1,614.9 2056.5,621.2 C2051.5,626.8 2046.7,633.3 2040.6,637.1 C2036.1,639.9 2029.4,641.9 2024.6,641.1 C2021.4,640.6 2017.1,636.5 2016.7,633.2 Z" fill="#ff5a5a"/><path d="M2044.5,589.4 C2045.2,586.3 2049.4,582.6 2052.5,581.4 C2054.7,580.6 2060,581.5 2060.4,583.4 C2061.3,586.8 2058.9,593.7 2056.5,597.4 C2054.9,599.6 2050.2,602.4 2048.5,601.3 C2046.2,599.8 2043.8,592.9 2044.5,589.4 Z" fill="#ff4242"/><path d="M1777.9,760.4 C1777.9,753.8 1774,743.8 1777.9,740.6 C1783.4,735.9 1797.7,740.3 1805.9,736.6 C1812.4,733.6 1819.5,727.4 1821.8,720.7 C1826.2,707.5 1821.6,689.3 1825.8,676.9 C1826.9,673.4 1833.7,674.1 1837.7,672.9 C1842.9,671.4 1848.3,669 1853.6,669 C1858.9,669 1864.7,670.5 1869.5,672.9 C1875.3,675.8 1880.8,680.2 1885.4,684.9 C1891.4,690.8 1896.8,697.6 1901.3,704.8 C1906.1,712.2 1909.9,720.4 1913.3,728.6 C1916.5,736.3 1919.5,744.3 1921.2,752.5 C1923.4,762.9 1924.9,773.7 1925.2,784.3 C1925.5,796.2 1924,808.2 1923.2,820.1 C1922.6,829.4 1922.5,838.7 1921.2,848 C1919.2,862.9 1925.3,888.9 1913.3,892.6 C1877.5,903.7 1800.7,914.9 1777.9,892.6 C1755.6,870.8 1777.9,804.5 1777.9,760.4 Z" fill="#dadaff"/><path d="M1853.6,720.7 C1854.6,716 1861,711.7 1865.5,710.7 C1870.3,709.7 1876.8,712.1 1881.4,714.7 C1887.4,718.1 1894.2,722.6 1897.4,728.6 C1902.2,737.9 1904.1,749.7 1905.3,760.4 C1906.8,773.5 1906,787 1905.3,800.2 C1904.7,810.9 1904.2,821.9 1901.3,832 C1898.9,840.5 1894.8,849.3 1889.4,855.9 C1885.6,860.6 1879.1,864.2 1873.5,865.9 C1869.8,866.9 1863.5,866.7 1861.6,863.9 C1857.6,858.1 1856.6,848.1 1855.6,840 C1853.9,826.9 1853.8,813.5 1853.6,800.2 C1853.4,787 1854.4,773.7 1854.4,760.4 C1854.4,747.2 1850.9,732.6 1853.6,720.7 Z" fill="#c0c0ff"/><path d="M1784,738.6 C1785.3,735.2 1785.9,730.3 1788,728.6 C1789.2,727.6 1791.9,730 1793.9,730.6 C1796.6,731.4 1799.8,731.1 1801.9,732.6 C1804.4,734.4 1806.6,737.5 1807.9,740.6 C1809.9,745.5 1809.9,751.4 1811.8,756.5 C1813.2,760 1815.1,763.7 1817.8,766.4 C1821.1,769.7 1825.4,772.8 1829.7,774.4 C1834.6,776.1 1840.3,775.9 1845.6,776.4 C1850.9,776.8 1856.2,777.1 1861.6,777.1 C1868.2,777.1 1874.8,776.8 1881.4,776.4 C1888.1,775.9 1894.8,775.7 1901.3,774.4 C1908.1,773 1914.7,770.7 1921.2,768.4 C1928,766 1934.7,763.6 1941.1,760.4 C1948,757 1954.7,752.9 1961,748.5 C1967.9,743.6 1974.6,738.3 1980.9,732.6 C1987.8,726.3 1994.5,719.6 2000.8,712.7 C2007.7,705.1 2014.4,697 2020.7,688.8 C2027.6,679.8 2034.2,670.5 2040.6,661 C2047.5,650.6 2053.8,639.8 2060.4,629.2 C2067.1,618.6 2074,608.1 2080.3,597.4 C2087.2,585.6 2092.9,573 2100.2,561.6 C2103.5,556.4 2107.5,551.5 2112.2,547.6 C2115.5,544.8 2120,542.5 2124.1,541.7 C2126.6,541.2 2129.8,542.3 2132,543.7 C2135.1,545.6 2137.3,549 2140,551.6" fill="none" stroke="#808080" stroke-width="3.6"/><path d="M1784,728.6 C1785.3,724 1786.1,717.1 1788,714.7 C1788.7,713.8 1790.5,717.5 1791.9,718.7 C1793.8,720.2 1795.8,721.5 1797.9,722.7 C1799.8,723.7 1802.5,723.8 1803.9,725.4 C1806.5,728.5 1808.4,732.7 1809.8,736.6 C1811.7,741.7 1811.3,747.9 1813.8,752.5 C1815.3,755.2 1818.9,757 1821.8,758.5 C1825.5,760.3 1829.7,762.4 1833.7,762.4 C1837.7,762.4 1841.5,759.1 1845.6,758.5 C1852.1,757.4 1858.9,757.3 1865.5,757.3 C1872.2,757.3 1878.8,758 1885.4,758.5 C1890.7,758.8 1896.1,759 1901.3,759.6 C1906.7,760.3 1911.9,761.5 1917.2,762.4 C1922.5,763.4 1927.8,764.9 1933.2,765.2 C1938.4,765.5 1943.9,765.5 1949.1,764.4 C1954.5,763.3 1960.1,761.2 1965,758.5 C1970.7,755.2 1975.9,750.9 1980.9,746.5 C1986.5,741.6 1992,736.3 1996.8,730.6 C2002.6,723.7 2007.6,716.1 2012.7,708.7 C2018.2,700.9 2023.3,692.8 2028.6,684.9 C2033.9,676.9 2039.5,669.1 2044.5,661 C2050.1,651.9 2054.8,642.3 2060.4,633.2 C2065.4,625 2071,617.2 2076.4,609.3 C2081.7,601.3 2086.6,593.1 2092.3,585.4 C2097.3,578.6 2102.6,571.9 2108.2,565.5 C2111.9,561.3 2115.8,557.1 2120.1,553.6 C2122.4,551.8 2125.4,549.6 2128.1,549.6 C2130.7,549.6 2133.8,551.8 2136,553.6 C2137.8,555.1 2138.7,557.6 2140,559.6" fill="none" stroke="#000" stroke-width="4.0"/></g></g>
<rect x="83.5" y="26.8" width="351.9" height="395.4" fill="none" stroke="#000" stroke-width="1.6"/>
<rect x="509.1" y="26.8" width="351.9" height="395.4" fill="none" stroke="#000" stroke-width="1.6"/>
<rect x="934.7" y="26.8" width="351.9" height="395.4" fill="none" stroke="#000" stroke-width="1.6"/>
<rect x="1360.3" y="26.8" width="351.9" height="395.4" fill="none" stroke="#000" stroke-width="1.6"/>
<rect x="1785.9" y="26.8" width="351.9" height="395.4" fill="none" stroke="#000" stroke-width="1.6"/>
<rect x="83.5" y="489.2" width="351.9" height="395.4" fill="none" stroke="#000" stroke-width="1.6"/>
<rect x="509.1" y="489.2" width="351.9" height="395.4" fill="none" stroke="#000" stroke-width="1.6"/>
<rect x="934.7" y="489.2" width="351.9" height="395.4" fill="none" stroke="#000" stroke-width="1.6"/>
<rect x="1360.3" y="489.2" width="351.9" height="395.4" fill="none" stroke="#000" stroke-width="1.6"/>
<rect x="1785.9" y="489.2" width="351.9" height="395.4" fill="none" stroke="#000" stroke-width="1.6"/>
<path d="M83.5,422.2v7 M171.5,422.2v7 M259.4,422.2v7 M347.4,422.2v7 M435.4,422.2v7 M83.5,386.3h-7 M83.5,314.4h-7 M83.5,242.5h-7 M83.5,170.6h-7 M83.5,98.7h-7 M83.5,26.8h-7 M509.1,422.2v7 M597.1,422.2v7 M685,422.2v7 M773,422.2v7 M861,422.2v7 M509.1,99.4h-7 M509.1,180.1h-7 M509.1,260.8h-7 M509.1,341.5h-7 M509.1,422.2h-7 M934.7,422.2v7 M1022.7,422.2v7 M1110.7,422.2v7 M1198.6,422.2v7 M1286.6,422.2v7 M934.7,99.4h-7 M934.7,180.1h-7 M934.7,260.8h-7 M934.7,341.5h-7 M934.7,422.2h-7 M1360.3,422.2v7 M1448.3,422.2v7 M1536.2,422.2v7 M1624.2,422.2v7 M1712.2,422.2v7 M1360.3,99.4h-7 M1360.3,180.1h-7 M1360.3,260.8h-7 M1360.3,341.5h-7 M1360.3,422.2h-7 M1785.9,422.2v7 M1873.9,422.2v7 M1961.9,422.2v7 M2049.8,422.2v7 M2137.8,422.2v7 M1785.9,99.4h-7 M1785.9,180.1h-7 M1785.9,260.8h-7 M1785.9,341.5h-7 M1785.9,422.2h-7 M83.5,884.6v7 M171.5,884.6v7 M259.4,884.6v7 M347.4,884.6v7 M435.4,884.6v7 M83.5,848.7h-7 M83.5,776.8h-7 M83.5,704.9h-7 M83.5,633h-7 M83.5,561.1h-7 M83.5,489.2h-7 M509.1,884.6v7 M597.1,884.6v7 M685,884.6v7 M773,884.6v7 M861,884.6v7 M509.1,561.8h-7 M509.1,642.5h-7 M509.1,723.2h-7 M509.1,803.9h-7 M509.1,884.6h-7 M934.7,884.6v7 M1022.7,884.6v7 M1110.7,884.6v7 M1198.6,884.6v7 M1286.6,884.6v7 M934.7,561.8h-7 M934.7,642.5h-7 M934.7,723.2h-7 M934.7,803.9h-7 M934.7,884.6h-7 M1360.3,884.6v7 M1448.3,884.6v7 M1536.2,884.6v7 M1624.2,884.6v7 M1712.2,884.6v7 M1360.3,561.8h-7 M1360.3,642.5h-7 M1360.3,723.2h-7 M1360.3,803.9h-7 M1360.3,884.6h-7 M1785.9,884.6v7 M1873.9,884.6v7 M1961.9,884.6v7 M2049.8,884.6v7 M2137.8,884.6v7 M1785.9,561.8h-7 M1785.9,642.5h-7 M1785.9,723.2h-7 M1785.9,803.9h-7 M1785.9,884.6h-7" stroke="#000" stroke-width="3.2"/>
<path d="M105.5,422.2v3.5 M127.5,422.2v3.5 M149.5,422.2v3.5 M193.5,422.2v3.5 M215.5,422.2v3.5 M237.5,422.2v3.5 M281.4,422.2v3.5 M303.4,422.2v3.5 M325.4,422.2v3.5 M369.4,422.2v3.5 M391.4,422.2v3.5 M413.4,422.2v3.5 M83.5,422.2h-3.5 M83.5,350.3h-3.5 M83.5,278.4h-3.5 M83.5,206.5h-3.5 M83.5,134.6h-3.5 M83.5,62.7h-3.5 M531.1,422.2v3.5 M553.1,422.2v3.5 M575.1,422.2v3.5 M619.1,422.2v3.5 M641.1,422.2v3.5 M663.1,422.2v3.5 M707,422.2v3.5 M729,422.2v3.5 M751,422.2v3.5 M795,422.2v3.5 M817,422.2v3.5 M839,422.2v3.5 M509.1,34.9h-3.5 M509.1,51h-3.5 M509.1,67.1h-3.5 M509.1,83.3h-3.5 M509.1,115.6h-3.5 M509.1,131.7h-3.5 M509.1,147.8h-3.5 M509.1,164h-3.5 M509.1,196.3h-3.5 M509.1,212.4h-3.5 M509.1,228.5h-3.5 M509.1,244.7h-3.5 M509.1,277h-3.5 M509.1,293.1h-3.5 M509.1,309.2h-3.5 M509.1,325.4h-3.5 M509.1,357.6h-3.5 M509.1,373.8h-3.5 M509.1,389.9h-3.5 M509.1,406.1h-3.5 M956.7,422.2v3.5 M978.7,422.2v3.5 M1000.7,422.2v3.5 M1044.7,422.2v3.5 M1066.7,422.2v3.5 M1088.7,422.2v3.5 M1132.6,422.2v3.5 M1154.6,422.2v3.5 M1176.6,422.2v3.5 M1220.6,422.2v3.5 M1242.6,422.2v3.5 M1264.6,422.2v3.5 M934.7,34.9h-3.5 M934.7,51h-3.5 M934.7,67.1h-3.5 M934.7,83.3h-3.5 M934.7,115.6h-3.5 M934.7,131.7h-3.5 M934.7,147.8h-3.5 M934.7,164h-3.5 M934.7,196.3h-3.5 M934.7,212.4h-3.5 M934.7,228.5h-3.5 M934.7,244.7h-3.5 M934.7,277h-3.5 M934.7,293.1h-3.5 M934.7,309.2h-3.5 M934.7,325.4h-3.5 M934.7,357.6h-3.5 M934.7,373.8h-3.5 M934.7,389.9h-3.5 M934.7,406.1h-3.5 M1382.3,422.2v3.5 M1404.3,422.2v3.5 M1426.3,422.2v3.5 M1470.3,422.2v3.5 M1492.3,422.2v3.5 M1514.3,422.2v3.5 M1558.2,422.2v3.5 M1580.2,422.2v3.5 M1602.2,422.2v3.5 M1646.2,422.2v3.5 M1668.2,422.2v3.5 M1690.2,422.2v3.5 M1360.3,34.9h-3.5 M1360.3,51h-3.5 M1360.3,67.1h-3.5 M1360.3,83.3h-3.5 M1360.3,115.6h-3.5 M1360.3,131.7h-3.5 M1360.3,147.8h-3.5 M1360.3,164h-3.5 M1360.3,196.3h-3.5 M1360.3,212.4h-3.5 M1360.3,228.5h-3.5 M1360.3,244.7h-3.5 M1360.3,277h-3.5 M1360.3,293.1h-3.5 M1360.3,309.2h-3.5 M1360.3,325.4h-3.5 M1360.3,357.6h-3.5 M1360.3,373.8h-3.5 M1360.3,389.9h-3.5 M1360.3,406.1h-3.5 M1807.9,422.2v3.5 M1829.9,422.2v3.5 M1851.9,422.2v3.5 M1895.9,422.2v3.5 M1917.9,422.2v3.5 M1939.9,422.2v3.5 M1983.8,422.2v3.5 M2005.8,422.2v3.5 M2027.8,422.2v3.5 M2071.8,422.2v3.5 M2093.8,422.2v3.5 M2115.8,422.2v3.5 M1785.9,34.9h-3.5 M1785.9,51h-3.5 M1785.9,67.1h-3.5 M1785.9,83.3h-3.5 M1785.9,115.6h-3.5 M1785.9,131.7h-3.5 M1785.9,147.8h-3.5 M1785.9,164h-3.5 M1785.9,196.3h-3.5 M1785.9,212.4h-3.5 M1785.9,228.5h-3.5 M1785.9,244.7h-3.5 M1785.9,277h-3.5 M1785.9,293.1h-3.5 M1785.9,309.2h-3.5 M1785.9,325.4h-3.5 M1785.9,357.6h-3.5 M1785.9,373.8h-3.5 M1785.9,389.9h-3.5 M1785.9,406.1h-3.5 M105.5,884.6v3.5 M127.5,884.6v3.5 M149.5,884.6v3.5 M193.5,884.6v3.5 M215.5,884.6v3.5 M237.5,884.6v3.5 M281.4,884.6v3.5 M303.4,884.6v3.5 M325.4,884.6v3.5 M369.4,884.6v3.5 M391.4,884.6v3.5 M413.4,884.6v3.5 M83.5,884.6h-3.5 M83.5,812.7h-3.5 M83.5,740.8h-3.5 M83.5,668.9h-3.5 M83.5,597h-3.5 M83.5,525.1h-3.5 M531.1,884.6v3.5 M553.1,884.6v3.5 M575.1,884.6v3.5 M619.1,884.6v3.5 M641.1,884.6v3.5 M663.1,884.6v3.5 M707,884.6v3.5 M729,884.6v3.5 M751,884.6v3.5 M795,884.6v3.5 M817,884.6v3.5 M839,884.6v3.5 M509.1,497.3h-3.5 M509.1,513.4h-3.5 M509.1,529.5h-3.5 M509.1,545.7h-3.5 M509.1,578h-3.5 M509.1,594.1h-3.5 M509.1,610.2h-3.5 M509.1,626.4h-3.5 M509.1,658.7h-3.5 M509.1,674.8h-3.5 M509.1,690.9h-3.5 M509.1,707.1h-3.5 M509.1,739.4h-3.5 M509.1,755.5h-3.5 M509.1,771.6h-3.5 M509.1,787.8h-3.5 M509.1,820h-3.5 M509.1,836.2h-3.5 M509.1,852.3h-3.5 M509.1,868.5h-3.5 M956.7,884.6v3.5 M978.7,884.6v3.5 M1000.7,884.6v3.5 M1044.7,884.6v3.5 M1066.7,884.6v3.5 M1088.7,884.6v3.5 M1132.6,884.6v3.5 M1154.6,884.6v3.5 M1176.6,884.6v3.5 M1220.6,884.6v3.5 M1242.6,884.6v3.5 M1264.6,884.6v3.5 M934.7,497.3h-3.5 M934.7,513.4h-3.5 M934.7,529.5h-3.5 M934.7,545.7h-3.5 M934.7,578h-3.5 M934.7,594.1h-3.5 M934.7,610.2h-3.5 M934.7,626.4h-3.5 M934.7,658.7h-3.5 M934.7,674.8h-3.5 M934.7,690.9h-3.5 M934.7,707.1h-3.5 M934.7,739.4h-3.5 M934.7,755.5h-3.5 M934.7,771.6h-3.5 M934.7,787.8h-3.5 M934.7,820h-3.5 M934.7,836.2h-3.5 M934.7,852.3h-3.5 M934.7,868.5h-3.5 M1382.3,884.6v3.5 M1404.3,884.6v3.5 M1426.3,884.6v3.5 M1470.3,884.6v3.5 M1492.3,884.6v3.5 M1514.3,884.6v3.5 M1558.2,884.6v3.5 M1580.2,884.6v3.5 M1602.2,884.6v3.5 M1646.2,884.6v3.5 M1668.2,884.6v3.5 M1690.2,884.6v3.5 M1360.3,497.3h-3.5 M1360.3,513.4h-3.5 M1360.3,529.5h-3.5 M1360.3,545.7h-3.5 M1360.3,578h-3.5 M1360.3,594.1h-3.5 M1360.3,610.2h-3.5 M1360.3,626.4h-3.5 M1360.3,658.7h-3.5 M1360.3,674.8h-3.5 M1360.3,690.9h-3.5 M1360.3,707.1h-3.5 M1360.3,739.4h-3.5 M1360.3,755.5h-3.5 M1360.3,771.6h-3.5 M1360.3,787.8h-3.5 M1360.3,820h-3.5 M1360.3,836.2h-3.5 M1360.3,852.3h-3.5 M1360.3,868.5h-3.5 M1807.9,884.6v3.5 M1829.9,884.6v3.5 M1851.9,884.6v3.5 M1895.9,884.6v3.5 M1917.9,884.6v3.5 M1939.9,884.6v3.5 M1983.8,884.6v3.5 M2005.8,884.6v3.5 M2027.8,884.6v3.5 M2071.8,884.6v3.5 M2093.8,884.6v3.5 M2115.8,884.6v3.5 M1785.9,497.3h-3.5 M1785.9,513.4h-3.5 M1785.9,529.5h-3.5 M1785.9,545.7h-3.5 M1785.9,578h-3.5 M1785.9,594.1h-3.5 M1785.9,610.2h-3.5 M1785.9,626.4h-3.5 M1785.9,658.7h-3.5 M1785.9,674.8h-3.5 M1785.9,690.9h-3.5 M1785.9,707.1h-3.5 M1785.9,739.4h-3.5 M1785.9,755.5h-3.5 M1785.9,771.6h-3.5 M1785.9,787.8h-3.5 M1785.9,820h-3.5 M1785.9,836.2h-3.5 M1785.9,852.3h-3.5 M1785.9,868.5h-3.5" stroke="#000" stroke-width="1.3"/>
<path d="M900.5,955.8 L877.1,962.8 L900.5,969.9 Z" fill="#2222ff"/>
<path d="M1334.3,955.8 L1357.5,962.8 L1334.3,969.9 Z" fill="#ff2a2a"/>
<rect x="900.5" y="955.8" width="22.1" height="14.1" fill="#2222ff"/>
<rect x="922.2" y="955.8" width="22.1" height="14.1" fill="#4040ff"/>
<rect x="943.9" y="955.8" width="22.1" height="14.1" fill="#5a5aff"/>
<rect x="965.6" y="955.8" width="22.1" height="14.1" fill="#7474ff"/>
<rect x="987.3" y="955.8" width="22.1" height="14.1" fill="#8a8aff"/>
<rect x="1009" y="955.8" width="22.1" height="14.1" fill="#8a8aff"/>
<rect x="1030.6" y="955.8" width="22.1" height="14.1" fill="#a4a4ff"/>
<rect x="1052.3" y="955.8" width="22.1" height="14.1" fill="#c0c0ff"/>
<rect x="1074" y="955.8" width="22.1" height="14.1" fill="#dadaff"/>
<rect x="1095.7" y="955.8" width="22.1" height="14.1" fill="#ffffff"/>
<rect x="1117.4" y="955.8" width="22.1" height="14.1" fill="#ffffff"/>
<rect x="1139.1" y="955.8" width="22.1" height="14.1" fill="#ffd8d8"/>
<rect x="1160.8" y="955.8" width="22.1" height="14.1" fill="#ffd8d8"/>
<rect x="1182.5" y="955.8" width="22.1" height="14.1" fill="#ffa8a8"/>
<rect x="1204.2" y="955.8" width="22.1" height="14.1" fill="#ffa8a8"/>
<rect x="1225.8" y="955.8" width="22.1" height="14.1" fill="#ff8a8a"/>
<rect x="1247.5" y="955.8" width="22.1" height="14.1" fill="#ff7272"/>
<rect x="1269.2" y="955.8" width="22.1" height="14.1" fill="#ff5a5a"/>
<rect x="1290.9" y="955.8" width="22.1" height="14.1" fill="#ff4242"/>
<rect x="1312.6" y="955.8" width="22.1" height="14.1" fill="#ff2a2a"/>
<path d="M900.5,955.8 L877.1,962.8 L900.5,969.9 L1334.3,969.9 L1357.5,962.8 L1334.3,955.8 Z" fill="none" stroke="#000" stroke-width="1.6"/>
<path d="M900.5,969.9v6 M1009,969.9v6 M1117.4,969.9v6 M1225.8,969.9v6 M1334.3,969.9v6" stroke="#000" stroke-width="1.6"/>
<g style="font-family:'Liberation Sans',Arial,sans-serif;font-size:24px" fill="#000" stroke="#000" stroke-width="0.5"><text x="83.5" y="17.6" text-anchor="start">a. SSTA &amp; SLA</text><text x="435.4" y="17.6" text-anchor="end">Obs</text><text x="509.1" y="17.6" text-anchor="start">b. JFM Eq Temp</text><text x="861" y="17.6" text-anchor="end">Obs</text><text x="934.7" y="17.6" text-anchor="start">c. AMJ</text><text x="1286.6" y="17.6" text-anchor="end">Obs</text><text x="1360.3" y="17.6" text-anchor="start">d. JAS</text><text x="1712.2" y="17.6" text-anchor="end">Obs</text><text x="1785.9" y="17.6" text-anchor="start">e. OND</text><text x="2137.8" y="17.6" text-anchor="end">Obs</text><text x="71" y="394.9" text-anchor="end">Feb</text><text x="71" y="323" text-anchor="end">Apr</text><text x="71" y="251.1" text-anchor="end">Jun</text><text x="71" y="179.2" text-anchor="end">Aug</text><text x="71" y="107.3" text-anchor="end">Oct</text><text x="71" y="35.4" text-anchor="end">Dec</text><text x="496.6" y="108" text-anchor="end">50</text><text x="496.6" y="188.7" text-anchor="end">100</text><text x="496.6" y="269.4" text-anchor="end">150</text><text x="496.6" y="350.1" text-anchor="end">200</text><text x="496.6" y="430.8" text-anchor="end">250</text><text transform="translate(17,224.5) rotate(-90)" text-anchor="middle">Month</text><text transform="translate(459.5,224.5) rotate(-90)" text-anchor="middle">Depth</text><text x="83.5" y="480" text-anchor="start">f. SSTA &amp; SLA</text><text x="435.4" y="480" text-anchor="end">CTRL</text><text x="509.1" y="480" text-anchor="start">g. JFM</text><text x="861" y="480" text-anchor="end">CTRL</text><text x="934.7" y="480" text-anchor="start">h. AMJ</text><text x="1286.6" y="480" text-anchor="end">CTRL</text><text x="1360.3" y="480" text-anchor="start">i. JAS</text><text x="1712.2" y="480" text-anchor="end">CTRL</text><text x="1785.9" y="480" text-anchor="start">j. OND</text><text x="2137.8" y="480" text-anchor="end">CTRL</text><text x="71" y="857.3" text-anchor="end">Feb</text><text x="71" y="785.4" text-anchor="end">Apr</text><text x="71" y="713.5" text-anchor="end">Jun</text><text x="71" y="641.6" text-anchor="end">Aug</text><text x="71" y="569.7" text-anchor="end">Oct</text><text x="71" y="497.8" text-anchor="end">Dec</text><text x="496.6" y="570.4" text-anchor="end">50</text><text x="496.6" y="651.1" text-anchor="end">100</text><text x="496.6" y="731.8" text-anchor="end">150</text><text x="496.6" y="812.5" text-anchor="end">200</text><text x="496.6" y="893.2" text-anchor="end">250</text><text transform="translate(17,686.9) rotate(-90)" text-anchor="middle">Month</text><text transform="translate(459.5,686.9) rotate(-90)" text-anchor="middle">Depth</text><text x="83.5" y="913.5" text-anchor="middle">120°E</text><text x="171.5" y="913.5" text-anchor="middle">160°E</text><text x="259.4" y="913.5" text-anchor="middle">160°W</text><text x="347.4" y="913.5" text-anchor="middle">120°W</text><text x="435.4" y="913.5" text-anchor="middle">80°W</text><text x="509.1" y="913.5" text-anchor="middle">120°E</text><text x="597.1" y="913.5" text-anchor="middle">160°E</text><text x="685" y="913.5" text-anchor="middle">160°W</text><text x="773" y="913.5" text-anchor="middle">120°W</text><text x="861" y="913.5" text-anchor="middle">80°W</text><text x="934.7" y="913.5" text-anchor="middle">120°E</text><text x="1022.7" y="913.5" text-anchor="middle">160°E</text><text x="1110.7" y="913.5" text-anchor="middle">160°W</text><text x="1198.6" y="913.5" text-anchor="middle">120°W</text><text x="1286.6" y="913.5" text-anchor="middle">80°W</text><text x="1360.3" y="913.5" text-anchor="middle">120°E</text><text x="1448.3" y="913.5" text-anchor="middle">160°E</text><text x="1536.2" y="913.5" text-anchor="middle">160°W</text><text x="1624.2" y="913.5" text-anchor="middle">120°W</text><text x="1712.2" y="913.5" text-anchor="middle">80°W</text><text x="1785.9" y="913.5" text-anchor="middle">120°E</text><text x="1873.9" y="913.5" text-anchor="middle">160°E</text><text x="1961.9" y="913.5" text-anchor="middle">160°W</text><text x="2049.8" y="913.5" text-anchor="middle">120°W</text><text x="2137.8" y="913.5" text-anchor="middle">80°W</text><text x="900.5" y="997.5" text-anchor="middle">−5.0</text><text x="1009" y="997.5" text-anchor="middle">−2.5</text><text x="1117.4" y="997.5" text-anchor="middle">0.0</text><text x="1225.8" y="997.5" text-anchor="middle">2.5</text><text x="1334.3" y="997.5" text-anchor="middle">5.0</text><text x="1117.4" y="1025.7" text-anchor="middle">Temp (°C)</text></g>
</svg></body></html>
